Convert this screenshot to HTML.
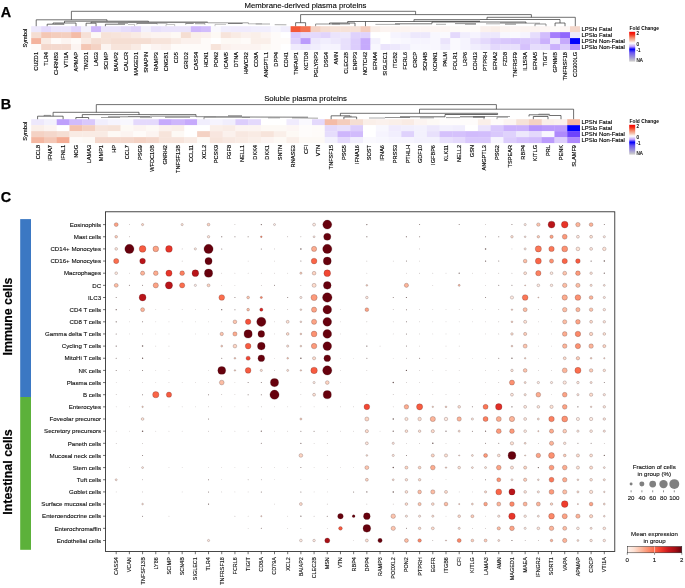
<!DOCTYPE html>
<html><head><meta charset="utf-8"><title>Figure</title>
<style>
html,body{margin:0;padding:0;background:#fff;}
svg{display:block;font-family:"Liberation Sans", sans-serif;will-change:transform;opacity:0.999;}
</style></head>
<body>
<svg width="685" height="588" viewBox="0 0 685 588">
<rect x="0" y="0" width="685" height="588" fill="#ffffff"/>
<text x="0.70" y="16.60" font-size="14.4" text-anchor="start" font-weight="bold" fill="#000" stroke="#000" stroke-width="0.25">A</text>
<text x="305.50" y="7.60" font-size="7.75" text-anchor="middle" font-weight="normal" fill="#000" stroke="#000" stroke-width="0.1">Membrane-derived plasma proteins</text>
<g>
<rect x="31.20" y="26.20" width="10.28" height="6.25" fill="#ede8fc"/>
<rect x="41.18" y="26.20" width="10.28" height="6.25" fill="#e4d9fc"/>
<rect x="51.16" y="26.20" width="10.28" height="6.25" fill="#ebe4fc"/>
<rect x="61.13" y="26.20" width="10.28" height="6.25" fill="#ebe4fc"/>
<rect x="71.11" y="26.20" width="10.28" height="6.25" fill="#e1d4fc"/>
<rect x="81.09" y="26.20" width="10.28" height="6.25" fill="#f3f1fd"/>
<rect x="91.07" y="26.20" width="10.28" height="6.25" fill="#ceb6fc"/>
<rect x="101.05" y="26.20" width="10.28" height="6.25" fill="#ebe4fc"/>
<rect x="111.03" y="26.20" width="10.28" height="6.25" fill="#ebe4fc"/>
<rect x="121.00" y="26.20" width="10.28" height="6.25" fill="#e6ddfc"/>
<rect x="130.98" y="26.20" width="10.28" height="6.25" fill="#e1d4fc"/>
<rect x="140.96" y="26.20" width="10.28" height="6.25" fill="#f3f1fd"/>
<rect x="150.94" y="26.20" width="10.28" height="6.25" fill="#e8e0fc"/>
<rect x="160.92" y="26.20" width="10.28" height="6.25" fill="#ebe4fc"/>
<rect x="170.89" y="26.20" width="10.28" height="6.25" fill="#ebe4fc"/>
<rect x="180.87" y="26.20" width="10.28" height="6.25" fill="#ebe4fc"/>
<rect x="190.85" y="26.20" width="10.28" height="6.25" fill="#ceb6fc"/>
<rect x="200.83" y="26.20" width="10.28" height="6.25" fill="#d2bdfc"/>
<rect x="210.81" y="26.20" width="10.28" height="6.25" fill="#faf9fe"/>
<rect x="220.79" y="26.20" width="10.28" height="6.25" fill="#f1eefd"/>
<rect x="230.76" y="26.20" width="10.28" height="6.25" fill="#f0ebfd"/>
<rect x="240.74" y="26.20" width="10.28" height="6.25" fill="#f0ebfd"/>
<rect x="250.72" y="26.20" width="10.28" height="6.25" fill="#f1eefd"/>
<rect x="260.70" y="26.20" width="10.28" height="6.25" fill="#f1eefd"/>
<rect x="270.68" y="26.20" width="10.28" height="6.25" fill="#f8f7fe"/>
<rect x="280.65" y="26.20" width="10.28" height="6.25" fill="#f1eefd"/>
<rect x="290.63" y="26.20" width="10.28" height="6.25" fill="#f45737"/>
<rect x="300.61" y="26.20" width="10.28" height="6.25" fill="#f47251"/>
<rect x="310.59" y="26.20" width="10.28" height="6.25" fill="#f4d2c4"/>
<rect x="320.57" y="26.20" width="10.28" height="6.25" fill="#f5ded3"/>
<rect x="330.55" y="26.20" width="10.28" height="6.25" fill="#f6e2d8"/>
<rect x="340.52" y="26.20" width="10.28" height="6.25" fill="#f6e2d8"/>
<rect x="350.50" y="26.20" width="10.28" height="6.25" fill="#f6e2d8"/>
<rect x="360.48" y="26.20" width="10.28" height="6.25" fill="#f4cdbd"/>
<rect x="370.46" y="26.20" width="10.28" height="6.25" fill="#faefe9"/>
<rect x="380.44" y="26.20" width="10.28" height="6.25" fill="#fcf4f1"/>
<rect x="390.41" y="26.20" width="10.28" height="6.25" fill="#fcf4f1"/>
<rect x="400.39" y="26.20" width="10.28" height="6.25" fill="#fcf4f1"/>
<rect x="410.37" y="26.20" width="10.28" height="6.25" fill="#fdf6f4"/>
<rect x="420.35" y="26.20" width="10.28" height="6.25" fill="#fdf6f4"/>
<rect x="430.33" y="26.20" width="10.28" height="6.25" fill="#fdf6f4"/>
<rect x="440.31" y="26.20" width="10.28" height="6.25" fill="#fdf6f4"/>
<rect x="450.28" y="26.20" width="10.28" height="6.25" fill="#fdfaf8"/>
<rect x="460.26" y="26.20" width="10.28" height="6.25" fill="#fefbf9"/>
<rect x="470.24" y="26.20" width="10.28" height="6.25" fill="#fefbf9"/>
<rect x="480.22" y="26.20" width="10.28" height="6.25" fill="#fbf1ed"/>
<rect x="490.20" y="26.20" width="10.28" height="6.25" fill="#faefe9"/>
<rect x="500.17" y="26.20" width="10.28" height="6.25" fill="#fcf4f1"/>
<rect x="510.15" y="26.20" width="10.28" height="6.25" fill="#fdf6f4"/>
<rect x="520.13" y="26.20" width="10.28" height="6.25" fill="#fcf4f1"/>
<rect x="530.11" y="26.20" width="10.28" height="6.25" fill="#fcf4f1"/>
<rect x="540.09" y="26.20" width="10.28" height="6.25" fill="#fdf6f4"/>
<rect x="550.07" y="26.20" width="10.28" height="6.25" fill="#fdfaf8"/>
<rect x="560.04" y="26.20" width="10.28" height="6.25" fill="#fdf6f4"/>
<rect x="570.02" y="26.20" width="9.98" height="6.25" fill="#f4d7cb"/>
<rect x="31.20" y="32.15" width="10.28" height="6.25" fill="#f5ded3"/>
<rect x="41.18" y="32.15" width="10.28" height="6.25" fill="#f4c7b5"/>
<rect x="51.16" y="32.15" width="10.28" height="6.25" fill="#f4cdbd"/>
<rect x="61.13" y="32.15" width="10.28" height="6.25" fill="#f4cfc0"/>
<rect x="71.11" y="32.15" width="10.28" height="6.25" fill="#f4bca8"/>
<rect x="81.09" y="32.15" width="10.28" height="6.25" fill="#f6e0d7"/>
<rect x="91.07" y="32.15" width="10.28" height="6.25" fill="#fdf9f5"/>
<rect x="101.05" y="32.15" width="10.28" height="6.25" fill="#f6e2d8"/>
<rect x="111.03" y="32.15" width="10.28" height="6.25" fill="#f7e4db"/>
<rect x="121.00" y="32.15" width="10.28" height="6.25" fill="#f8e6df"/>
<rect x="130.98" y="32.15" width="10.28" height="6.25" fill="#f9ebe4"/>
<rect x="140.96" y="32.15" width="10.28" height="6.25" fill="#fbf1ed"/>
<rect x="150.94" y="32.15" width="10.28" height="6.25" fill="#fcf4f1"/>
<rect x="160.92" y="32.15" width="10.28" height="6.25" fill="#fcf4f1"/>
<rect x="170.89" y="32.15" width="10.28" height="6.25" fill="#fdf9f5"/>
<rect x="180.87" y="32.15" width="10.28" height="6.25" fill="#f5ded3"/>
<rect x="190.85" y="32.15" width="10.28" height="6.25" fill="#faefe9"/>
<rect x="200.83" y="32.15" width="10.28" height="6.25" fill="#fbf1ed"/>
<rect x="210.81" y="32.15" width="10.28" height="6.25" fill="#fdf9f5"/>
<rect x="220.79" y="32.15" width="10.28" height="6.25" fill="#f7e4db"/>
<rect x="230.76" y="32.15" width="10.28" height="6.25" fill="#f9ebe4"/>
<rect x="240.74" y="32.15" width="10.28" height="6.25" fill="#fbf1ed"/>
<rect x="250.72" y="32.15" width="10.28" height="6.25" fill="#faefe9"/>
<rect x="260.70" y="32.15" width="10.28" height="6.25" fill="#fcf4f1"/>
<rect x="270.68" y="32.15" width="10.28" height="6.25" fill="#fefbf9"/>
<rect x="280.65" y="32.15" width="10.28" height="6.25" fill="#ffffff"/>
<rect x="290.63" y="32.15" width="10.28" height="6.25" fill="#d9c8fc"/>
<rect x="300.61" y="32.15" width="10.28" height="6.25" fill="#e4d9fc"/>
<rect x="310.59" y="32.15" width="10.28" height="6.25" fill="#e4d9fc"/>
<rect x="320.57" y="32.15" width="10.28" height="6.25" fill="#e1d4fc"/>
<rect x="330.55" y="32.15" width="10.28" height="6.25" fill="#ebe4fc"/>
<rect x="340.52" y="32.15" width="10.28" height="6.25" fill="#ede8fc"/>
<rect x="350.50" y="32.15" width="10.28" height="6.25" fill="#dfd2fc"/>
<rect x="360.48" y="32.15" width="10.28" height="6.25" fill="#dfd2fc"/>
<rect x="370.46" y="32.15" width="10.28" height="6.25" fill="#ffffff"/>
<rect x="380.44" y="32.15" width="10.28" height="6.25" fill="#ffffff"/>
<rect x="390.41" y="32.15" width="10.28" height="6.25" fill="#f6f4fe"/>
<rect x="400.39" y="32.15" width="10.28" height="6.25" fill="#f3f1fd"/>
<rect x="410.37" y="32.15" width="10.28" height="6.25" fill="#ede8fc"/>
<rect x="420.35" y="32.15" width="10.28" height="6.25" fill="#ede8fc"/>
<rect x="430.33" y="32.15" width="10.28" height="6.25" fill="#f8f7fe"/>
<rect x="440.31" y="32.15" width="10.28" height="6.25" fill="#faf9fe"/>
<rect x="450.28" y="32.15" width="10.28" height="6.25" fill="#e4d9fc"/>
<rect x="460.26" y="32.15" width="10.28" height="6.25" fill="#f1eefd"/>
<rect x="470.24" y="32.15" width="10.28" height="6.25" fill="#f6f4fe"/>
<rect x="480.22" y="32.15" width="10.28" height="6.25" fill="#ede8fc"/>
<rect x="490.20" y="32.15" width="10.28" height="6.25" fill="#ede8fc"/>
<rect x="500.17" y="32.15" width="10.28" height="6.25" fill="#f8f7fe"/>
<rect x="510.15" y="32.15" width="10.28" height="6.25" fill="#faf9fe"/>
<rect x="520.13" y="32.15" width="10.28" height="6.25" fill="#f6f4fe"/>
<rect x="530.11" y="32.15" width="10.28" height="6.25" fill="#e6ddfc"/>
<rect x="540.09" y="32.15" width="10.28" height="6.25" fill="#d2bdfc"/>
<rect x="550.07" y="32.15" width="10.28" height="6.25" fill="#a57efc"/>
<rect x="560.04" y="32.15" width="10.28" height="6.25" fill="#9167fc"/>
<rect x="570.02" y="32.15" width="9.98" height="6.25" fill="#ede8fc"/>
<rect x="31.20" y="38.10" width="10.28" height="6.25" fill="#f4b49e"/>
<rect x="41.18" y="38.10" width="10.28" height="6.25" fill="#f9ebe4"/>
<rect x="51.16" y="38.10" width="10.28" height="6.25" fill="#fefbf9"/>
<rect x="61.13" y="38.10" width="10.28" height="6.25" fill="#fcf4f1"/>
<rect x="71.11" y="38.10" width="10.28" height="6.25" fill="#fefbf9"/>
<rect x="81.09" y="38.10" width="10.28" height="6.25" fill="#f9ebe4"/>
<rect x="91.07" y="38.10" width="10.28" height="6.25" fill="#f5ded3"/>
<rect x="101.05" y="38.10" width="10.28" height="6.25" fill="#f6e2d8"/>
<rect x="111.03" y="38.10" width="10.28" height="6.25" fill="#f5ded3"/>
<rect x="121.00" y="38.10" width="10.28" height="6.25" fill="#f5ded3"/>
<rect x="130.98" y="38.10" width="10.28" height="6.25" fill="#f5ded3"/>
<rect x="140.96" y="38.10" width="10.28" height="6.25" fill="#f5ded3"/>
<rect x="150.94" y="38.10" width="10.28" height="6.25" fill="#f7e4db"/>
<rect x="160.92" y="38.10" width="10.28" height="6.25" fill="#f7e4db"/>
<rect x="170.89" y="38.10" width="10.28" height="6.25" fill="#f9ebe4"/>
<rect x="180.87" y="38.10" width="10.28" height="6.25" fill="#fbf1ed"/>
<rect x="190.85" y="38.10" width="10.28" height="6.25" fill="#fbf1ed"/>
<rect x="200.83" y="38.10" width="10.28" height="6.25" fill="#fefbf9"/>
<rect x="210.81" y="38.10" width="10.28" height="6.25" fill="#ffffff"/>
<rect x="220.79" y="38.10" width="10.28" height="6.25" fill="#fdf9f5"/>
<rect x="230.76" y="38.10" width="10.28" height="6.25" fill="#fdf9f5"/>
<rect x="240.74" y="38.10" width="10.28" height="6.25" fill="#fefbf9"/>
<rect x="250.72" y="38.10" width="10.28" height="6.25" fill="#faefe9"/>
<rect x="260.70" y="38.10" width="10.28" height="6.25" fill="#faefe9"/>
<rect x="270.68" y="38.10" width="10.28" height="6.25" fill="#fefbf9"/>
<rect x="280.65" y="38.10" width="10.28" height="6.25" fill="#fefbf9"/>
<rect x="290.63" y="38.10" width="10.28" height="6.25" fill="#dfd2fc"/>
<rect x="300.61" y="38.10" width="10.28" height="6.25" fill="#bb9bfc"/>
<rect x="310.59" y="38.10" width="10.28" height="6.25" fill="#ede8fc"/>
<rect x="320.57" y="38.10" width="10.28" height="6.25" fill="#f1eefd"/>
<rect x="330.55" y="38.10" width="10.28" height="6.25" fill="#ede8fc"/>
<rect x="340.52" y="38.10" width="10.28" height="6.25" fill="#e8e0fc"/>
<rect x="350.50" y="38.10" width="10.28" height="6.25" fill="#dccdfc"/>
<rect x="360.48" y="38.10" width="10.28" height="6.25" fill="#c6aafc"/>
<rect x="370.46" y="38.10" width="10.28" height="6.25" fill="#f3f1fd"/>
<rect x="380.44" y="38.10" width="10.28" height="6.25" fill="#ffffff"/>
<rect x="390.41" y="38.10" width="10.28" height="6.25" fill="#faf9fe"/>
<rect x="400.39" y="38.10" width="10.28" height="6.25" fill="#f8f7fe"/>
<rect x="410.37" y="38.10" width="10.28" height="6.25" fill="#f6f4fe"/>
<rect x="420.35" y="38.10" width="10.28" height="6.25" fill="#f6f4fe"/>
<rect x="430.33" y="38.10" width="10.28" height="6.25" fill="#f8f7fe"/>
<rect x="440.31" y="38.10" width="10.28" height="6.25" fill="#ebe4fc"/>
<rect x="450.28" y="38.10" width="10.28" height="6.25" fill="#faf9fe"/>
<rect x="460.26" y="38.10" width="10.28" height="6.25" fill="#f6f4fe"/>
<rect x="470.24" y="38.10" width="10.28" height="6.25" fill="#ebe4fc"/>
<rect x="480.22" y="38.10" width="10.28" height="6.25" fill="#e4d9fc"/>
<rect x="490.20" y="38.10" width="10.28" height="6.25" fill="#dccdfc"/>
<rect x="500.17" y="38.10" width="10.28" height="6.25" fill="#d9c8fc"/>
<rect x="510.15" y="38.10" width="10.28" height="6.25" fill="#d6c4fc"/>
<rect x="520.13" y="38.10" width="10.28" height="6.25" fill="#d9c8fc"/>
<rect x="530.11" y="38.10" width="10.28" height="6.25" fill="#dccdfc"/>
<rect x="540.09" y="38.10" width="10.28" height="6.25" fill="#cbb1fc"/>
<rect x="550.07" y="38.10" width="10.28" height="6.25" fill="#ebe4fc"/>
<rect x="560.04" y="38.10" width="10.28" height="6.25" fill="#c6aafc"/>
<rect x="570.02" y="38.10" width="9.98" height="6.25" fill="#0000fc"/>
<rect x="31.20" y="44.05" width="10.28" height="5.95" fill="#fefbf9"/>
<rect x="41.18" y="44.05" width="10.28" height="5.95" fill="#f4d7cb"/>
<rect x="51.16" y="44.05" width="10.28" height="5.95" fill="#f4d9ce"/>
<rect x="61.13" y="44.05" width="10.28" height="5.95" fill="#f4d9ce"/>
<rect x="71.11" y="44.05" width="10.28" height="5.95" fill="#fcf4f1"/>
<rect x="81.09" y="44.05" width="10.28" height="5.95" fill="#f4c7b5"/>
<rect x="91.07" y="44.05" width="10.28" height="5.95" fill="#f4d2c4"/>
<rect x="101.05" y="44.05" width="10.28" height="5.95" fill="#fcf4f1"/>
<rect x="111.03" y="44.05" width="10.28" height="5.95" fill="#f7e4db"/>
<rect x="121.00" y="44.05" width="10.28" height="5.95" fill="#f7e4db"/>
<rect x="130.98" y="44.05" width="10.28" height="5.95" fill="#f9ebe4"/>
<rect x="140.96" y="44.05" width="10.28" height="5.95" fill="#fefbf9"/>
<rect x="150.94" y="44.05" width="10.28" height="5.95" fill="#fcf4f1"/>
<rect x="160.92" y="44.05" width="10.28" height="5.95" fill="#fbf1ed"/>
<rect x="170.89" y="44.05" width="10.28" height="5.95" fill="#fefbf9"/>
<rect x="180.87" y="44.05" width="10.28" height="5.95" fill="#fefbf9"/>
<rect x="190.85" y="44.05" width="10.28" height="5.95" fill="#fefbf9"/>
<rect x="200.83" y="44.05" width="10.28" height="5.95" fill="#fefbf9"/>
<rect x="210.81" y="44.05" width="10.28" height="5.95" fill="#f7e4db"/>
<rect x="220.79" y="44.05" width="10.28" height="5.95" fill="#fbf1ed"/>
<rect x="230.76" y="44.05" width="10.28" height="5.95" fill="#fcf4f1"/>
<rect x="240.74" y="44.05" width="10.28" height="5.95" fill="#fcf4f1"/>
<rect x="250.72" y="44.05" width="10.28" height="5.95" fill="#fcf4f1"/>
<rect x="260.70" y="44.05" width="10.28" height="5.95" fill="#fdf9f5"/>
<rect x="270.68" y="44.05" width="10.28" height="5.95" fill="#fefbf9"/>
<rect x="280.65" y="44.05" width="10.28" height="5.95" fill="#ffffff"/>
<rect x="290.63" y="44.05" width="10.28" height="5.95" fill="#f0ebfd"/>
<rect x="300.61" y="44.05" width="10.28" height="5.95" fill="#ede8fc"/>
<rect x="310.59" y="44.05" width="10.28" height="5.95" fill="#f1eefd"/>
<rect x="320.57" y="44.05" width="10.28" height="5.95" fill="#f6f4fe"/>
<rect x="330.55" y="44.05" width="10.28" height="5.95" fill="#f6f4fe"/>
<rect x="340.52" y="44.05" width="10.28" height="5.95" fill="#e8e0fc"/>
<rect x="350.50" y="44.05" width="10.28" height="5.95" fill="#dccdfc"/>
<rect x="360.48" y="44.05" width="10.28" height="5.95" fill="#c6aafc"/>
<rect x="370.46" y="44.05" width="10.28" height="5.95" fill="#f8f7fe"/>
<rect x="380.44" y="44.05" width="10.28" height="5.95" fill="#ebe4fc"/>
<rect x="390.41" y="44.05" width="10.28" height="5.95" fill="#ede8fc"/>
<rect x="400.39" y="44.05" width="10.28" height="5.95" fill="#f1eefd"/>
<rect x="410.37" y="44.05" width="10.28" height="5.95" fill="#f8f7fe"/>
<rect x="420.35" y="44.05" width="10.28" height="5.95" fill="#f8f7fe"/>
<rect x="430.33" y="44.05" width="10.28" height="5.95" fill="#f8f7fe"/>
<rect x="440.31" y="44.05" width="10.28" height="5.95" fill="#f1eefd"/>
<rect x="450.28" y="44.05" width="10.28" height="5.95" fill="#faf9fe"/>
<rect x="460.26" y="44.05" width="10.28" height="5.95" fill="#f6f4fe"/>
<rect x="470.24" y="44.05" width="10.28" height="5.95" fill="#f1eefd"/>
<rect x="480.22" y="44.05" width="10.28" height="5.95" fill="#ede8fc"/>
<rect x="490.20" y="44.05" width="10.28" height="5.95" fill="#e4d9fc"/>
<rect x="500.17" y="44.05" width="10.28" height="5.95" fill="#e8e0fc"/>
<rect x="510.15" y="44.05" width="10.28" height="5.95" fill="#e8e0fc"/>
<rect x="520.13" y="44.05" width="10.28" height="5.95" fill="#d5c1fc"/>
<rect x="530.11" y="44.05" width="10.28" height="5.95" fill="#e6ddfc"/>
<rect x="540.09" y="44.05" width="10.28" height="5.95" fill="#e6ddfc"/>
<rect x="550.07" y="44.05" width="10.28" height="5.95" fill="#cbb1fc"/>
<rect x="560.04" y="44.05" width="10.28" height="5.95" fill="#dccdfc"/>
<rect x="570.02" y="44.05" width="9.98" height="5.95" fill="#b695fc"/>
</g>
<text x="27.20" y="38.10" font-size="5.7" text-anchor="middle" font-weight="normal" fill="#000" transform="rotate(-90 27.20 38.10)" stroke="#000" stroke-width="0.14">Symbol</text>
<text x="38.19" y="52.00" font-size="5.6" text-anchor="end" font-weight="normal" fill="#000" transform="rotate(-90 38.19 52.00)" stroke="#000" stroke-width="0.14">CUZD1</text>
<text x="48.17" y="52.00" font-size="5.6" text-anchor="end" font-weight="normal" fill="#000" transform="rotate(-90 48.17 52.00)" stroke="#000" stroke-width="0.14">TLR4</text>
<text x="58.15" y="52.00" font-size="5.6" text-anchor="end" font-weight="normal" fill="#000" transform="rotate(-90 58.15 52.00)" stroke="#000" stroke-width="0.14">CHRNB3</text>
<text x="68.12" y="52.00" font-size="5.6" text-anchor="end" font-weight="normal" fill="#000" transform="rotate(-90 68.12 52.00)" stroke="#000" stroke-width="0.14">VTI1A</text>
<text x="78.10" y="52.00" font-size="5.6" text-anchor="end" font-weight="normal" fill="#000" transform="rotate(-90 78.10 52.00)" stroke="#000" stroke-width="0.14">APMAP</text>
<text x="88.08" y="52.00" font-size="5.6" text-anchor="end" font-weight="normal" fill="#000" transform="rotate(-90 88.08 52.00)" stroke="#000" stroke-width="0.14">TM2D1</text>
<text x="98.06" y="52.00" font-size="5.6" text-anchor="end" font-weight="normal" fill="#000" transform="rotate(-90 98.06 52.00)" stroke="#000" stroke-width="0.14">LAG3</text>
<text x="108.04" y="52.00" font-size="5.6" text-anchor="end" font-weight="normal" fill="#000" transform="rotate(-90 108.04 52.00)" stroke="#000" stroke-width="0.14">SCIMP</text>
<text x="118.01" y="52.00" font-size="5.6" text-anchor="end" font-weight="normal" fill="#000" transform="rotate(-90 118.01 52.00)" stroke="#000" stroke-width="0.14">BAIAP2</text>
<text x="127.99" y="52.00" font-size="5.6" text-anchor="end" font-weight="normal" fill="#000" transform="rotate(-90 127.99 52.00)" stroke="#000" stroke-width="0.14">CALCR</text>
<text x="137.97" y="52.00" font-size="5.6" text-anchor="end" font-weight="normal" fill="#000" transform="rotate(-90 137.97 52.00)" stroke="#000" stroke-width="0.14">MAGED1</text>
<text x="147.95" y="52.00" font-size="5.6" text-anchor="end" font-weight="normal" fill="#000" transform="rotate(-90 147.95 52.00)" stroke="#000" stroke-width="0.14">SNAPIN</text>
<text x="157.93" y="52.00" font-size="5.6" text-anchor="end" font-weight="normal" fill="#000" transform="rotate(-90 157.93 52.00)" stroke="#000" stroke-width="0.14">RAMP3</text>
<text x="167.91" y="52.00" font-size="5.6" text-anchor="end" font-weight="normal" fill="#000" transform="rotate(-90 167.91 52.00)" stroke="#000" stroke-width="0.14">CNGB1</text>
<text x="177.88" y="52.00" font-size="5.6" text-anchor="end" font-weight="normal" fill="#000" transform="rotate(-90 177.88 52.00)" stroke="#000" stroke-width="0.14">CD5</text>
<text x="187.86" y="52.00" font-size="5.6" text-anchor="end" font-weight="normal" fill="#000" transform="rotate(-90 187.86 52.00)" stroke="#000" stroke-width="0.14">GRID2</text>
<text x="197.84" y="52.00" font-size="5.6" text-anchor="end" font-weight="normal" fill="#000" transform="rotate(-90 197.84 52.00)" stroke="#000" stroke-width="0.14">CASS4</text>
<text x="207.82" y="52.00" font-size="5.6" text-anchor="end" font-weight="normal" fill="#000" transform="rotate(-90 207.82 52.00)" stroke="#000" stroke-width="0.14">HCN1</text>
<text x="217.80" y="52.00" font-size="5.6" text-anchor="end" font-weight="normal" fill="#000" transform="rotate(-90 217.80 52.00)" stroke="#000" stroke-width="0.14">PON2</text>
<text x="227.77" y="52.00" font-size="5.6" text-anchor="end" font-weight="normal" fill="#000" transform="rotate(-90 227.77 52.00)" stroke="#000" stroke-width="0.14">ICAM5</text>
<text x="237.75" y="52.00" font-size="5.6" text-anchor="end" font-weight="normal" fill="#000" transform="rotate(-90 237.75 52.00)" stroke="#000" stroke-width="0.14">DTNA</text>
<text x="247.73" y="52.00" font-size="5.6" text-anchor="end" font-weight="normal" fill="#000" transform="rotate(-90 247.73 52.00)" stroke="#000" stroke-width="0.14">HAVCR2</text>
<text x="257.71" y="52.00" font-size="5.6" text-anchor="end" font-weight="normal" fill="#000" transform="rotate(-90 257.71 52.00)" stroke="#000" stroke-width="0.14">CD8A</text>
<text x="267.69" y="52.00" font-size="5.6" text-anchor="end" font-weight="normal" fill="#000" transform="rotate(-90 267.69 52.00)" stroke="#000" stroke-width="0.14">ANGPTL1</text>
<text x="277.67" y="52.00" font-size="5.6" text-anchor="end" font-weight="normal" fill="#000" transform="rotate(-90 277.67 52.00)" stroke="#000" stroke-width="0.14">DPP4</text>
<text x="287.64" y="52.00" font-size="5.6" text-anchor="end" font-weight="normal" fill="#000" transform="rotate(-90 287.64 52.00)" stroke="#000" stroke-width="0.14">CDH1</text>
<text x="297.62" y="52.00" font-size="5.6" text-anchor="end" font-weight="normal" fill="#000" transform="rotate(-90 297.62 52.00)" stroke="#000" stroke-width="0.14">TNFAIP1</text>
<text x="307.60" y="52.00" font-size="5.6" text-anchor="end" font-weight="normal" fill="#000" transform="rotate(-90 307.60 52.00)" stroke="#000" stroke-width="0.14">KCTD8</text>
<text x="317.58" y="52.00" font-size="5.6" text-anchor="end" font-weight="normal" fill="#000" transform="rotate(-90 317.58 52.00)" stroke="#000" stroke-width="0.14">PGLYRP3</text>
<text x="327.56" y="52.00" font-size="5.6" text-anchor="end" font-weight="normal" fill="#000" transform="rotate(-90 327.56 52.00)" stroke="#000" stroke-width="0.14">DSG4</text>
<text x="337.53" y="52.00" font-size="5.6" text-anchor="end" font-weight="normal" fill="#000" transform="rotate(-90 337.53 52.00)" stroke="#000" stroke-width="0.14">AMN</text>
<text x="347.51" y="52.00" font-size="5.6" text-anchor="end" font-weight="normal" fill="#000" transform="rotate(-90 347.51 52.00)" stroke="#000" stroke-width="0.14">CLEC2B</text>
<text x="357.49" y="52.00" font-size="5.6" text-anchor="end" font-weight="normal" fill="#000" transform="rotate(-90 357.49 52.00)" stroke="#000" stroke-width="0.14">ENPP3</text>
<text x="367.47" y="52.00" font-size="5.6" text-anchor="end" font-weight="normal" fill="#000" transform="rotate(-90 367.47 52.00)" stroke="#000" stroke-width="0.14">NOTCH2</text>
<text x="377.45" y="52.00" font-size="5.6" text-anchor="end" font-weight="normal" fill="#000" transform="rotate(-90 377.45 52.00)" stroke="#000" stroke-width="0.14">EFNA4</text>
<text x="387.43" y="52.00" font-size="5.6" text-anchor="end" font-weight="normal" fill="#000" transform="rotate(-90 387.43 52.00)" stroke="#000" stroke-width="0.14">SIGLEC1</text>
<text x="397.40" y="52.00" font-size="5.6" text-anchor="end" font-weight="normal" fill="#000" transform="rotate(-90 397.40 52.00)" stroke="#000" stroke-width="0.14">ITGB2</text>
<text x="407.38" y="52.00" font-size="5.6" text-anchor="end" font-weight="normal" fill="#000" transform="rotate(-90 407.38 52.00)" stroke="#000" stroke-width="0.14">FCRL6</text>
<text x="417.36" y="52.00" font-size="5.6" text-anchor="end" font-weight="normal" fill="#000" transform="rotate(-90 417.36 52.00)" stroke="#000" stroke-width="0.14">CRCP</text>
<text x="427.34" y="52.00" font-size="5.6" text-anchor="end" font-weight="normal" fill="#000" transform="rotate(-90 427.34 52.00)" stroke="#000" stroke-width="0.14">SCN4B</text>
<text x="437.32" y="52.00" font-size="5.6" text-anchor="end" font-weight="normal" fill="#000" transform="rotate(-90 437.32 52.00)" stroke="#000" stroke-width="0.14">KCNN1</text>
<text x="447.29" y="52.00" font-size="5.6" text-anchor="end" font-weight="normal" fill="#000" transform="rotate(-90 447.29 52.00)" stroke="#000" stroke-width="0.14">PALM</text>
<text x="457.27" y="52.00" font-size="5.6" text-anchor="end" font-weight="normal" fill="#000" transform="rotate(-90 457.27 52.00)" stroke="#000" stroke-width="0.14">FOLR1</text>
<text x="467.25" y="52.00" font-size="5.6" text-anchor="end" font-weight="normal" fill="#000" transform="rotate(-90 467.25 52.00)" stroke="#000" stroke-width="0.14">LRP6</text>
<text x="477.23" y="52.00" font-size="5.6" text-anchor="end" font-weight="normal" fill="#000" transform="rotate(-90 477.23 52.00)" stroke="#000" stroke-width="0.14">CDH13</text>
<text x="487.21" y="52.00" font-size="5.6" text-anchor="end" font-weight="normal" fill="#000" transform="rotate(-90 487.21 52.00)" stroke="#000" stroke-width="0.14">PTPRH</text>
<text x="497.19" y="52.00" font-size="5.6" text-anchor="end" font-weight="normal" fill="#000" transform="rotate(-90 497.19 52.00)" stroke="#000" stroke-width="0.14">EFNA2</text>
<text x="507.16" y="52.00" font-size="5.6" text-anchor="end" font-weight="normal" fill="#000" transform="rotate(-90 507.16 52.00)" stroke="#000" stroke-width="0.14">FZD8</text>
<text x="517.14" y="52.00" font-size="5.6" text-anchor="end" font-weight="normal" fill="#000" transform="rotate(-90 517.14 52.00)" stroke="#000" stroke-width="0.14">TNFRSF9</text>
<text x="527.12" y="52.00" font-size="5.6" text-anchor="end" font-weight="normal" fill="#000" transform="rotate(-90 527.12 52.00)" stroke="#000" stroke-width="0.14">IL15RA</text>
<text x="537.10" y="52.00" font-size="5.6" text-anchor="end" font-weight="normal" fill="#000" transform="rotate(-90 537.10 52.00)" stroke="#000" stroke-width="0.14">EFNA5</text>
<text x="547.08" y="52.00" font-size="5.6" text-anchor="end" font-weight="normal" fill="#000" transform="rotate(-90 547.08 52.00)" stroke="#000" stroke-width="0.14">TIGIT</text>
<text x="557.05" y="52.00" font-size="5.6" text-anchor="end" font-weight="normal" fill="#000" transform="rotate(-90 557.05 52.00)" stroke="#000" stroke-width="0.14">GPNMB</text>
<text x="567.03" y="52.00" font-size="5.6" text-anchor="end" font-weight="normal" fill="#000" transform="rotate(-90 567.03 52.00)" stroke="#000" stroke-width="0.14">TNFRSF18</text>
<text x="577.01" y="52.00" font-size="5.6" text-anchor="end" font-weight="normal" fill="#000" transform="rotate(-90 577.01 52.00)" stroke="#000" stroke-width="0.14">CD300LG</text>
<text x="581.60" y="31.28" font-size="5.9" text-anchor="start" font-weight="normal" fill="#000" stroke="#000" stroke-width="0.14">LPShi Fatal</text>
<text x="581.60" y="37.23" font-size="5.9" text-anchor="start" font-weight="normal" fill="#000" stroke="#000" stroke-width="0.14">LPSlo Fatal</text>
<text x="581.60" y="43.18" font-size="5.9" text-anchor="start" font-weight="normal" fill="#000" stroke="#000" stroke-width="0.14">LPShi Non-Fatal</text>
<text x="581.60" y="49.12" font-size="5.9" text-anchor="start" font-weight="normal" fill="#000" stroke="#000" stroke-width="0.14">LPSlo Non-Fatal</text>
<text x="629.60" y="30.20" font-size="4.85" text-anchor="start" font-weight="bold" fill="#000">Fold Change</text>
<defs><linearGradient id="gA" x1="0" y1="0" x2="0" y2="1"><stop offset="0" stop-color="#f40000"/><stop offset="0.1" stop-color="#f4341b"/><stop offset="0.2" stop-color="#f48a6b"/><stop offset="0.3" stop-color="#f4c7b5"/><stop offset="0.38" stop-color="#ffffff"/><stop offset="0.44" stop-color="#dccdfc"/><stop offset="0.5" stop-color="#b695fc"/><stop offset="0.585" stop-color="#0000fc"/><stop offset="0.7" stop-color="#6a55f0"/><stop offset="0.85" stop-color="#9c92d8"/><stop offset="0.96" stop-color="#c4c2cc"/><stop offset="1" stop-color="#cccccc"/></linearGradient></defs>
<rect x="629.2" y="31.80" width="6.0" height="29.8" fill="url(#gA)"/>
<text x="636.60" y="35.40" font-size="4.5" text-anchor="start" font-weight="normal" fill="#000" stroke="#000" stroke-width="0.14">2</text>
<text x="636.60" y="45.80" font-size="4.5" text-anchor="start" font-weight="normal" fill="#000" stroke="#000" stroke-width="0.14">0</text>
<text x="636.60" y="51.50" font-size="4.5" text-anchor="start" font-weight="normal" fill="#000" stroke="#000" stroke-width="0.14">-1</text>
<text x="636.60" y="62.20" font-size="4.5" text-anchor="start" font-weight="normal" fill="#000" stroke="#000" stroke-width="0.14">NA</text>
<text x="0.70" y="109.40" font-size="14.4" text-anchor="start" font-weight="bold" fill="#000" stroke="#000" stroke-width="0.25">B</text>
<text x="305.50" y="100.60" font-size="7.75" text-anchor="middle" font-weight="normal" fill="#000" stroke="#000" stroke-width="0.1">Soluble plasma proteins</text>
<g>
<rect x="31.20" y="119.20" width="13.06" height="6.27" fill="#ede8fc"/>
<rect x="43.96" y="119.20" width="13.06" height="6.27" fill="#f3f1fd"/>
<rect x="56.73" y="119.20" width="13.06" height="6.27" fill="#bea0fc"/>
<rect x="69.49" y="119.20" width="13.06" height="6.27" fill="#d1bbfc"/>
<rect x="82.25" y="119.20" width="13.06" height="6.27" fill="#d9c8fc"/>
<rect x="95.01" y="119.20" width="13.06" height="6.27" fill="#f1eefd"/>
<rect x="107.78" y="119.20" width="13.06" height="6.27" fill="#f6f4fe"/>
<rect x="120.54" y="119.20" width="13.06" height="6.27" fill="#f8f7fe"/>
<rect x="133.30" y="119.20" width="13.06" height="6.27" fill="#e4d9fc"/>
<rect x="146.07" y="119.20" width="13.06" height="6.27" fill="#e4d9fc"/>
<rect x="158.83" y="119.20" width="13.06" height="6.27" fill="#c6aafc"/>
<rect x="171.59" y="119.20" width="13.06" height="6.27" fill="#ceb6fc"/>
<rect x="184.35" y="119.20" width="13.06" height="6.27" fill="#c6aafc"/>
<rect x="197.12" y="119.20" width="13.06" height="6.27" fill="#f1eefd"/>
<rect x="209.88" y="119.20" width="13.06" height="6.27" fill="#f6f4fe"/>
<rect x="222.64" y="119.20" width="13.06" height="6.27" fill="#f1eefd"/>
<rect x="235.40" y="119.20" width="13.06" height="6.27" fill="#dccdfc"/>
<rect x="248.17" y="119.20" width="13.06" height="6.27" fill="#e4d9fc"/>
<rect x="260.93" y="119.20" width="13.06" height="6.27" fill="#ffffff"/>
<rect x="273.69" y="119.20" width="13.06" height="6.27" fill="#ffffff"/>
<rect x="286.46" y="119.20" width="13.06" height="6.27" fill="#f0ebfd"/>
<rect x="299.22" y="119.20" width="13.06" height="6.27" fill="#faf9fe"/>
<rect x="311.98" y="119.20" width="13.06" height="6.27" fill="#e4d9fc"/>
<rect x="324.74" y="119.20" width="13.06" height="6.27" fill="#f4bca8"/>
<rect x="337.51" y="119.20" width="13.06" height="6.27" fill="#f4cdbd"/>
<rect x="350.27" y="119.20" width="13.06" height="6.27" fill="#f5ded3"/>
<rect x="363.03" y="119.20" width="13.06" height="6.27" fill="#faefe9"/>
<rect x="375.80" y="119.20" width="13.06" height="6.27" fill="#fbf1ed"/>
<rect x="388.56" y="119.20" width="13.06" height="6.27" fill="#faefe9"/>
<rect x="401.32" y="119.20" width="13.06" height="6.27" fill="#f9ebe4"/>
<rect x="414.08" y="119.20" width="13.06" height="6.27" fill="#fcf4f1"/>
<rect x="426.85" y="119.20" width="13.06" height="6.27" fill="#fdf9f5"/>
<rect x="439.61" y="119.20" width="13.06" height="6.27" fill="#fefcfb"/>
<rect x="452.37" y="119.20" width="13.06" height="6.27" fill="#fefcfb"/>
<rect x="465.13" y="119.20" width="13.06" height="6.27" fill="#fefcfb"/>
<rect x="477.90" y="119.20" width="13.06" height="6.27" fill="#faefe9"/>
<rect x="490.66" y="119.20" width="13.06" height="6.27" fill="#fefbf9"/>
<rect x="503.42" y="119.20" width="13.06" height="6.27" fill="#fcf4f1"/>
<rect x="516.19" y="119.20" width="13.06" height="6.27" fill="#f6e2d8"/>
<rect x="528.95" y="119.20" width="13.06" height="6.27" fill="#f4d2c4"/>
<rect x="541.71" y="119.20" width="13.06" height="6.27" fill="#faefe9"/>
<rect x="554.47" y="119.20" width="13.06" height="6.27" fill="#fbf1ed"/>
<rect x="567.24" y="119.20" width="12.76" height="6.27" fill="#f4b7a1"/>
<rect x="31.20" y="125.17" width="13.06" height="6.27" fill="#faefe9"/>
<rect x="43.96" y="125.17" width="13.06" height="6.27" fill="#fcf4f1"/>
<rect x="56.73" y="125.17" width="13.06" height="6.27" fill="#ffffff"/>
<rect x="69.49" y="125.17" width="13.06" height="6.27" fill="#f4c2af"/>
<rect x="82.25" y="125.17" width="13.06" height="6.27" fill="#f4cfc0"/>
<rect x="95.01" y="125.17" width="13.06" height="6.27" fill="#f7e4db"/>
<rect x="107.78" y="125.17" width="13.06" height="6.27" fill="#f6e2d8"/>
<rect x="120.54" y="125.17" width="13.06" height="6.27" fill="#fdf9f5"/>
<rect x="133.30" y="125.17" width="13.06" height="6.27" fill="#fcf4f1"/>
<rect x="146.07" y="125.17" width="13.06" height="6.27" fill="#fdf9f5"/>
<rect x="158.83" y="125.17" width="13.06" height="6.27" fill="#fbf1ed"/>
<rect x="171.59" y="125.17" width="13.06" height="6.27" fill="#faefe9"/>
<rect x="184.35" y="125.17" width="13.06" height="6.27" fill="#ffffff"/>
<rect x="197.12" y="125.17" width="13.06" height="6.27" fill="#ffffff"/>
<rect x="209.88" y="125.17" width="13.06" height="6.27" fill="#faefe9"/>
<rect x="222.64" y="125.17" width="13.06" height="6.27" fill="#f9ece6"/>
<rect x="235.40" y="125.17" width="13.06" height="6.27" fill="#fcf4f1"/>
<rect x="248.17" y="125.17" width="13.06" height="6.27" fill="#fcf4f1"/>
<rect x="260.93" y="125.17" width="13.06" height="6.27" fill="#fdf9f5"/>
<rect x="273.69" y="125.17" width="13.06" height="6.27" fill="#fdf9f5"/>
<rect x="286.46" y="125.17" width="13.06" height="6.27" fill="#fdf6f4"/>
<rect x="299.22" y="125.17" width="13.06" height="6.27" fill="#fefcfb"/>
<rect x="311.98" y="125.17" width="13.06" height="6.27" fill="#fefbf9"/>
<rect x="324.74" y="125.17" width="13.06" height="6.27" fill="#e4d9fc"/>
<rect x="337.51" y="125.17" width="13.06" height="6.27" fill="#e8e0fc"/>
<rect x="350.27" y="125.17" width="13.06" height="6.27" fill="#dccdfc"/>
<rect x="363.03" y="125.17" width="13.06" height="6.27" fill="#ffffff"/>
<rect x="375.80" y="125.17" width="13.06" height="6.27" fill="#f8f7fe"/>
<rect x="388.56" y="125.17" width="13.06" height="6.27" fill="#f0ebfd"/>
<rect x="401.32" y="125.17" width="13.06" height="6.27" fill="#f1eefd"/>
<rect x="414.08" y="125.17" width="13.06" height="6.27" fill="#f3f1fd"/>
<rect x="426.85" y="125.17" width="13.06" height="6.27" fill="#ede8fc"/>
<rect x="439.61" y="125.17" width="13.06" height="6.27" fill="#f3f1fd"/>
<rect x="452.37" y="125.17" width="13.06" height="6.27" fill="#f1eefd"/>
<rect x="465.13" y="125.17" width="13.06" height="6.27" fill="#ffffff"/>
<rect x="477.90" y="125.17" width="13.06" height="6.27" fill="#ebe4fc"/>
<rect x="490.66" y="125.17" width="13.06" height="6.27" fill="#d9c8fc"/>
<rect x="503.42" y="125.17" width="13.06" height="6.27" fill="#cbb1fc"/>
<rect x="516.19" y="125.17" width="13.06" height="6.27" fill="#cbb1fc"/>
<rect x="528.95" y="125.17" width="13.06" height="6.27" fill="#b695fc"/>
<rect x="541.71" y="125.17" width="13.06" height="6.27" fill="#bb9bfc"/>
<rect x="554.47" y="125.17" width="13.06" height="6.27" fill="#bb9bfc"/>
<rect x="567.24" y="125.17" width="12.76" height="6.27" fill="#0000fc"/>
<rect x="31.20" y="131.15" width="13.06" height="6.27" fill="#f4d2c4"/>
<rect x="43.96" y="131.15" width="13.06" height="6.27" fill="#f4d7cb"/>
<rect x="56.73" y="131.15" width="13.06" height="6.27" fill="#f5ded3"/>
<rect x="69.49" y="131.15" width="13.06" height="6.27" fill="#f9ebe4"/>
<rect x="82.25" y="131.15" width="13.06" height="6.27" fill="#f9ebe4"/>
<rect x="95.01" y="131.15" width="13.06" height="6.27" fill="#f9ebe4"/>
<rect x="107.78" y="131.15" width="13.06" height="6.27" fill="#fdf9f5"/>
<rect x="120.54" y="131.15" width="13.06" height="6.27" fill="#fcf4f1"/>
<rect x="133.30" y="131.15" width="13.06" height="6.27" fill="#fefbf9"/>
<rect x="146.07" y="131.15" width="13.06" height="6.27" fill="#fcf4f1"/>
<rect x="158.83" y="131.15" width="13.06" height="6.27" fill="#f7e4db"/>
<rect x="171.59" y="131.15" width="13.06" height="6.27" fill="#fdf9f5"/>
<rect x="184.35" y="131.15" width="13.06" height="6.27" fill="#ffffff"/>
<rect x="197.12" y="131.15" width="13.06" height="6.27" fill="#f4d2c4"/>
<rect x="209.88" y="131.15" width="13.06" height="6.27" fill="#f8e6df"/>
<rect x="222.64" y="131.15" width="13.06" height="6.27" fill="#fbf1ed"/>
<rect x="235.40" y="131.15" width="13.06" height="6.27" fill="#f8e8e1"/>
<rect x="248.17" y="131.15" width="13.06" height="6.27" fill="#f9ebe4"/>
<rect x="260.93" y="131.15" width="13.06" height="6.27" fill="#f7e4db"/>
<rect x="273.69" y="131.15" width="13.06" height="6.27" fill="#faefe9"/>
<rect x="286.46" y="131.15" width="13.06" height="6.27" fill="#fdf9f5"/>
<rect x="299.22" y="131.15" width="13.06" height="6.27" fill="#fefcfb"/>
<rect x="311.98" y="131.15" width="13.06" height="6.27" fill="#fefbf9"/>
<rect x="324.74" y="131.15" width="13.06" height="6.27" fill="#e6ddfc"/>
<rect x="337.51" y="131.15" width="13.06" height="6.27" fill="#ceb6fc"/>
<rect x="350.27" y="131.15" width="13.06" height="6.27" fill="#d1bbfc"/>
<rect x="363.03" y="131.15" width="13.06" height="6.27" fill="#ffffff"/>
<rect x="375.80" y="131.15" width="13.06" height="6.27" fill="#f6f4fe"/>
<rect x="388.56" y="131.15" width="13.06" height="6.27" fill="#f1eefd"/>
<rect x="401.32" y="131.15" width="13.06" height="6.27" fill="#dfd2fc"/>
<rect x="414.08" y="131.15" width="13.06" height="6.27" fill="#f3f1fd"/>
<rect x="426.85" y="131.15" width="13.06" height="6.27" fill="#e8e0fc"/>
<rect x="439.61" y="131.15" width="13.06" height="6.27" fill="#d5c1fc"/>
<rect x="452.37" y="131.15" width="13.06" height="6.27" fill="#d5c1fc"/>
<rect x="465.13" y="131.15" width="13.06" height="6.27" fill="#d1bbfc"/>
<rect x="477.90" y="131.15" width="13.06" height="6.27" fill="#d2bdfc"/>
<rect x="490.66" y="131.15" width="13.06" height="6.27" fill="#d9c8fc"/>
<rect x="503.42" y="131.15" width="13.06" height="6.27" fill="#dfd2fc"/>
<rect x="516.19" y="131.15" width="13.06" height="6.27" fill="#ede8fc"/>
<rect x="528.95" y="131.15" width="13.06" height="6.27" fill="#e4d9fc"/>
<rect x="541.71" y="131.15" width="13.06" height="6.27" fill="#f8f7fe"/>
<rect x="554.47" y="131.15" width="13.06" height="6.27" fill="#ae89fc"/>
<rect x="567.24" y="131.15" width="12.76" height="6.27" fill="#6e44fc"/>
<rect x="31.20" y="137.12" width="13.06" height="5.97" fill="#f4b7a1"/>
<rect x="43.96" y="137.12" width="13.06" height="5.97" fill="#f4c7b5"/>
<rect x="56.73" y="137.12" width="13.06" height="5.97" fill="#f4ac94"/>
<rect x="69.49" y="137.12" width="13.06" height="5.97" fill="#fefbf9"/>
<rect x="82.25" y="137.12" width="13.06" height="5.97" fill="#fdf9f5"/>
<rect x="95.01" y="137.12" width="13.06" height="5.97" fill="#f4d7cb"/>
<rect x="107.78" y="137.12" width="13.06" height="5.97" fill="#f4d7cb"/>
<rect x="120.54" y="137.12" width="13.06" height="5.97" fill="#f4d7cb"/>
<rect x="133.30" y="137.12" width="13.06" height="5.97" fill="#f4d2c4"/>
<rect x="146.07" y="137.12" width="13.06" height="5.97" fill="#f4d7cb"/>
<rect x="158.83" y="137.12" width="13.06" height="5.97" fill="#f7e4db"/>
<rect x="171.59" y="137.12" width="13.06" height="5.97" fill="#f7e4db"/>
<rect x="184.35" y="137.12" width="13.06" height="5.97" fill="#f9ebe4"/>
<rect x="197.12" y="137.12" width="13.06" height="5.97" fill="#fdf9f5"/>
<rect x="209.88" y="137.12" width="13.06" height="5.97" fill="#f7e4db"/>
<rect x="222.64" y="137.12" width="13.06" height="5.97" fill="#f8e8e1"/>
<rect x="235.40" y="137.12" width="13.06" height="5.97" fill="#f9ebe4"/>
<rect x="248.17" y="137.12" width="13.06" height="5.97" fill="#faefe9"/>
<rect x="260.93" y="137.12" width="13.06" height="5.97" fill="#fcf4f1"/>
<rect x="273.69" y="137.12" width="13.06" height="5.97" fill="#fdf9f5"/>
<rect x="286.46" y="137.12" width="13.06" height="5.97" fill="#faefe9"/>
<rect x="299.22" y="137.12" width="13.06" height="5.97" fill="#fdf9f5"/>
<rect x="311.98" y="137.12" width="13.06" height="5.97" fill="#fdf9f5"/>
<rect x="324.74" y="137.12" width="13.06" height="5.97" fill="#f3f1fd"/>
<rect x="337.51" y="137.12" width="13.06" height="5.97" fill="#e4d9fc"/>
<rect x="350.27" y="137.12" width="13.06" height="5.97" fill="#f1eefd"/>
<rect x="363.03" y="137.12" width="13.06" height="5.97" fill="#faf9fe"/>
<rect x="375.80" y="137.12" width="13.06" height="5.97" fill="#f8f7fe"/>
<rect x="388.56" y="137.12" width="13.06" height="5.97" fill="#f6f4fe"/>
<rect x="401.32" y="137.12" width="13.06" height="5.97" fill="#f6f4fe"/>
<rect x="414.08" y="137.12" width="13.06" height="5.97" fill="#f3f1fd"/>
<rect x="426.85" y="137.12" width="13.06" height="5.97" fill="#f3f1fd"/>
<rect x="439.61" y="137.12" width="13.06" height="5.97" fill="#e8e0fc"/>
<rect x="452.37" y="137.12" width="13.06" height="5.97" fill="#e4d9fc"/>
<rect x="465.13" y="137.12" width="13.06" height="5.97" fill="#d9c8fc"/>
<rect x="477.90" y="137.12" width="13.06" height="5.97" fill="#d9c8fc"/>
<rect x="490.66" y="137.12" width="13.06" height="5.97" fill="#f6f4fe"/>
<rect x="503.42" y="137.12" width="13.06" height="5.97" fill="#dccdfc"/>
<rect x="516.19" y="137.12" width="13.06" height="5.97" fill="#d5c1fc"/>
<rect x="528.95" y="137.12" width="13.06" height="5.97" fill="#d2bdfc"/>
<rect x="541.71" y="137.12" width="13.06" height="5.97" fill="#bb9bfc"/>
<rect x="554.47" y="137.12" width="13.06" height="5.97" fill="#dccdfc"/>
<rect x="567.24" y="137.12" width="12.76" height="5.97" fill="#ae89fc"/>
</g>
<text x="27.20" y="131.15" font-size="5.7" text-anchor="middle" font-weight="normal" fill="#000" transform="rotate(-90 27.20 131.15)" stroke="#000" stroke-width="0.14">Symbol</text>
<text x="39.58" y="145.00" font-size="5.6" text-anchor="end" font-weight="normal" fill="#000" transform="rotate(-90 39.58 145.00)" stroke="#000" stroke-width="0.14">CCL8</text>
<text x="52.34" y="145.00" font-size="5.6" text-anchor="end" font-weight="normal" fill="#000" transform="rotate(-90 52.34 145.00)" stroke="#000" stroke-width="0.14">IFNA7</text>
<text x="65.11" y="145.00" font-size="5.6" text-anchor="end" font-weight="normal" fill="#000" transform="rotate(-90 65.11 145.00)" stroke="#000" stroke-width="0.14">IFNL1</text>
<text x="77.87" y="145.00" font-size="5.6" text-anchor="end" font-weight="normal" fill="#000" transform="rotate(-90 77.87 145.00)" stroke="#000" stroke-width="0.14">NOG</text>
<text x="90.63" y="145.00" font-size="5.6" text-anchor="end" font-weight="normal" fill="#000" transform="rotate(-90 90.63 145.00)" stroke="#000" stroke-width="0.14">LAMA3</text>
<text x="103.40" y="145.00" font-size="5.6" text-anchor="end" font-weight="normal" fill="#000" transform="rotate(-90 103.40 145.00)" stroke="#000" stroke-width="0.14">MMP1</text>
<text x="116.16" y="145.00" font-size="5.6" text-anchor="end" font-weight="normal" fill="#000" transform="rotate(-90 116.16 145.00)" stroke="#000" stroke-width="0.14">HP</text>
<text x="128.92" y="145.00" font-size="5.6" text-anchor="end" font-weight="normal" fill="#000" transform="rotate(-90 128.92 145.00)" stroke="#000" stroke-width="0.14">CCL7</text>
<text x="141.68" y="145.00" font-size="5.6" text-anchor="end" font-weight="normal" fill="#000" transform="rotate(-90 141.68 145.00)" stroke="#000" stroke-width="0.14">PSG9</text>
<text x="154.45" y="145.00" font-size="5.6" text-anchor="end" font-weight="normal" fill="#000" transform="rotate(-90 154.45 145.00)" stroke="#000" stroke-width="0.14">WFDC10B</text>
<text x="167.21" y="145.00" font-size="5.6" text-anchor="end" font-weight="normal" fill="#000" transform="rotate(-90 167.21 145.00)" stroke="#000" stroke-width="0.14">GNRH2</text>
<text x="179.97" y="145.00" font-size="5.6" text-anchor="end" font-weight="normal" fill="#000" transform="rotate(-90 179.97 145.00)" stroke="#000" stroke-width="0.14">TNFSF13B</text>
<text x="192.73" y="145.00" font-size="5.6" text-anchor="end" font-weight="normal" fill="#000" transform="rotate(-90 192.73 145.00)" stroke="#000" stroke-width="0.14">CCL11</text>
<text x="205.50" y="145.00" font-size="5.6" text-anchor="end" font-weight="normal" fill="#000" transform="rotate(-90 205.50 145.00)" stroke="#000" stroke-width="0.14">XCL2</text>
<text x="218.26" y="145.00" font-size="5.6" text-anchor="end" font-weight="normal" fill="#000" transform="rotate(-90 218.26 145.00)" stroke="#000" stroke-width="0.14">PCSK9</text>
<text x="231.02" y="145.00" font-size="5.6" text-anchor="end" font-weight="normal" fill="#000" transform="rotate(-90 231.02 145.00)" stroke="#000" stroke-width="0.14">FGF8</text>
<text x="243.79" y="145.00" font-size="5.6" text-anchor="end" font-weight="normal" fill="#000" transform="rotate(-90 243.79 145.00)" stroke="#000" stroke-width="0.14">NELL1</text>
<text x="256.55" y="145.00" font-size="5.6" text-anchor="end" font-weight="normal" fill="#000" transform="rotate(-90 256.55 145.00)" stroke="#000" stroke-width="0.14">DKK4</text>
<text x="269.31" y="145.00" font-size="5.6" text-anchor="end" font-weight="normal" fill="#000" transform="rotate(-90 269.31 145.00)" stroke="#000" stroke-width="0.14">DKK1</text>
<text x="282.07" y="145.00" font-size="5.6" text-anchor="end" font-weight="normal" fill="#000" transform="rotate(-90 282.07 145.00)" stroke="#000" stroke-width="0.14">SNTN</text>
<text x="294.84" y="145.00" font-size="5.6" text-anchor="end" font-weight="normal" fill="#000" transform="rotate(-90 294.84 145.00)" stroke="#000" stroke-width="0.14">RNASE3</text>
<text x="307.60" y="145.00" font-size="5.6" text-anchor="end" font-weight="normal" fill="#000" transform="rotate(-90 307.60 145.00)" stroke="#000" stroke-width="0.14">CFI</text>
<text x="320.36" y="145.00" font-size="5.6" text-anchor="end" font-weight="normal" fill="#000" transform="rotate(-90 320.36 145.00)" stroke="#000" stroke-width="0.14">VTN</text>
<text x="333.13" y="145.00" font-size="5.6" text-anchor="end" font-weight="normal" fill="#000" transform="rotate(-90 333.13 145.00)" stroke="#000" stroke-width="0.14">TNFSF15</text>
<text x="345.89" y="145.00" font-size="5.6" text-anchor="end" font-weight="normal" fill="#000" transform="rotate(-90 345.89 145.00)" stroke="#000" stroke-width="0.14">PSG5</text>
<text x="358.65" y="145.00" font-size="5.6" text-anchor="end" font-weight="normal" fill="#000" transform="rotate(-90 358.65 145.00)" stroke="#000" stroke-width="0.14">IFNA16</text>
<text x="371.41" y="145.00" font-size="5.6" text-anchor="end" font-weight="normal" fill="#000" transform="rotate(-90 371.41 145.00)" stroke="#000" stroke-width="0.14">SOST</text>
<text x="384.18" y="145.00" font-size="5.6" text-anchor="end" font-weight="normal" fill="#000" transform="rotate(-90 384.18 145.00)" stroke="#000" stroke-width="0.14">IFNA6</text>
<text x="396.94" y="145.00" font-size="5.6" text-anchor="end" font-weight="normal" fill="#000" transform="rotate(-90 396.94 145.00)" stroke="#000" stroke-width="0.14">PRSS3</text>
<text x="409.70" y="145.00" font-size="5.6" text-anchor="end" font-weight="normal" fill="#000" transform="rotate(-90 409.70 145.00)" stroke="#000" stroke-width="0.14">PTHLH</text>
<text x="422.47" y="145.00" font-size="5.6" text-anchor="end" font-weight="normal" fill="#000" transform="rotate(-90 422.47 145.00)" stroke="#000" stroke-width="0.14">GDF10</text>
<text x="435.23" y="145.00" font-size="5.6" text-anchor="end" font-weight="normal" fill="#000" transform="rotate(-90 435.23 145.00)" stroke="#000" stroke-width="0.14">IGFBP6</text>
<text x="447.99" y="145.00" font-size="5.6" text-anchor="end" font-weight="normal" fill="#000" transform="rotate(-90 447.99 145.00)" stroke="#000" stroke-width="0.14">KLK11</text>
<text x="460.75" y="145.00" font-size="5.6" text-anchor="end" font-weight="normal" fill="#000" transform="rotate(-90 460.75 145.00)" stroke="#000" stroke-width="0.14">NELL2</text>
<text x="473.52" y="145.00" font-size="5.6" text-anchor="end" font-weight="normal" fill="#000" transform="rotate(-90 473.52 145.00)" stroke="#000" stroke-width="0.14">GSN</text>
<text x="486.28" y="145.00" font-size="5.6" text-anchor="end" font-weight="normal" fill="#000" transform="rotate(-90 486.28 145.00)" stroke="#000" stroke-width="0.14">ANGPTL3</text>
<text x="499.04" y="145.00" font-size="5.6" text-anchor="end" font-weight="normal" fill="#000" transform="rotate(-90 499.04 145.00)" stroke="#000" stroke-width="0.14">PSG2</text>
<text x="511.80" y="145.00" font-size="5.6" text-anchor="end" font-weight="normal" fill="#000" transform="rotate(-90 511.80 145.00)" stroke="#000" stroke-width="0.14">TSPEAR</text>
<text x="524.57" y="145.00" font-size="5.6" text-anchor="end" font-weight="normal" fill="#000" transform="rotate(-90 524.57 145.00)" stroke="#000" stroke-width="0.14">RBP4</text>
<text x="537.33" y="145.00" font-size="5.6" text-anchor="end" font-weight="normal" fill="#000" transform="rotate(-90 537.33 145.00)" stroke="#000" stroke-width="0.14">KITLG</text>
<text x="550.09" y="145.00" font-size="5.6" text-anchor="end" font-weight="normal" fill="#000" transform="rotate(-90 550.09 145.00)" stroke="#000" stroke-width="0.14">PRL</text>
<text x="562.86" y="145.00" font-size="5.6" text-anchor="end" font-weight="normal" fill="#000" transform="rotate(-90 562.86 145.00)" stroke="#000" stroke-width="0.14">PENK</text>
<text x="575.62" y="145.00" font-size="5.6" text-anchor="end" font-weight="normal" fill="#000" transform="rotate(-90 575.62 145.00)" stroke="#000" stroke-width="0.14">SLAMF9</text>
<text x="581.60" y="124.29" font-size="5.9" text-anchor="start" font-weight="normal" fill="#000" stroke="#000" stroke-width="0.14">LPShi Fatal</text>
<text x="581.60" y="130.26" font-size="5.9" text-anchor="start" font-weight="normal" fill="#000" stroke="#000" stroke-width="0.14">LPSlo Fatal</text>
<text x="581.60" y="136.24" font-size="5.9" text-anchor="start" font-weight="normal" fill="#000" stroke="#000" stroke-width="0.14">LPShi Non-Fatal</text>
<text x="581.60" y="142.21" font-size="5.9" text-anchor="start" font-weight="normal" fill="#000" stroke="#000" stroke-width="0.14">LPSlo Non-Fatal</text>
<text x="629.60" y="123.20" font-size="4.85" text-anchor="start" font-weight="bold" fill="#000">Fold Change</text>
<defs><linearGradient id="gB" x1="0" y1="0" x2="0" y2="1"><stop offset="0" stop-color="#f40000"/><stop offset="0.1" stop-color="#f4341b"/><stop offset="0.2" stop-color="#f48a6b"/><stop offset="0.3" stop-color="#f4c7b5"/><stop offset="0.38" stop-color="#ffffff"/><stop offset="0.44" stop-color="#dccdfc"/><stop offset="0.5" stop-color="#b695fc"/><stop offset="0.585" stop-color="#0000fc"/><stop offset="0.7" stop-color="#6a55f0"/><stop offset="0.85" stop-color="#9c92d8"/><stop offset="0.96" stop-color="#c4c2cc"/><stop offset="1" stop-color="#cccccc"/></linearGradient></defs>
<rect x="629.2" y="124.80" width="6.0" height="29.8" fill="url(#gB)"/>
<text x="636.60" y="128.40" font-size="4.5" text-anchor="start" font-weight="normal" fill="#000" stroke="#000" stroke-width="0.14">2</text>
<text x="636.60" y="138.80" font-size="4.5" text-anchor="start" font-weight="normal" fill="#000" stroke="#000" stroke-width="0.14">0</text>
<text x="636.60" y="144.50" font-size="4.5" text-anchor="start" font-weight="normal" fill="#000" stroke="#000" stroke-width="0.14">-1</text>
<text x="636.60" y="155.20" font-size="4.5" text-anchor="start" font-weight="normal" fill="#000" stroke="#000" stroke-width="0.14">NA</text>
<polyline points="71.40,19.80 71.40,11.30 415.60,11.30 415.60,14.60" fill="none" stroke="#333" stroke-width="0.7"/>
<polyline points="300.60,22.70 300.60,14.60 531.40,14.60 531.40,17.30" fill="none" stroke="#333" stroke-width="0.7"/>
<polyline points="487.00,19.50 487.00,17.30 575.30,17.30 575.30,26.20" fill="none" stroke="#333" stroke-width="0.7"/>
<polyline points="414.00,21.50 414.00,19.50 560.00,19.50 560.00,23.00" fill="none" stroke="#333" stroke-width="0.7"/>
<polyline points="555.05,26.20 555.05,23.00 565.03,23.00 565.03,26.20" fill="none" stroke="#333" stroke-width="0.7"/>
<polyline points="295.62,26.20 295.62,22.70 305.60,22.70 305.60,26.20" fill="none" stroke="#333" stroke-width="0.7"/>
<polyline points="36.19,26.20 36.19,19.80 107.00,19.80 107.00,21.20" fill="none" stroke="#333" stroke-width="0.7"/>
<polyline points="64.50,23.00 64.50,21.20 148.40,21.20 148.40,22.20" fill="none" stroke="#333" stroke-width="0.7"/>
<polyline points="53.00,24.00 53.00,23.00 76.00,23.00 76.00,26.20" fill="none" stroke="#333" stroke-width="0.7"/>
<polyline points="47.17,26.20 47.17,24.20 63.80,24.20 63.80,24.60" fill="none" stroke="#333" stroke-width="0.7"/>
<polyline points="55.00,24.20 55.00,23.60 64.00,23.60 64.00,24.20" fill="none" stroke="#777" stroke-width="0.7"/>
<polyline points="86.08,26.20 86.08,23.20 96.06,23.20 96.06,26.20" fill="none" stroke="#333" stroke-width="0.7"/>
<polyline points="91.00,23.20 91.00,22.20" fill="none" stroke="#333" stroke-width="0.7"/>
<line x1="91.00" y1="22.20" x2="207.60" y2="22.20" stroke="#333" stroke-width="0.7"/>
<polyline points="105.40,26.20 105.40,24.20 125.00,24.20" fill="none" stroke="#333" stroke-width="0.7"/>
<line x1="118.00" y1="23.20" x2="128.00" y2="23.20" stroke="#444" stroke-width="0.6"/>
<line x1="128.00" y1="22.20" x2="207.60" y2="22.20" stroke="#666" stroke-width="0.6"/>
<line x1="128.00" y1="22.60" x2="200.00" y2="22.60" stroke="#888" stroke-width="0.5"/>
<polyline points="136.80,24.40 136.80,23.50 157.20,23.50 157.20,24.40" fill="none" stroke="#333" stroke-width="0.55"/>
<line x1="157.20" y1="23.50" x2="167.40" y2="23.50" stroke="#888" stroke-width="0.5"/>
<polyline points="128.00,24.50 134.60,24.50 134.60,26.20" fill="none" stroke="#888" stroke-width="0.5"/>
<polyline points="166.00,26.20 166.00,24.50 174.70,24.50 174.70,26.20" fill="none" stroke="#888" stroke-width="0.5"/>
<polyline points="185.70,24.60 185.70,23.50 193.70,23.50" fill="none" stroke="#333" stroke-width="0.55"/>
<polyline points="195.00,23.70 205.00,23.70 205.00,24.60" fill="none" stroke="#444" stroke-width="0.55"/>
<polyline points="207.60,22.20 207.60,22.80 248.40,22.80 248.40,23.80" fill="none" stroke="#555" stroke-width="0.55"/>
<line x1="228.00" y1="23.50" x2="242.60" y2="23.50" stroke="#333" stroke-width="0.6"/>
<polyline points="215.00,26.20 215.00,24.40 226.00,24.40" fill="none" stroke="#888" stroke-width="0.5"/>
<line x1="255.70" y1="24.00" x2="270.00" y2="24.00" stroke="#666" stroke-width="0.55"/>
<line x1="274.70" y1="24.70" x2="286.40" y2="24.80" stroke="#666" stroke-width="0.55"/>
<line x1="248.40" y1="23.80" x2="262.00" y2="23.80" stroke="#777" stroke-width="0.5"/>
<polyline points="315.58,26.20 315.58,24.00 340.00,24.00" fill="none" stroke="#666" stroke-width="0.7"/>
<polyline points="347.70,23.00 347.70,21.50 480.00,21.50" fill="none" stroke="#333" stroke-width="0.7"/>
<line x1="365.47" y1="21.50" x2="365.47" y2="26.20" stroke="#333" stroke-width="0.7"/>
<polyline points="329.50,24.20 329.50,23.00 355.00,23.00 355.00,26.20" fill="none" stroke="#333" stroke-width="0.7"/>
<line x1="332.00" y1="23.90" x2="350.00" y2="23.90" stroke="#555" stroke-width="0.8"/>
<line x1="375.40" y1="24.40" x2="400.00" y2="24.40" stroke="#777" stroke-width="0.6"/>
<line x1="395.00" y1="23.80" x2="432.00" y2="23.80" stroke="#555" stroke-width="0.8"/>
<line x1="414.00" y1="20.00" x2="480.00" y2="20.00" stroke="#999" stroke-width="0.9"/>
<polyline points="432.00,23.50 432.00,22.00 526.00,22.00 526.00,23.20" fill="none" stroke="#333" stroke-width="0.7"/>
<line x1="436.00" y1="24.30" x2="446.00" y2="24.30" stroke="#777" stroke-width="0.6"/>
<line x1="455.00" y1="23.60" x2="476.00" y2="23.60" stroke="#666" stroke-width="0.7"/>
<line x1="465.00" y1="24.40" x2="476.00" y2="24.40" stroke="#777" stroke-width="0.6"/>
<line x1="486.00" y1="23.80" x2="500.00" y2="23.80" stroke="#777" stroke-width="0.6"/>
<line x1="500.00" y1="23.00" x2="526.00" y2="23.00" stroke="#555" stroke-width="0.8"/>
<line x1="505.00" y1="24.20" x2="516.00" y2="24.20" stroke="#666" stroke-width="0.7"/>
<polyline points="535.00,26.20 535.00,24.00 546.00,24.00 546.00,26.20" fill="none" stroke="#666" stroke-width="0.7"/>
<line x1="526.00" y1="23.20" x2="540.00" y2="23.20" stroke="#666" stroke-width="0.6"/>
<polyline points="96.30,112.30 96.30,104.60 496.40,104.60 496.40,109.20" fill="none" stroke="#333" stroke-width="0.7"/>
<polyline points="419.50,113.30 419.50,109.20 573.60,109.20 573.60,119.20" fill="none" stroke="#333" stroke-width="0.7"/>
<polyline points="53.10,116.20 53.10,112.30 139.00,112.30 139.00,114.80" fill="none" stroke="#333" stroke-width="0.7"/>
<polyline points="37.58,119.20 37.58,116.20 63.11,116.20 63.11,119.20" fill="none" stroke="#333" stroke-width="0.7"/>
<polyline points="44.00,116.20 44.00,115.40 50.60,115.40 50.60,116.20" fill="none" stroke="#666" stroke-width="0.7"/>
<polyline points="82.30,117.50 82.30,114.60 196.00,114.60 196.00,116.70" fill="none" stroke="#333" stroke-width="0.7"/>
<polyline points="75.87,119.20 75.87,117.50 88.63,117.50 88.63,119.20" fill="none" stroke="#333" stroke-width="0.7"/>
<line x1="101.00" y1="117.50" x2="120.00" y2="117.50" stroke="#666" stroke-width="0.6"/>
<line x1="108.00" y1="116.80" x2="128.00" y2="116.80" stroke="#555" stroke-width="0.7"/>
<line x1="128.00" y1="116.70" x2="150.00" y2="116.70" stroke="#444" stroke-width="0.8"/>
<line x1="140.00" y1="117.60" x2="152.00" y2="117.60" stroke="#888" stroke-width="0.7"/>
<line x1="150.00" y1="116.20" x2="196.00" y2="116.20" stroke="#666" stroke-width="0.7"/>
<line x1="165.00" y1="117.20" x2="190.00" y2="117.20" stroke="#555" stroke-width="0.7"/>
<polyline points="204.00,119.20 204.00,117.20 216.00,117.20" fill="none" stroke="#666" stroke-width="0.7"/>
<line x1="196.00" y1="116.70" x2="242.00" y2="116.70" stroke="#555" stroke-width="0.7"/>
<line x1="216.00" y1="117.40" x2="250.00" y2="117.40" stroke="#777" stroke-width="0.6"/>
<line x1="228.00" y1="115.80" x2="242.00" y2="115.80" stroke="#666" stroke-width="0.8"/>
<line x1="242.00" y1="117.00" x2="308.00" y2="117.20" stroke="#444" stroke-width="0.7"/>
<line x1="268.00" y1="117.90" x2="280.00" y2="117.90" stroke="#777" stroke-width="0.6"/>
<line x1="292.00" y1="117.90" x2="318.00" y2="118.20" stroke="#666" stroke-width="0.6"/>
<polyline points="340.40,115.80 340.40,113.30 497.60,113.30 497.60,114.60" fill="none" stroke="#333" stroke-width="0.7"/>
<polyline points="331.13,119.20 331.13,115.80 350.00,115.80 350.00,117.00" fill="none" stroke="#333" stroke-width="0.7"/>
<polyline points="343.89,119.20 343.89,117.00 356.65,117.00 356.65,119.20" fill="none" stroke="#333" stroke-width="0.7"/>
<line x1="345.00" y1="116.30" x2="352.00" y2="116.30" stroke="#888" stroke-width="0.8"/>
<line x1="369.00" y1="118.00" x2="385.00" y2="118.00" stroke="#777" stroke-width="0.6"/>
<line x1="385.00" y1="117.50" x2="410.00" y2="117.50" stroke="#666" stroke-width="0.7"/>
<line x1="400.00" y1="116.80" x2="445.00" y2="116.80" stroke="#444" stroke-width="0.8"/>
<line x1="420.00" y1="117.80" x2="434.00" y2="117.80" stroke="#777" stroke-width="0.7"/>
<line x1="445.00" y1="114.50" x2="497.60" y2="114.50" stroke="#555" stroke-width="0.9"/>
<line x1="445.00" y1="114.50" x2="445.00" y2="116.80" stroke="#333" stroke-width="0.7"/>
<line x1="446.00" y1="117.60" x2="460.00" y2="117.60" stroke="#777" stroke-width="0.7"/>
<line x1="460.00" y1="116.80" x2="485.00" y2="116.80" stroke="#444" stroke-width="0.8"/>
<line x1="473.00" y1="117.00" x2="485.00" y2="117.00" stroke="#333" stroke-width="0.8"/>
<line x1="485.00" y1="116.50" x2="510.00" y2="116.50" stroke="#666" stroke-width="0.6"/>
<polyline points="484.00,119.20 484.00,117.00" fill="none" stroke="#666" stroke-width="0.7"/>
<polyline points="497.00,119.20 497.00,117.20 508.00,117.20" fill="none" stroke="#777" stroke-width="0.7"/>
<polyline points="533.33,119.20 533.33,116.50 548.00,116.50 548.00,119.20" fill="none" stroke="#333" stroke-width="0.7"/>
<polyline points="529.00,116.50 529.00,114.80 549.60,114.80 549.60,115.50 561.00,115.50 561.00,119.20" fill="none" stroke="#333" stroke-width="0.7"/>
<polyline points="538.70,114.80 538.70,114.20 549.60,114.20" fill="none" stroke="#666" stroke-width="0.7"/>
<text x="0.70" y="202.30" font-size="14.4" text-anchor="start" font-weight="bold" fill="#000" stroke="#000" stroke-width="0.25">C</text>
<rect x="20.2" y="219.1" width="10.8" height="178" fill="#3b78c3"/>
<rect x="20.2" y="397.0" width="10.8" height="152.8" fill="#5cb13a"/>
<text x="12.10" y="316.50" font-size="12.3" text-anchor="middle" font-weight="bold" fill="#000" transform="rotate(-90 12.10 316.50)" stroke="#000" stroke-width="0.2">Immune cells</text>
<text x="12.10" y="472.00" font-size="12.4" text-anchor="middle" font-weight="bold" fill="#000" transform="rotate(-90 12.10 472.00)" stroke="#000" stroke-width="0.2">Intestinal cells</text>
<rect x="105.5" y="211.8" width="509.30" height="339.80" fill="none" stroke="#1a1a1a" stroke-width="0.8"/>
<line x1="103.00" y1="224.60" x2="105.50" y2="224.60" stroke="#111" stroke-width="0.6"/>
<text x="101.10" y="226.80" font-size="6.15" text-anchor="end" font-weight="normal" fill="#111" stroke="#111" stroke-width="0.12">Eosinophils</text>
<line x1="103.00" y1="236.75" x2="105.50" y2="236.75" stroke="#111" stroke-width="0.6"/>
<text x="101.10" y="238.95" font-size="6.15" text-anchor="end" font-weight="normal" fill="#111" stroke="#111" stroke-width="0.12">Mast cells</text>
<line x1="103.00" y1="248.90" x2="105.50" y2="248.90" stroke="#111" stroke-width="0.6"/>
<text x="101.10" y="251.10" font-size="6.15" text-anchor="end" font-weight="normal" fill="#111" stroke="#111" stroke-width="0.12">CD14+ Monocytes</text>
<line x1="103.00" y1="261.05" x2="105.50" y2="261.05" stroke="#111" stroke-width="0.6"/>
<text x="101.10" y="263.25" font-size="6.15" text-anchor="end" font-weight="normal" fill="#111" stroke="#111" stroke-width="0.12">CD16+ Monocytes</text>
<line x1="103.00" y1="273.20" x2="105.50" y2="273.20" stroke="#111" stroke-width="0.6"/>
<text x="101.10" y="275.40" font-size="6.15" text-anchor="end" font-weight="normal" fill="#111" stroke="#111" stroke-width="0.12">Macrophages</text>
<line x1="103.00" y1="285.35" x2="105.50" y2="285.35" stroke="#111" stroke-width="0.6"/>
<text x="101.10" y="287.55" font-size="6.15" text-anchor="end" font-weight="normal" fill="#111" stroke="#111" stroke-width="0.12">DC</text>
<line x1="103.00" y1="297.50" x2="105.50" y2="297.50" stroke="#111" stroke-width="0.6"/>
<text x="101.10" y="299.70" font-size="6.15" text-anchor="end" font-weight="normal" fill="#111" stroke="#111" stroke-width="0.12">ILC3</text>
<line x1="103.00" y1="309.65" x2="105.50" y2="309.65" stroke="#111" stroke-width="0.6"/>
<text x="101.10" y="311.85" font-size="6.15" text-anchor="end" font-weight="normal" fill="#111" stroke="#111" stroke-width="0.12">CD4 T cells</text>
<line x1="103.00" y1="321.80" x2="105.50" y2="321.80" stroke="#111" stroke-width="0.6"/>
<text x="101.10" y="324.00" font-size="6.15" text-anchor="end" font-weight="normal" fill="#111" stroke="#111" stroke-width="0.12">CD8 T cells</text>
<line x1="103.00" y1="333.95" x2="105.50" y2="333.95" stroke="#111" stroke-width="0.6"/>
<text x="101.10" y="336.15" font-size="6.15" text-anchor="end" font-weight="normal" fill="#111" stroke="#111" stroke-width="0.12">Gamma delta T cells</text>
<line x1="103.00" y1="346.10" x2="105.50" y2="346.10" stroke="#111" stroke-width="0.6"/>
<text x="101.10" y="348.30" font-size="6.15" text-anchor="end" font-weight="normal" fill="#111" stroke="#111" stroke-width="0.12">Cycling T cells</text>
<line x1="103.00" y1="358.25" x2="105.50" y2="358.25" stroke="#111" stroke-width="0.6"/>
<text x="101.10" y="360.45" font-size="6.15" text-anchor="end" font-weight="normal" fill="#111" stroke="#111" stroke-width="0.12">MitoHi T cells</text>
<line x1="103.00" y1="370.40" x2="105.50" y2="370.40" stroke="#111" stroke-width="0.6"/>
<text x="101.10" y="372.60" font-size="6.15" text-anchor="end" font-weight="normal" fill="#111" stroke="#111" stroke-width="0.12">NK cells</text>
<line x1="103.00" y1="382.55" x2="105.50" y2="382.55" stroke="#111" stroke-width="0.6"/>
<text x="101.10" y="384.75" font-size="6.15" text-anchor="end" font-weight="normal" fill="#111" stroke="#111" stroke-width="0.12">Plasma cells</text>
<line x1="103.00" y1="394.70" x2="105.50" y2="394.70" stroke="#111" stroke-width="0.6"/>
<text x="101.10" y="396.90" font-size="6.15" text-anchor="end" font-weight="normal" fill="#111" stroke="#111" stroke-width="0.12">B cells</text>
<line x1="103.00" y1="406.85" x2="105.50" y2="406.85" stroke="#111" stroke-width="0.6"/>
<text x="101.10" y="409.05" font-size="6.15" text-anchor="end" font-weight="normal" fill="#111" stroke="#111" stroke-width="0.12">Enterocytes</text>
<line x1="103.00" y1="419.00" x2="105.50" y2="419.00" stroke="#111" stroke-width="0.6"/>
<text x="101.10" y="421.20" font-size="6.15" text-anchor="end" font-weight="normal" fill="#111" stroke="#111" stroke-width="0.12">Foveolar precursor</text>
<line x1="103.00" y1="431.15" x2="105.50" y2="431.15" stroke="#111" stroke-width="0.6"/>
<text x="101.10" y="433.35" font-size="6.15" text-anchor="end" font-weight="normal" fill="#111" stroke="#111" stroke-width="0.12">Secretory precursors</text>
<line x1="103.00" y1="443.30" x2="105.50" y2="443.30" stroke="#111" stroke-width="0.6"/>
<text x="101.10" y="445.50" font-size="6.15" text-anchor="end" font-weight="normal" fill="#111" stroke="#111" stroke-width="0.12">Paneth cells</text>
<line x1="103.00" y1="455.45" x2="105.50" y2="455.45" stroke="#111" stroke-width="0.6"/>
<text x="101.10" y="457.65" font-size="6.15" text-anchor="end" font-weight="normal" fill="#111" stroke="#111" stroke-width="0.12">Mucosal neck cells</text>
<line x1="103.00" y1="467.60" x2="105.50" y2="467.60" stroke="#111" stroke-width="0.6"/>
<text x="101.10" y="469.80" font-size="6.15" text-anchor="end" font-weight="normal" fill="#111" stroke="#111" stroke-width="0.12">Stem cells</text>
<line x1="103.00" y1="479.75" x2="105.50" y2="479.75" stroke="#111" stroke-width="0.6"/>
<text x="101.10" y="481.95" font-size="6.15" text-anchor="end" font-weight="normal" fill="#111" stroke="#111" stroke-width="0.12">Tuft cells</text>
<line x1="103.00" y1="491.90" x2="105.50" y2="491.90" stroke="#111" stroke-width="0.6"/>
<text x="101.10" y="494.10" font-size="6.15" text-anchor="end" font-weight="normal" fill="#111" stroke="#111" stroke-width="0.12">Goblet cells</text>
<line x1="103.00" y1="504.05" x2="105.50" y2="504.05" stroke="#111" stroke-width="0.6"/>
<text x="101.10" y="506.25" font-size="6.15" text-anchor="end" font-weight="normal" fill="#111" stroke="#111" stroke-width="0.12">Surface mucosal cells</text>
<line x1="103.00" y1="516.20" x2="105.50" y2="516.20" stroke="#111" stroke-width="0.6"/>
<text x="101.10" y="518.40" font-size="6.15" text-anchor="end" font-weight="normal" fill="#111" stroke="#111" stroke-width="0.12">Enteroendocrine cells</text>
<line x1="103.00" y1="528.35" x2="105.50" y2="528.35" stroke="#111" stroke-width="0.6"/>
<text x="101.10" y="530.55" font-size="6.15" text-anchor="end" font-weight="normal" fill="#111" stroke="#111" stroke-width="0.12">Enterochromaffin</text>
<line x1="103.00" y1="540.50" x2="105.50" y2="540.50" stroke="#111" stroke-width="0.6"/>
<text x="101.10" y="542.70" font-size="6.15" text-anchor="end" font-weight="normal" fill="#111" stroke="#111" stroke-width="0.12">Endothelial cells</text>
<line x1="116.20" y1="551.60" x2="116.20" y2="554.20" stroke="#111" stroke-width="0.6"/>
<text x="118.15" y="557.20" font-size="5.45" text-anchor="end" font-weight="normal" fill="#111" transform="rotate(-90 118.15 557.20)" stroke="#111" stroke-width="0.12">CASS4</text>
<line x1="129.39" y1="551.60" x2="129.39" y2="554.20" stroke="#111" stroke-width="0.6"/>
<text x="131.34" y="557.20" font-size="5.45" text-anchor="end" font-weight="normal" fill="#111" transform="rotate(-90 131.34 557.20)" stroke="#111" stroke-width="0.12">VCAN</text>
<line x1="142.58" y1="551.60" x2="142.58" y2="554.20" stroke="#111" stroke-width="0.6"/>
<text x="144.53" y="557.20" font-size="5.45" text-anchor="end" font-weight="normal" fill="#111" transform="rotate(-90 144.53 557.20)" stroke="#111" stroke-width="0.12">TNFSF13B</text>
<line x1="155.78" y1="551.60" x2="155.78" y2="554.20" stroke="#111" stroke-width="0.6"/>
<text x="157.73" y="557.20" font-size="5.45" text-anchor="end" font-weight="normal" fill="#111" transform="rotate(-90 157.73 557.20)" stroke="#111" stroke-width="0.12">LY86</text>
<line x1="168.97" y1="551.60" x2="168.97" y2="554.20" stroke="#111" stroke-width="0.6"/>
<text x="170.92" y="557.20" font-size="5.45" text-anchor="end" font-weight="normal" fill="#111" transform="rotate(-90 170.92 557.20)" stroke="#111" stroke-width="0.12">SCIMP</text>
<line x1="182.16" y1="551.60" x2="182.16" y2="554.20" stroke="#111" stroke-width="0.6"/>
<text x="184.11" y="557.20" font-size="5.45" text-anchor="end" font-weight="normal" fill="#111" transform="rotate(-90 184.11 557.20)" stroke="#111" stroke-width="0.12">SCN4B</text>
<line x1="195.35" y1="551.60" x2="195.35" y2="554.20" stroke="#111" stroke-width="0.6"/>
<text x="197.30" y="557.20" font-size="5.45" text-anchor="end" font-weight="normal" fill="#111" transform="rotate(-90 197.30 557.20)" stroke="#111" stroke-width="0.12">SIGLEC1</text>
<line x1="208.54" y1="551.60" x2="208.54" y2="554.20" stroke="#111" stroke-width="0.6"/>
<text x="210.49" y="557.20" font-size="5.45" text-anchor="end" font-weight="normal" fill="#111" transform="rotate(-90 210.49 557.20)" stroke="#111" stroke-width="0.12">TLR4</text>
<line x1="221.74" y1="551.60" x2="221.74" y2="554.20" stroke="#111" stroke-width="0.6"/>
<text x="223.69" y="557.20" font-size="5.45" text-anchor="end" font-weight="normal" fill="#111" transform="rotate(-90 223.69 557.20)" stroke="#111" stroke-width="0.12">TNFRSF18</text>
<line x1="234.93" y1="551.60" x2="234.93" y2="554.20" stroke="#111" stroke-width="0.6"/>
<text x="236.88" y="557.20" font-size="5.45" text-anchor="end" font-weight="normal" fill="#111" transform="rotate(-90 236.88 557.20)" stroke="#111" stroke-width="0.12">FCRL6</text>
<line x1="248.12" y1="551.60" x2="248.12" y2="554.20" stroke="#111" stroke-width="0.6"/>
<text x="250.07" y="557.20" font-size="5.45" text-anchor="end" font-weight="normal" fill="#111" transform="rotate(-90 250.07 557.20)" stroke="#111" stroke-width="0.12">TIGIT</text>
<line x1="261.31" y1="551.60" x2="261.31" y2="554.20" stroke="#111" stroke-width="0.6"/>
<text x="263.26" y="557.20" font-size="5.45" text-anchor="end" font-weight="normal" fill="#111" transform="rotate(-90 263.26 557.20)" stroke="#111" stroke-width="0.12">CD8A</text>
<line x1="274.50" y1="551.60" x2="274.50" y2="554.20" stroke="#111" stroke-width="0.6"/>
<text x="276.45" y="557.20" font-size="5.45" text-anchor="end" font-weight="normal" fill="#111" transform="rotate(-90 276.45 557.20)" stroke="#111" stroke-width="0.12">CD79A</text>
<line x1="287.69" y1="551.60" x2="287.69" y2="554.20" stroke="#111" stroke-width="0.6"/>
<text x="289.64" y="557.20" font-size="5.45" text-anchor="end" font-weight="normal" fill="#111" transform="rotate(-90 289.64 557.20)" stroke="#111" stroke-width="0.12">XCL2</text>
<line x1="300.89" y1="551.60" x2="300.89" y2="554.20" stroke="#111" stroke-width="0.6"/>
<text x="302.84" y="557.20" font-size="5.45" text-anchor="end" font-weight="normal" fill="#111" transform="rotate(-90 302.84 557.20)" stroke="#111" stroke-width="0.12">BAIAP2</text>
<line x1="314.08" y1="551.60" x2="314.08" y2="554.20" stroke="#111" stroke-width="0.6"/>
<text x="316.03" y="557.20" font-size="5.45" text-anchor="end" font-weight="normal" fill="#111" transform="rotate(-90 316.03 557.20)" stroke="#111" stroke-width="0.12">CLEC2B</text>
<line x1="327.27" y1="551.60" x2="327.27" y2="554.20" stroke="#111" stroke-width="0.6"/>
<text x="329.22" y="557.20" font-size="5.45" text-anchor="end" font-weight="normal" fill="#111" transform="rotate(-90 329.22 557.20)" stroke="#111" stroke-width="0.12">MSN</text>
<line x1="340.46" y1="551.60" x2="340.46" y2="554.20" stroke="#111" stroke-width="0.6"/>
<text x="342.41" y="557.20" font-size="5.45" text-anchor="end" font-weight="normal" fill="#111" transform="rotate(-90 342.41 557.20)" stroke="#111" stroke-width="0.12">VTN</text>
<line x1="353.65" y1="551.60" x2="353.65" y2="554.20" stroke="#111" stroke-width="0.6"/>
<text x="355.60" y="557.20" font-size="5.45" text-anchor="end" font-weight="normal" fill="#111" transform="rotate(-90 355.60 557.20)" stroke="#111" stroke-width="0.12">RBP4</text>
<line x1="366.85" y1="551.60" x2="366.85" y2="554.20" stroke="#111" stroke-width="0.6"/>
<text x="368.80" y="557.20" font-size="5.45" text-anchor="end" font-weight="normal" fill="#111" transform="rotate(-90 368.80 557.20)" stroke="#111" stroke-width="0.12">DPP4</text>
<line x1="380.04" y1="551.60" x2="380.04" y2="554.20" stroke="#111" stroke-width="0.6"/>
<text x="381.99" y="557.20" font-size="5.45" text-anchor="end" font-weight="normal" fill="#111" transform="rotate(-90 381.99 557.20)" stroke="#111" stroke-width="0.12">RAMP3</text>
<line x1="393.23" y1="551.60" x2="393.23" y2="554.20" stroke="#111" stroke-width="0.6"/>
<text x="395.18" y="557.20" font-size="5.45" text-anchor="end" font-weight="normal" fill="#111" transform="rotate(-90 395.18 557.20)" stroke="#111" stroke-width="0.12">PODXL2</text>
<line x1="406.42" y1="551.60" x2="406.42" y2="554.20" stroke="#111" stroke-width="0.6"/>
<text x="408.37" y="557.20" font-size="5.45" text-anchor="end" font-weight="normal" fill="#111" transform="rotate(-90 408.37 557.20)" stroke="#111" stroke-width="0.12">PON2</text>
<line x1="419.61" y1="551.60" x2="419.61" y2="554.20" stroke="#111" stroke-width="0.6"/>
<text x="421.56" y="557.20" font-size="5.45" text-anchor="end" font-weight="normal" fill="#111" transform="rotate(-90 421.56 557.20)" stroke="#111" stroke-width="0.12">PTPRH</text>
<line x1="432.81" y1="551.60" x2="432.81" y2="554.20" stroke="#111" stroke-width="0.6"/>
<text x="434.76" y="557.20" font-size="5.45" text-anchor="end" font-weight="normal" fill="#111" transform="rotate(-90 434.76 557.20)" stroke="#111" stroke-width="0.12">EGFR</text>
<line x1="446.00" y1="551.60" x2="446.00" y2="554.20" stroke="#111" stroke-width="0.6"/>
<text x="447.95" y="557.20" font-size="5.45" text-anchor="end" font-weight="normal" fill="#111" transform="rotate(-90 447.95 557.20)" stroke="#111" stroke-width="0.12">ITGB6</text>
<line x1="459.19" y1="551.60" x2="459.19" y2="554.20" stroke="#111" stroke-width="0.6"/>
<text x="461.14" y="557.20" font-size="5.45" text-anchor="end" font-weight="normal" fill="#111" transform="rotate(-90 461.14 557.20)" stroke="#111" stroke-width="0.12">CFI</text>
<line x1="472.38" y1="551.60" x2="472.38" y2="554.20" stroke="#111" stroke-width="0.6"/>
<text x="474.33" y="557.20" font-size="5.45" text-anchor="end" font-weight="normal" fill="#111" transform="rotate(-90 474.33 557.20)" stroke="#111" stroke-width="0.12">KITLG</text>
<line x1="485.57" y1="551.60" x2="485.57" y2="554.20" stroke="#111" stroke-width="0.6"/>
<text x="487.52" y="557.20" font-size="5.45" text-anchor="end" font-weight="normal" fill="#111" transform="rotate(-90 487.52 557.20)" stroke="#111" stroke-width="0.12">LAMA3</text>
<line x1="498.76" y1="551.60" x2="498.76" y2="554.20" stroke="#111" stroke-width="0.6"/>
<text x="500.71" y="557.20" font-size="5.45" text-anchor="end" font-weight="normal" fill="#111" transform="rotate(-90 500.71 557.20)" stroke="#111" stroke-width="0.12">AMN</text>
<line x1="511.96" y1="551.60" x2="511.96" y2="554.20" stroke="#111" stroke-width="0.6"/>
<text x="513.91" y="557.20" font-size="5.45" text-anchor="end" font-weight="normal" fill="#111" transform="rotate(-90 513.91 557.20)" stroke="#111" stroke-width="0.12">MAGED1</text>
<line x1="525.15" y1="551.60" x2="525.15" y2="554.20" stroke="#111" stroke-width="0.6"/>
<text x="527.10" y="557.20" font-size="5.45" text-anchor="end" font-weight="normal" fill="#111" transform="rotate(-90 527.10 557.20)" stroke="#111" stroke-width="0.12">MAEA</text>
<line x1="538.34" y1="551.60" x2="538.34" y2="554.20" stroke="#111" stroke-width="0.6"/>
<text x="540.29" y="557.20" font-size="5.45" text-anchor="end" font-weight="normal" fill="#111" transform="rotate(-90 540.29 557.20)" stroke="#111" stroke-width="0.12">IFNGR2</text>
<line x1="551.53" y1="551.60" x2="551.53" y2="554.20" stroke="#111" stroke-width="0.6"/>
<text x="553.48" y="557.20" font-size="5.45" text-anchor="end" font-weight="normal" fill="#111" transform="rotate(-90 553.48 557.20)" stroke="#111" stroke-width="0.12">SORT1</text>
<line x1="564.72" y1="551.60" x2="564.72" y2="554.20" stroke="#111" stroke-width="0.6"/>
<text x="566.67" y="557.20" font-size="5.45" text-anchor="end" font-weight="normal" fill="#111" transform="rotate(-90 566.67 557.20)" stroke="#111" stroke-width="0.12">VAPA</text>
<line x1="577.92" y1="551.60" x2="577.92" y2="554.20" stroke="#111" stroke-width="0.6"/>
<text x="579.87" y="557.20" font-size="5.45" text-anchor="end" font-weight="normal" fill="#111" transform="rotate(-90 579.87 557.20)" stroke="#111" stroke-width="0.12">APMAP</text>
<line x1="591.11" y1="551.60" x2="591.11" y2="554.20" stroke="#111" stroke-width="0.6"/>
<text x="593.06" y="557.20" font-size="5.45" text-anchor="end" font-weight="normal" fill="#111" transform="rotate(-90 593.06 557.20)" stroke="#111" stroke-width="0.12">CRCP</text>
<line x1="604.30" y1="551.60" x2="604.30" y2="554.20" stroke="#111" stroke-width="0.6"/>
<text x="606.25" y="557.20" font-size="5.45" text-anchor="end" font-weight="normal" fill="#111" transform="rotate(-90 606.25 557.20)" stroke="#111" stroke-width="0.12">VTI1A</text>
<circle cx="116.20" cy="224.60" r="1.95" fill="#fca385" stroke="#3a1a1a" stroke-opacity="0.75" stroke-width="0.3"/>
<circle cx="129.39" cy="224.60" r="0.40" fill="#6e5a58" fill-opacity="0.80"/>
<circle cx="142.58" cy="224.60" r="1.10" fill="#fdd5c3" stroke="#3a1a1a" stroke-opacity="0.75" stroke-width="0.3"/>
<circle cx="182.16" cy="224.60" r="1.10" fill="#fee3d6" stroke="#3a1a1a" stroke-opacity="0.75" stroke-width="0.3"/>
<circle cx="208.54" cy="224.60" r="1.35" fill="#fdd5c3" stroke="#3a1a1a" stroke-opacity="0.75" stroke-width="0.3"/>
<circle cx="234.93" cy="224.60" r="0.40" fill="#6e5a58" fill-opacity="0.80"/>
<circle cx="261.31" cy="224.60" r="0.60" fill="#6e5a58" fill-opacity="1.00"/>
<circle cx="274.50" cy="224.60" r="1.00" fill="#fff0ea" stroke="#3a1a1a" stroke-opacity="0.75" stroke-width="0.3"/>
<circle cx="314.08" cy="224.60" r="1.45" fill="#ffece3" stroke="#3a1a1a" stroke-opacity="0.75" stroke-width="0.3"/>
<circle cx="327.27" cy="224.60" r="4.50" fill="#67000d" stroke="#3a1a1a" stroke-opacity="0.75" stroke-width="0.3"/>
<circle cx="366.85" cy="224.60" r="0.60" fill="#6e5a58" fill-opacity="1.00"/>
<circle cx="419.61" cy="224.60" r="0.50" fill="#6e5a58" fill-opacity="0.90"/>
<circle cx="459.19" cy="224.60" r="0.50" fill="#6e5a58" fill-opacity="0.90"/>
<circle cx="485.57" cy="224.60" r="0.40" fill="#6e5a58" fill-opacity="0.80"/>
<circle cx="511.96" cy="224.60" r="0.50" fill="#6e5a58" fill-opacity="0.90"/>
<circle cx="525.15" cy="224.60" r="1.10" fill="#ffece3" stroke="#3a1a1a" stroke-opacity="0.75" stroke-width="0.3"/>
<circle cx="538.34" cy="224.60" r="1.70" fill="#fdc5ae" stroke="#3a1a1a" stroke-opacity="0.75" stroke-width="0.3"/>
<circle cx="551.53" cy="224.60" r="3.45" fill="#b91419" stroke="#3a1a1a" stroke-opacity="0.75" stroke-width="0.3"/>
<circle cx="564.72" cy="224.60" r="3.35" fill="#e83529" stroke="#3a1a1a" stroke-opacity="0.75" stroke-width="0.3"/>
<circle cx="577.92" cy="224.60" r="2.20" fill="#fcb499" stroke="#3a1a1a" stroke-opacity="0.75" stroke-width="0.3"/>
<circle cx="591.11" cy="224.60" r="1.85" fill="#fcb499" stroke="#3a1a1a" stroke-opacity="0.75" stroke-width="0.3"/>
<circle cx="604.30" cy="224.60" r="0.50" fill="#6e5a58" fill-opacity="0.90"/>
<circle cx="116.20" cy="236.75" r="1.35" fill="#fdcdb9" stroke="#3a1a1a" stroke-opacity="0.75" stroke-width="0.3"/>
<circle cx="129.39" cy="236.75" r="0.40" fill="#6e5a58" fill-opacity="0.80"/>
<circle cx="208.54" cy="236.75" r="1.20" fill="#fee7dd" stroke="#3a1a1a" stroke-opacity="0.75" stroke-width="0.3"/>
<circle cx="221.74" cy="236.75" r="0.60" fill="#6e5a58" fill-opacity="1.00"/>
<circle cx="234.93" cy="236.75" r="0.50" fill="#6e5a58" fill-opacity="0.90"/>
<circle cx="248.12" cy="236.75" r="0.50" fill="#6e5a58" fill-opacity="0.90"/>
<circle cx="261.31" cy="236.75" r="0.85" fill="#fc8060" stroke="#3a1a1a" stroke-opacity="0.75" stroke-width="0.3"/>
<circle cx="287.69" cy="236.75" r="0.40" fill="#6e5a58" fill-opacity="0.80"/>
<circle cx="300.89" cy="236.75" r="0.40" fill="#6e5a58" fill-opacity="0.80"/>
<circle cx="314.08" cy="236.75" r="0.95" fill="#ffece3" stroke="#3a1a1a" stroke-opacity="0.75" stroke-width="0.3"/>
<circle cx="327.27" cy="236.75" r="3.60" fill="#67000d" stroke="#3a1a1a" stroke-opacity="0.75" stroke-width="0.3"/>
<circle cx="366.85" cy="236.75" r="0.60" fill="#6e5a58" fill-opacity="1.00"/>
<circle cx="406.42" cy="236.75" r="0.60" fill="#6e5a58" fill-opacity="1.00"/>
<circle cx="419.61" cy="236.75" r="0.50" fill="#6e5a58" fill-opacity="0.90"/>
<circle cx="485.57" cy="236.75" r="0.50" fill="#6e5a58" fill-opacity="0.90"/>
<circle cx="498.76" cy="236.75" r="0.50" fill="#6e5a58" fill-opacity="0.90"/>
<circle cx="511.96" cy="236.75" r="1.25" fill="#fee3d6" stroke="#3a1a1a" stroke-opacity="0.75" stroke-width="0.3"/>
<circle cx="525.15" cy="236.75" r="0.85" fill="#fee7dd" stroke="#3a1a1a" stroke-opacity="0.75" stroke-width="0.3"/>
<circle cx="538.34" cy="236.75" r="1.25" fill="#fdcdb9" stroke="#3a1a1a" stroke-opacity="0.75" stroke-width="0.3"/>
<circle cx="551.53" cy="236.75" r="1.70" fill="#fca385" stroke="#3a1a1a" stroke-opacity="0.75" stroke-width="0.3"/>
<circle cx="564.72" cy="236.75" r="2.45" fill="#fc9a7b" stroke="#3a1a1a" stroke-opacity="0.75" stroke-width="0.3"/>
<circle cx="577.92" cy="236.75" r="1.45" fill="#fee7dd" stroke="#3a1a1a" stroke-opacity="0.75" stroke-width="0.3"/>
<circle cx="591.11" cy="236.75" r="1.45" fill="#fee3d6" stroke="#3a1a1a" stroke-opacity="0.75" stroke-width="0.3"/>
<circle cx="604.30" cy="236.75" r="1.10" fill="#ffece3" stroke="#3a1a1a" stroke-opacity="0.75" stroke-width="0.3"/>
<circle cx="116.20" cy="248.90" r="1.35" fill="#fee7dd" stroke="#3a1a1a" stroke-opacity="0.75" stroke-width="0.3"/>
<circle cx="129.39" cy="248.90" r="4.60" fill="#67000d" stroke="#3a1a1a" stroke-opacity="0.75" stroke-width="0.3"/>
<circle cx="142.58" cy="248.90" r="3.35" fill="#f75b40" stroke="#3a1a1a" stroke-opacity="0.75" stroke-width="0.3"/>
<circle cx="155.78" cy="248.90" r="2.85" fill="#fca385" stroke="#3a1a1a" stroke-opacity="0.75" stroke-width="0.3"/>
<circle cx="168.97" cy="248.90" r="3.35" fill="#e83529" stroke="#3a1a1a" stroke-opacity="0.75" stroke-width="0.3"/>
<circle cx="182.16" cy="248.90" r="0.40" fill="#6e5a58" fill-opacity="0.80"/>
<circle cx="195.35" cy="248.90" r="1.10" fill="#ffece3" stroke="#3a1a1a" stroke-opacity="0.75" stroke-width="0.3"/>
<circle cx="208.54" cy="248.90" r="4.60" fill="#67000d" stroke="#3a1a1a" stroke-opacity="0.75" stroke-width="0.3"/>
<circle cx="221.74" cy="248.90" r="0.50" fill="#6e5a58" fill-opacity="0.90"/>
<circle cx="261.31" cy="248.90" r="0.50" fill="#6e5a58" fill-opacity="0.90"/>
<circle cx="274.50" cy="248.90" r="0.40" fill="#6e5a58" fill-opacity="0.80"/>
<circle cx="300.89" cy="248.90" r="0.75" fill="#6e5a58" fill-opacity="1.00"/>
<circle cx="314.08" cy="248.90" r="2.60" fill="#fcac8f" stroke="#3a1a1a" stroke-opacity="0.75" stroke-width="0.3"/>
<circle cx="327.27" cy="248.90" r="4.60" fill="#67000d" stroke="#3a1a1a" stroke-opacity="0.75" stroke-width="0.3"/>
<circle cx="419.61" cy="248.90" r="0.40" fill="#6e5a58" fill-opacity="0.80"/>
<circle cx="485.57" cy="248.90" r="0.75" fill="#6e5a58" fill-opacity="1.00"/>
<circle cx="511.96" cy="248.90" r="0.35" fill="#6e5a58" fill-opacity="0.70"/>
<circle cx="525.15" cy="248.90" r="1.05" fill="#ffece3" stroke="#3a1a1a" stroke-opacity="0.75" stroke-width="0.3"/>
<circle cx="538.34" cy="248.90" r="3.10" fill="#fb7757" stroke="#3a1a1a" stroke-opacity="0.75" stroke-width="0.3"/>
<circle cx="551.53" cy="248.90" r="2.70" fill="#fb7757" stroke="#3a1a1a" stroke-opacity="0.75" stroke-width="0.3"/>
<circle cx="564.72" cy="248.90" r="2.95" fill="#fc9171" stroke="#3a1a1a" stroke-opacity="0.75" stroke-width="0.3"/>
<circle cx="577.92" cy="248.90" r="1.85" fill="#fee3d6" stroke="#3a1a1a" stroke-opacity="0.75" stroke-width="0.3"/>
<circle cx="591.11" cy="248.90" r="1.45" fill="#fee7dd" stroke="#3a1a1a" stroke-opacity="0.75" stroke-width="0.3"/>
<circle cx="604.30" cy="248.90" r="1.75" fill="#fee3d6" stroke="#3a1a1a" stroke-opacity="0.75" stroke-width="0.3"/>
<circle cx="116.20" cy="261.05" r="2.60" fill="#fb6e4e" stroke="#3a1a1a" stroke-opacity="0.75" stroke-width="0.3"/>
<circle cx="142.58" cy="261.05" r="2.85" fill="#b91419" stroke="#3a1a1a" stroke-opacity="0.75" stroke-width="0.3"/>
<circle cx="182.16" cy="261.05" r="0.40" fill="#6e5a58" fill-opacity="0.80"/>
<circle cx="208.54" cy="261.05" r="3.60" fill="#67000d" stroke="#3a1a1a" stroke-opacity="0.75" stroke-width="0.3"/>
<circle cx="248.12" cy="261.05" r="0.35" fill="#6e5a58" fill-opacity="0.65"/>
<circle cx="274.50" cy="261.05" r="0.35" fill="#6e5a58" fill-opacity="0.70"/>
<circle cx="300.89" cy="261.05" r="0.50" fill="#6e5a58" fill-opacity="0.90"/>
<circle cx="314.08" cy="261.05" r="2.85" fill="#fa6547" stroke="#3a1a1a" stroke-opacity="0.75" stroke-width="0.3"/>
<circle cx="327.27" cy="261.05" r="4.00" fill="#67000d" stroke="#3a1a1a" stroke-opacity="0.75" stroke-width="0.3"/>
<circle cx="366.85" cy="261.05" r="0.40" fill="#6e5a58" fill-opacity="0.80"/>
<circle cx="393.23" cy="261.05" r="0.35" fill="#6e5a58" fill-opacity="0.70"/>
<circle cx="406.42" cy="261.05" r="0.50" fill="#6e5a58" fill-opacity="0.90"/>
<circle cx="419.61" cy="261.05" r="0.35" fill="#6e5a58" fill-opacity="0.70"/>
<circle cx="485.57" cy="261.05" r="0.65" fill="#6e5a58" fill-opacity="1.00"/>
<circle cx="498.76" cy="261.05" r="0.50" fill="#6e5a58" fill-opacity="0.90"/>
<circle cx="525.15" cy="261.05" r="1.85" fill="#fcbda4" stroke="#3a1a1a" stroke-opacity="0.75" stroke-width="0.3"/>
<circle cx="538.34" cy="261.05" r="3.00" fill="#fa6547" stroke="#3a1a1a" stroke-opacity="0.75" stroke-width="0.3"/>
<circle cx="551.53" cy="261.05" r="2.10" fill="#fc9171" stroke="#3a1a1a" stroke-opacity="0.75" stroke-width="0.3"/>
<circle cx="564.72" cy="261.05" r="2.65" fill="#fa6547" stroke="#3a1a1a" stroke-opacity="0.75" stroke-width="0.3"/>
<circle cx="577.92" cy="261.05" r="2.35" fill="#f75b40" stroke="#3a1a1a" stroke-opacity="0.75" stroke-width="0.3"/>
<circle cx="591.11" cy="261.05" r="0.60" fill="#6e5a58" fill-opacity="1.00"/>
<circle cx="604.30" cy="261.05" r="0.75" fill="#6e5a58" fill-opacity="1.00"/>
<circle cx="116.20" cy="273.20" r="1.35" fill="#ffece3" stroke="#3a1a1a" stroke-opacity="0.75" stroke-width="0.3"/>
<circle cx="129.39" cy="273.20" r="0.35" fill="#6e5a58" fill-opacity="0.65"/>
<circle cx="142.58" cy="273.20" r="2.10" fill="#fcb499" stroke="#3a1a1a" stroke-opacity="0.75" stroke-width="0.3"/>
<circle cx="155.78" cy="273.20" r="2.35" fill="#fcac8f" stroke="#3a1a1a" stroke-opacity="0.75" stroke-width="0.3"/>
<circle cx="168.97" cy="273.20" r="3.10" fill="#e83529" stroke="#3a1a1a" stroke-opacity="0.75" stroke-width="0.3"/>
<circle cx="182.16" cy="273.20" r="2.35" fill="#fc8060" stroke="#3a1a1a" stroke-opacity="0.75" stroke-width="0.3"/>
<circle cx="195.35" cy="273.20" r="3.35" fill="#b91419" stroke="#3a1a1a" stroke-opacity="0.75" stroke-width="0.3"/>
<circle cx="208.54" cy="273.20" r="4.10" fill="#67000d" stroke="#3a1a1a" stroke-opacity="0.75" stroke-width="0.3"/>
<circle cx="221.74" cy="273.20" r="0.35" fill="#6e5a58" fill-opacity="0.65"/>
<circle cx="234.93" cy="273.20" r="0.35" fill="#6e5a58" fill-opacity="0.65"/>
<circle cx="248.12" cy="273.20" r="0.35" fill="#6e5a58" fill-opacity="0.65"/>
<circle cx="261.31" cy="273.20" r="0.35" fill="#6e5a58" fill-opacity="0.70"/>
<circle cx="274.50" cy="273.20" r="0.35" fill="#6e5a58" fill-opacity="0.65"/>
<circle cx="287.69" cy="273.20" r="0.35" fill="#6e5a58" fill-opacity="0.60"/>
<circle cx="300.89" cy="273.20" r="1.10" fill="#fdd5c3" stroke="#3a1a1a" stroke-opacity="0.75" stroke-width="0.3"/>
<circle cx="314.08" cy="273.20" r="1.85" fill="#fdd5c3" stroke="#3a1a1a" stroke-opacity="0.75" stroke-width="0.3"/>
<circle cx="327.27" cy="273.20" r="3.35" fill="#f24733" stroke="#3a1a1a" stroke-opacity="0.75" stroke-width="0.3"/>
<circle cx="366.85" cy="273.20" r="0.35" fill="#6e5a58" fill-opacity="0.65"/>
<circle cx="406.42" cy="273.20" r="0.35" fill="#6e5a58" fill-opacity="0.70"/>
<circle cx="419.61" cy="273.20" r="0.40" fill="#6e5a58" fill-opacity="0.80"/>
<circle cx="432.81" cy="273.20" r="0.35" fill="#6e5a58" fill-opacity="0.70"/>
<circle cx="446.00" cy="273.20" r="0.35" fill="#6e5a58" fill-opacity="0.60"/>
<circle cx="459.19" cy="273.20" r="0.60" fill="#6e5a58" fill-opacity="1.00"/>
<circle cx="472.38" cy="273.20" r="0.35" fill="#6e5a58" fill-opacity="0.60"/>
<circle cx="485.57" cy="273.20" r="0.35" fill="#6e5a58" fill-opacity="0.60"/>
<circle cx="498.76" cy="273.20" r="0.40" fill="#6e5a58" fill-opacity="0.80"/>
<circle cx="511.96" cy="273.20" r="0.40" fill="#6e5a58" fill-opacity="0.80"/>
<circle cx="525.15" cy="273.20" r="1.45" fill="#fee3d6" stroke="#3a1a1a" stroke-opacity="0.75" stroke-width="0.3"/>
<circle cx="538.34" cy="273.20" r="2.65" fill="#fc8060" stroke="#3a1a1a" stroke-opacity="0.75" stroke-width="0.3"/>
<circle cx="551.53" cy="273.20" r="1.35" fill="#ffece3" stroke="#3a1a1a" stroke-opacity="0.75" stroke-width="0.3"/>
<circle cx="564.72" cy="273.20" r="1.95" fill="#fdc5ae" stroke="#3a1a1a" stroke-opacity="0.75" stroke-width="0.3"/>
<circle cx="577.92" cy="273.20" r="2.35" fill="#fc9a7b" stroke="#3a1a1a" stroke-opacity="0.75" stroke-width="0.3"/>
<circle cx="591.11" cy="273.20" r="1.25" fill="#fee7dd" stroke="#3a1a1a" stroke-opacity="0.75" stroke-width="0.3"/>
<circle cx="604.30" cy="273.20" r="0.60" fill="#6e5a58" fill-opacity="1.00"/>
<circle cx="116.20" cy="285.35" r="1.95" fill="#fcbda4" stroke="#3a1a1a" stroke-opacity="0.75" stroke-width="0.3"/>
<circle cx="129.39" cy="285.35" r="0.50" fill="#6e5a58" fill-opacity="0.90"/>
<circle cx="142.58" cy="285.35" r="0.50" fill="#6e5a58" fill-opacity="0.90"/>
<circle cx="155.78" cy="285.35" r="2.60" fill="#fca385" stroke="#3a1a1a" stroke-opacity="0.75" stroke-width="0.3"/>
<circle cx="168.97" cy="285.35" r="3.60" fill="#b91419" stroke="#3a1a1a" stroke-opacity="0.75" stroke-width="0.3"/>
<circle cx="182.16" cy="285.35" r="2.60" fill="#fb6e4e" stroke="#3a1a1a" stroke-opacity="0.75" stroke-width="0.3"/>
<circle cx="195.35" cy="285.35" r="1.10" fill="#fff0ea" stroke="#3a1a1a" stroke-opacity="0.75" stroke-width="0.3"/>
<circle cx="208.54" cy="285.35" r="1.45" fill="#fdd5c3" stroke="#3a1a1a" stroke-opacity="0.75" stroke-width="0.3"/>
<circle cx="221.74" cy="285.35" r="0.35" fill="#6e5a58" fill-opacity="0.65"/>
<circle cx="234.93" cy="285.35" r="0.35" fill="#6e5a58" fill-opacity="0.65"/>
<circle cx="261.31" cy="285.35" r="0.40" fill="#6e5a58" fill-opacity="0.80"/>
<circle cx="274.50" cy="285.35" r="0.50" fill="#6e5a58" fill-opacity="0.90"/>
<circle cx="300.89" cy="285.35" r="0.40" fill="#6e5a58" fill-opacity="0.80"/>
<circle cx="314.08" cy="285.35" r="2.00" fill="#feddce" stroke="#3a1a1a" stroke-opacity="0.75" stroke-width="0.3"/>
<circle cx="327.27" cy="285.35" r="3.85" fill="#67000d" stroke="#3a1a1a" stroke-opacity="0.75" stroke-width="0.3"/>
<circle cx="366.85" cy="285.35" r="0.85" fill="#fdd5c3" stroke="#3a1a1a" stroke-opacity="0.75" stroke-width="0.3"/>
<circle cx="406.42" cy="285.35" r="2.10" fill="#fcb499" stroke="#3a1a1a" stroke-opacity="0.75" stroke-width="0.3"/>
<circle cx="432.81" cy="285.35" r="0.35" fill="#6e5a58" fill-opacity="0.70"/>
<circle cx="459.19" cy="285.35" r="1.00" fill="#fcbda4" stroke="#3a1a1a" stroke-opacity="0.75" stroke-width="0.3"/>
<circle cx="485.57" cy="285.35" r="0.35" fill="#6e5a58" fill-opacity="0.70"/>
<circle cx="498.76" cy="285.35" r="0.50" fill="#6e5a58" fill-opacity="0.90"/>
<circle cx="511.96" cy="285.35" r="0.50" fill="#6e5a58" fill-opacity="0.90"/>
<circle cx="525.15" cy="285.35" r="0.50" fill="#fdc5ae" stroke="#3a1a1a" stroke-opacity="0.75" stroke-width="0.3"/>
<circle cx="538.34" cy="285.35" r="1.35" fill="#ffece3" stroke="#3a1a1a" stroke-opacity="0.75" stroke-width="0.3"/>
<circle cx="551.53" cy="285.35" r="1.25" fill="#ffece3" stroke="#3a1a1a" stroke-opacity="0.75" stroke-width="0.3"/>
<circle cx="564.72" cy="285.35" r="2.20" fill="#fcbda4" stroke="#3a1a1a" stroke-opacity="0.75" stroke-width="0.3"/>
<circle cx="577.92" cy="285.35" r="2.10" fill="#fcbda4" stroke="#3a1a1a" stroke-opacity="0.75" stroke-width="0.3"/>
<circle cx="591.11" cy="285.35" r="1.10" fill="#fee3d6" stroke="#3a1a1a" stroke-opacity="0.75" stroke-width="0.3"/>
<circle cx="604.30" cy="285.35" r="0.95" fill="#fee7dd" stroke="#3a1a1a" stroke-opacity="0.75" stroke-width="0.3"/>
<circle cx="116.20" cy="297.50" r="0.50" fill="#6e5a58" fill-opacity="0.90"/>
<circle cx="142.58" cy="297.50" r="3.45" fill="#b91419" stroke="#3a1a1a" stroke-opacity="0.75" stroke-width="0.3"/>
<circle cx="221.74" cy="297.50" r="2.85" fill="#fb6e4e" stroke="#3a1a1a" stroke-opacity="0.75" stroke-width="0.3"/>
<circle cx="234.93" cy="297.50" r="0.50" fill="#6e5a58" fill-opacity="0.90"/>
<circle cx="248.12" cy="297.50" r="1.35" fill="#fdc5ae" stroke="#3a1a1a" stroke-opacity="0.75" stroke-width="0.3"/>
<circle cx="261.31" cy="297.50" r="1.10" fill="#fc8060" stroke="#3a1a1a" stroke-opacity="0.75" stroke-width="0.3"/>
<circle cx="287.69" cy="297.50" r="0.50" fill="#6e5a58" fill-opacity="0.90"/>
<circle cx="300.89" cy="297.50" r="1.10" fill="#ffece3" stroke="#3a1a1a" stroke-opacity="0.75" stroke-width="0.3"/>
<circle cx="314.08" cy="297.50" r="3.10" fill="#fc9a7b" stroke="#3a1a1a" stroke-opacity="0.75" stroke-width="0.3"/>
<circle cx="327.27" cy="297.50" r="4.75" fill="#67000d" stroke="#3a1a1a" stroke-opacity="0.75" stroke-width="0.3"/>
<circle cx="366.85" cy="297.50" r="1.25" fill="#fee7dd" stroke="#3a1a1a" stroke-opacity="0.75" stroke-width="0.3"/>
<circle cx="393.23" cy="297.50" r="0.50" fill="#6e5a58" fill-opacity="0.90"/>
<circle cx="406.42" cy="297.50" r="0.60" fill="#6e5a58" fill-opacity="1.00"/>
<circle cx="485.57" cy="297.50" r="0.50" fill="#6e5a58" fill-opacity="0.90"/>
<circle cx="511.96" cy="297.50" r="1.60" fill="#ffece3" stroke="#3a1a1a" stroke-opacity="0.75" stroke-width="0.3"/>
<circle cx="525.15" cy="297.50" r="2.85" fill="#fb7757" stroke="#3a1a1a" stroke-opacity="0.75" stroke-width="0.3"/>
<circle cx="538.34" cy="297.50" r="0.50" fill="#fdd5c3" stroke="#3a1a1a" stroke-opacity="0.75" stroke-width="0.3"/>
<circle cx="551.53" cy="297.50" r="0.35" fill="#6e5a58" fill-opacity="0.70"/>
<circle cx="564.72" cy="297.50" r="2.65" fill="#fcac8f" stroke="#3a1a1a" stroke-opacity="0.75" stroke-width="0.3"/>
<circle cx="577.92" cy="297.50" r="2.85" fill="#fc9171" stroke="#3a1a1a" stroke-opacity="0.75" stroke-width="0.3"/>
<circle cx="591.11" cy="297.50" r="1.85" fill="#fcb499" stroke="#3a1a1a" stroke-opacity="0.75" stroke-width="0.3"/>
<circle cx="604.30" cy="297.50" r="1.10" fill="#fee7dd" stroke="#3a1a1a" stroke-opacity="0.75" stroke-width="0.3"/>
<circle cx="116.20" cy="309.65" r="0.60" fill="#6e5a58" fill-opacity="1.00"/>
<circle cx="129.39" cy="309.65" r="0.35" fill="#6e5a58" fill-opacity="0.65"/>
<circle cx="142.58" cy="309.65" r="2.00" fill="#fcb499" stroke="#3a1a1a" stroke-opacity="0.75" stroke-width="0.3"/>
<circle cx="155.78" cy="309.65" r="0.35" fill="#6e5a58" fill-opacity="0.60"/>
<circle cx="168.97" cy="309.65" r="0.35" fill="#6e5a58" fill-opacity="0.60"/>
<circle cx="182.16" cy="309.65" r="0.35" fill="#6e5a58" fill-opacity="0.60"/>
<circle cx="195.35" cy="309.65" r="0.35" fill="#6e5a58" fill-opacity="0.60"/>
<circle cx="208.54" cy="309.65" r="0.35" fill="#6e5a58" fill-opacity="0.70"/>
<circle cx="221.74" cy="309.65" r="0.60" fill="#6e5a58" fill-opacity="1.00"/>
<circle cx="234.93" cy="309.65" r="0.50" fill="#6e5a58" fill-opacity="0.90"/>
<circle cx="248.12" cy="309.65" r="1.35" fill="#fcbda4" stroke="#3a1a1a" stroke-opacity="0.75" stroke-width="0.3"/>
<circle cx="261.31" cy="309.65" r="1.60" fill="#d92523" stroke="#3a1a1a" stroke-opacity="0.75" stroke-width="0.3"/>
<circle cx="274.50" cy="309.65" r="0.35" fill="#6e5a58" fill-opacity="0.65"/>
<circle cx="287.69" cy="309.65" r="0.40" fill="#6e5a58" fill-opacity="0.80"/>
<circle cx="300.89" cy="309.65" r="0.85" fill="#fee3d6" stroke="#3a1a1a" stroke-opacity="0.75" stroke-width="0.3"/>
<circle cx="314.08" cy="309.65" r="2.60" fill="#fca385" stroke="#3a1a1a" stroke-opacity="0.75" stroke-width="0.3"/>
<circle cx="327.27" cy="309.65" r="4.35" fill="#67000d" stroke="#3a1a1a" stroke-opacity="0.75" stroke-width="0.3"/>
<circle cx="340.46" cy="309.65" r="0.35" fill="#6e5a58" fill-opacity="0.55"/>
<circle cx="366.85" cy="309.65" r="1.85" fill="#fca385" stroke="#3a1a1a" stroke-opacity="0.75" stroke-width="0.3"/>
<circle cx="393.23" cy="309.65" r="0.40" fill="#6e5a58" fill-opacity="0.80"/>
<circle cx="406.42" cy="309.65" r="0.50" fill="#6e5a58" fill-opacity="0.90"/>
<circle cx="419.61" cy="309.65" r="0.35" fill="#6e5a58" fill-opacity="0.70"/>
<circle cx="432.81" cy="309.65" r="0.35" fill="#6e5a58" fill-opacity="0.55"/>
<circle cx="446.00" cy="309.65" r="0.35" fill="#6e5a58" fill-opacity="0.55"/>
<circle cx="459.19" cy="309.65" r="0.35" fill="#6e5a58" fill-opacity="0.65"/>
<circle cx="472.38" cy="309.65" r="0.35" fill="#6e5a58" fill-opacity="0.55"/>
<circle cx="485.57" cy="309.65" r="0.35" fill="#6e5a58" fill-opacity="0.55"/>
<circle cx="498.76" cy="309.65" r="0.40" fill="#6e5a58" fill-opacity="0.80"/>
<circle cx="511.96" cy="309.65" r="0.75" fill="#fdd5c3" stroke="#3a1a1a" stroke-opacity="0.75" stroke-width="0.3"/>
<circle cx="525.15" cy="309.65" r="2.00" fill="#fcbda4" stroke="#3a1a1a" stroke-opacity="0.75" stroke-width="0.3"/>
<circle cx="538.34" cy="309.65" r="0.40" fill="#6e5a58" fill-opacity="0.80"/>
<circle cx="551.53" cy="309.65" r="0.35" fill="#6e5a58" fill-opacity="0.55"/>
<circle cx="564.72" cy="309.65" r="2.25" fill="#fcbda4" stroke="#3a1a1a" stroke-opacity="0.75" stroke-width="0.3"/>
<circle cx="577.92" cy="309.65" r="2.10" fill="#fcb499" stroke="#3a1a1a" stroke-opacity="0.75" stroke-width="0.3"/>
<circle cx="591.11" cy="309.65" r="1.75" fill="#fdc5ae" stroke="#3a1a1a" stroke-opacity="0.75" stroke-width="0.3"/>
<circle cx="604.30" cy="309.65" r="1.25" fill="#fee7dd" stroke="#3a1a1a" stroke-opacity="0.75" stroke-width="0.3"/>
<circle cx="116.20" cy="321.80" r="0.60" fill="#6e5a58" fill-opacity="1.00"/>
<circle cx="129.39" cy="321.80" r="0.35" fill="#6e5a58" fill-opacity="0.60"/>
<circle cx="142.58" cy="321.80" r="0.50" fill="#6e5a58" fill-opacity="0.90"/>
<circle cx="155.78" cy="321.80" r="0.35" fill="#6e5a58" fill-opacity="0.55"/>
<circle cx="168.97" cy="321.80" r="0.35" fill="#6e5a58" fill-opacity="0.55"/>
<circle cx="182.16" cy="321.80" r="0.35" fill="#6e5a58" fill-opacity="0.55"/>
<circle cx="195.35" cy="321.80" r="0.35" fill="#6e5a58" fill-opacity="0.55"/>
<circle cx="208.54" cy="321.80" r="0.35" fill="#6e5a58" fill-opacity="0.55"/>
<circle cx="221.74" cy="321.80" r="0.40" fill="#6e5a58" fill-opacity="0.80"/>
<circle cx="234.93" cy="321.80" r="1.85" fill="#fdc5ae" stroke="#3a1a1a" stroke-opacity="0.75" stroke-width="0.3"/>
<circle cx="248.12" cy="321.80" r="2.75" fill="#f5513a" stroke="#3a1a1a" stroke-opacity="0.75" stroke-width="0.3"/>
<circle cx="261.31" cy="321.80" r="4.60" fill="#67000d" stroke="#3a1a1a" stroke-opacity="0.75" stroke-width="0.3"/>
<circle cx="274.50" cy="321.80" r="0.35" fill="#6e5a58" fill-opacity="0.65"/>
<circle cx="287.69" cy="321.80" r="1.45" fill="#fee3d6" stroke="#3a1a1a" stroke-opacity="0.75" stroke-width="0.3"/>
<circle cx="300.89" cy="321.80" r="0.85" fill="#fee3d6" stroke="#3a1a1a" stroke-opacity="0.75" stroke-width="0.3"/>
<circle cx="314.08" cy="321.80" r="2.60" fill="#fca385" stroke="#3a1a1a" stroke-opacity="0.75" stroke-width="0.3"/>
<circle cx="327.27" cy="321.80" r="4.35" fill="#67000d" stroke="#3a1a1a" stroke-opacity="0.75" stroke-width="0.3"/>
<circle cx="340.46" cy="321.80" r="0.35" fill="#6e5a58" fill-opacity="0.55"/>
<circle cx="366.85" cy="321.80" r="0.40" fill="#6e5a58" fill-opacity="0.80"/>
<circle cx="393.23" cy="321.80" r="0.35" fill="#6e5a58" fill-opacity="0.70"/>
<circle cx="406.42" cy="321.80" r="0.50" fill="#6e5a58" fill-opacity="0.90"/>
<circle cx="419.61" cy="321.80" r="0.35" fill="#6e5a58" fill-opacity="0.70"/>
<circle cx="432.81" cy="321.80" r="0.35" fill="#6e5a58" fill-opacity="0.60"/>
<circle cx="446.00" cy="321.80" r="0.35" fill="#6e5a58" fill-opacity="0.55"/>
<circle cx="459.19" cy="321.80" r="0.35" fill="#6e5a58" fill-opacity="0.55"/>
<circle cx="472.38" cy="321.80" r="0.35" fill="#6e5a58" fill-opacity="0.55"/>
<circle cx="485.57" cy="321.80" r="0.35" fill="#6e5a58" fill-opacity="0.65"/>
<circle cx="498.76" cy="321.80" r="0.40" fill="#6e5a58" fill-opacity="0.80"/>
<circle cx="511.96" cy="321.80" r="0.85" fill="#fdd5c3" stroke="#3a1a1a" stroke-opacity="0.75" stroke-width="0.3"/>
<circle cx="525.15" cy="321.80" r="1.55" fill="#fee3d6" stroke="#3a1a1a" stroke-opacity="0.75" stroke-width="0.3"/>
<circle cx="538.34" cy="321.80" r="0.35" fill="#6e5a58" fill-opacity="0.65"/>
<circle cx="551.53" cy="321.80" r="0.35" fill="#6e5a58" fill-opacity="0.60"/>
<circle cx="564.72" cy="321.80" r="2.10" fill="#fcbda4" stroke="#3a1a1a" stroke-opacity="0.75" stroke-width="0.3"/>
<circle cx="577.92" cy="321.80" r="2.35" fill="#fca385" stroke="#3a1a1a" stroke-opacity="0.75" stroke-width="0.3"/>
<circle cx="591.11" cy="321.80" r="1.45" fill="#feddce" stroke="#3a1a1a" stroke-opacity="0.75" stroke-width="0.3"/>
<circle cx="604.30" cy="321.80" r="1.25" fill="#fee7dd" stroke="#3a1a1a" stroke-opacity="0.75" stroke-width="0.3"/>
<circle cx="116.20" cy="333.95" r="0.50" fill="#6e5a58" fill-opacity="0.90"/>
<circle cx="129.39" cy="333.95" r="0.35" fill="#6e5a58" fill-opacity="0.55"/>
<circle cx="142.58" cy="333.95" r="0.40" fill="#6e5a58" fill-opacity="0.80"/>
<circle cx="155.78" cy="333.95" r="0.35" fill="#6e5a58" fill-opacity="0.55"/>
<circle cx="168.97" cy="333.95" r="0.35" fill="#6e5a58" fill-opacity="0.55"/>
<circle cx="195.35" cy="333.95" r="0.35" fill="#6e5a58" fill-opacity="0.55"/>
<circle cx="208.54" cy="333.95" r="0.35" fill="#6e5a58" fill-opacity="0.55"/>
<circle cx="221.74" cy="333.95" r="1.70" fill="#fdc5ae" stroke="#3a1a1a" stroke-opacity="0.75" stroke-width="0.3"/>
<circle cx="234.93" cy="333.95" r="2.10" fill="#fcac8f" stroke="#3a1a1a" stroke-opacity="0.75" stroke-width="0.3"/>
<circle cx="248.12" cy="333.95" r="4.10" fill="#67000d" stroke="#3a1a1a" stroke-opacity="0.75" stroke-width="0.3"/>
<circle cx="261.31" cy="333.95" r="3.35" fill="#67000d" stroke="#3a1a1a" stroke-opacity="0.75" stroke-width="0.3"/>
<circle cx="274.50" cy="333.95" r="0.35" fill="#6e5a58" fill-opacity="0.60"/>
<circle cx="287.69" cy="333.95" r="1.35" fill="#feddce" stroke="#3a1a1a" stroke-opacity="0.75" stroke-width="0.3"/>
<circle cx="300.89" cy="333.95" r="0.85" fill="#fdd5c3" stroke="#3a1a1a" stroke-opacity="0.75" stroke-width="0.3"/>
<circle cx="314.08" cy="333.95" r="2.85" fill="#fc9171" stroke="#3a1a1a" stroke-opacity="0.75" stroke-width="0.3"/>
<circle cx="327.27" cy="333.95" r="4.35" fill="#67000d" stroke="#3a1a1a" stroke-opacity="0.75" stroke-width="0.3"/>
<circle cx="340.46" cy="333.95" r="0.35" fill="#6e5a58" fill-opacity="0.55"/>
<circle cx="366.85" cy="333.95" r="0.35" fill="#6e5a58" fill-opacity="0.65"/>
<circle cx="393.23" cy="333.95" r="0.35" fill="#6e5a58" fill-opacity="0.60"/>
<circle cx="406.42" cy="333.95" r="0.50" fill="#6e5a58" fill-opacity="0.90"/>
<circle cx="419.61" cy="333.95" r="0.35" fill="#6e5a58" fill-opacity="0.70"/>
<circle cx="432.81" cy="333.95" r="0.35" fill="#6e5a58" fill-opacity="0.55"/>
<circle cx="446.00" cy="333.95" r="0.35" fill="#6e5a58" fill-opacity="0.55"/>
<circle cx="459.19" cy="333.95" r="0.35" fill="#6e5a58" fill-opacity="0.55"/>
<circle cx="485.57" cy="333.95" r="0.35" fill="#6e5a58" fill-opacity="0.60"/>
<circle cx="498.76" cy="333.95" r="0.40" fill="#6e5a58" fill-opacity="0.80"/>
<circle cx="511.96" cy="333.95" r="1.25" fill="#fee3d6" stroke="#3a1a1a" stroke-opacity="0.75" stroke-width="0.3"/>
<circle cx="525.15" cy="333.95" r="1.60" fill="#fdcdb9" stroke="#3a1a1a" stroke-opacity="0.75" stroke-width="0.3"/>
<circle cx="538.34" cy="333.95" r="0.35" fill="#6e5a58" fill-opacity="0.60"/>
<circle cx="551.53" cy="333.95" r="0.35" fill="#6e5a58" fill-opacity="0.55"/>
<circle cx="564.72" cy="333.95" r="2.35" fill="#fcac8f" stroke="#3a1a1a" stroke-opacity="0.75" stroke-width="0.3"/>
<circle cx="577.92" cy="333.95" r="2.75" fill="#fc8868" stroke="#3a1a1a" stroke-opacity="0.75" stroke-width="0.3"/>
<circle cx="591.11" cy="333.95" r="1.70" fill="#fdd5c3" stroke="#3a1a1a" stroke-opacity="0.75" stroke-width="0.3"/>
<circle cx="604.30" cy="333.95" r="1.35" fill="#fee3d6" stroke="#3a1a1a" stroke-opacity="0.75" stroke-width="0.3"/>
<circle cx="116.20" cy="346.10" r="0.60" fill="#6e5a58" fill-opacity="1.00"/>
<circle cx="142.58" cy="346.10" r="0.75" fill="#6e5a58" fill-opacity="1.00"/>
<circle cx="155.78" cy="346.10" r="0.35" fill="#6e5a58" fill-opacity="0.65"/>
<circle cx="168.97" cy="346.10" r="0.35" fill="#6e5a58" fill-opacity="0.70"/>
<circle cx="221.74" cy="346.10" r="0.95" fill="#fdcdb9" stroke="#3a1a1a" stroke-opacity="0.75" stroke-width="0.3"/>
<circle cx="234.93" cy="346.10" r="1.85" fill="#fdd5c3" stroke="#3a1a1a" stroke-opacity="0.75" stroke-width="0.3"/>
<circle cx="248.12" cy="346.10" r="2.85" fill="#f75b40" stroke="#3a1a1a" stroke-opacity="0.75" stroke-width="0.3"/>
<circle cx="261.31" cy="346.10" r="3.85" fill="#67000d" stroke="#3a1a1a" stroke-opacity="0.75" stroke-width="0.3"/>
<circle cx="287.69" cy="346.10" r="1.10" fill="#fee3d6" stroke="#3a1a1a" stroke-opacity="0.75" stroke-width="0.3"/>
<circle cx="300.89" cy="346.10" r="0.85" fill="#feddce" stroke="#3a1a1a" stroke-opacity="0.75" stroke-width="0.3"/>
<circle cx="314.08" cy="346.10" r="2.75" fill="#fc9a7b" stroke="#3a1a1a" stroke-opacity="0.75" stroke-width="0.3"/>
<circle cx="327.27" cy="346.10" r="4.35" fill="#67000d" stroke="#3a1a1a" stroke-opacity="0.75" stroke-width="0.3"/>
<circle cx="366.85" cy="346.10" r="0.60" fill="#6e5a58" fill-opacity="1.00"/>
<circle cx="380.04" cy="346.10" r="0.35" fill="#6e5a58" fill-opacity="0.70"/>
<circle cx="406.42" cy="346.10" r="0.50" fill="#6e5a58" fill-opacity="0.90"/>
<circle cx="419.61" cy="346.10" r="0.35" fill="#6e5a58" fill-opacity="0.70"/>
<circle cx="446.00" cy="346.10" r="0.35" fill="#6e5a58" fill-opacity="0.65"/>
<circle cx="459.19" cy="346.10" r="0.35" fill="#6e5a58" fill-opacity="0.70"/>
<circle cx="511.96" cy="346.10" r="0.85" fill="#fdd5c3" stroke="#3a1a1a" stroke-opacity="0.75" stroke-width="0.3"/>
<circle cx="525.15" cy="346.10" r="2.00" fill="#fdc5ae" stroke="#3a1a1a" stroke-opacity="0.75" stroke-width="0.3"/>
<circle cx="538.34" cy="346.10" r="0.35" fill="#6e5a58" fill-opacity="0.60"/>
<circle cx="551.53" cy="346.10" r="0.35" fill="#6e5a58" fill-opacity="0.55"/>
<circle cx="564.72" cy="346.10" r="2.25" fill="#fcb499" stroke="#3a1a1a" stroke-opacity="0.75" stroke-width="0.3"/>
<circle cx="577.92" cy="346.10" r="2.65" fill="#fc9171" stroke="#3a1a1a" stroke-opacity="0.75" stroke-width="0.3"/>
<circle cx="591.11" cy="346.10" r="2.25" fill="#fcb499" stroke="#3a1a1a" stroke-opacity="0.75" stroke-width="0.3"/>
<circle cx="604.30" cy="346.10" r="1.55" fill="#fdd5c3" stroke="#3a1a1a" stroke-opacity="0.75" stroke-width="0.3"/>
<circle cx="116.20" cy="358.25" r="0.50" fill="#6e5a58" fill-opacity="0.90"/>
<circle cx="129.39" cy="358.25" r="0.35" fill="#6e5a58" fill-opacity="0.60"/>
<circle cx="142.58" cy="358.25" r="0.65" fill="#6e5a58" fill-opacity="1.00"/>
<circle cx="168.97" cy="358.25" r="0.35" fill="#6e5a58" fill-opacity="0.65"/>
<circle cx="221.74" cy="358.25" r="0.50" fill="#6e5a58" fill-opacity="0.90"/>
<circle cx="234.93" cy="358.25" r="0.85" fill="#fdcdb9" stroke="#3a1a1a" stroke-opacity="0.75" stroke-width="0.3"/>
<circle cx="248.12" cy="358.25" r="2.10" fill="#f24733" stroke="#3a1a1a" stroke-opacity="0.75" stroke-width="0.3"/>
<circle cx="261.31" cy="358.25" r="3.35" fill="#67000d" stroke="#3a1a1a" stroke-opacity="0.75" stroke-width="0.3"/>
<circle cx="274.50" cy="358.25" r="0.35" fill="#6e5a58" fill-opacity="0.65"/>
<circle cx="287.69" cy="358.25" r="0.85" fill="#fdcdb9" stroke="#3a1a1a" stroke-opacity="0.75" stroke-width="0.3"/>
<circle cx="300.89" cy="358.25" r="0.75" fill="#6e5a58" fill-opacity="1.00"/>
<circle cx="314.08" cy="358.25" r="1.60" fill="#feddce" stroke="#3a1a1a" stroke-opacity="0.75" stroke-width="0.3"/>
<circle cx="327.27" cy="358.25" r="3.35" fill="#67000d" stroke="#3a1a1a" stroke-opacity="0.75" stroke-width="0.3"/>
<circle cx="340.46" cy="358.25" r="0.35" fill="#6e5a58" fill-opacity="0.55"/>
<circle cx="353.65" cy="358.25" r="0.35" fill="#6e5a58" fill-opacity="0.55"/>
<circle cx="366.85" cy="358.25" r="0.50" fill="#6e5a58" fill-opacity="0.90"/>
<circle cx="393.23" cy="358.25" r="0.35" fill="#6e5a58" fill-opacity="0.60"/>
<circle cx="406.42" cy="358.25" r="0.40" fill="#6e5a58" fill-opacity="0.80"/>
<circle cx="419.61" cy="358.25" r="0.50" fill="#6e5a58" fill-opacity="0.90"/>
<circle cx="432.81" cy="358.25" r="0.35" fill="#6e5a58" fill-opacity="0.65"/>
<circle cx="446.00" cy="358.25" r="0.35" fill="#6e5a58" fill-opacity="0.65"/>
<circle cx="459.19" cy="358.25" r="0.35" fill="#6e5a58" fill-opacity="0.60"/>
<circle cx="472.38" cy="358.25" r="0.35" fill="#6e5a58" fill-opacity="0.55"/>
<circle cx="485.57" cy="358.25" r="0.35" fill="#6e5a58" fill-opacity="0.70"/>
<circle cx="498.76" cy="358.25" r="0.50" fill="#6e5a58" fill-opacity="0.90"/>
<circle cx="511.96" cy="358.25" r="0.65" fill="#6e5a58" fill-opacity="1.00"/>
<circle cx="525.15" cy="358.25" r="0.75" fill="#fdd5c3" stroke="#3a1a1a" stroke-opacity="0.75" stroke-width="0.3"/>
<circle cx="538.34" cy="358.25" r="0.35" fill="#6e5a58" fill-opacity="0.65"/>
<circle cx="551.53" cy="358.25" r="0.35" fill="#6e5a58" fill-opacity="0.60"/>
<circle cx="564.72" cy="358.25" r="1.45" fill="#feddce" stroke="#3a1a1a" stroke-opacity="0.75" stroke-width="0.3"/>
<circle cx="577.92" cy="358.25" r="1.70" fill="#fdcdb9" stroke="#3a1a1a" stroke-opacity="0.75" stroke-width="0.3"/>
<circle cx="591.11" cy="358.25" r="0.85" fill="#fdd5c3" stroke="#3a1a1a" stroke-opacity="0.75" stroke-width="0.3"/>
<circle cx="604.30" cy="358.25" r="0.65" fill="#feddce" stroke="#3a1a1a" stroke-opacity="0.75" stroke-width="0.3"/>
<circle cx="116.20" cy="370.40" r="0.50" fill="#6e5a58" fill-opacity="0.90"/>
<circle cx="129.39" cy="370.40" r="0.35" fill="#6e5a58" fill-opacity="0.55"/>
<circle cx="142.58" cy="370.40" r="0.50" fill="#6e5a58" fill-opacity="0.90"/>
<circle cx="155.78" cy="370.40" r="0.35" fill="#6e5a58" fill-opacity="0.55"/>
<circle cx="168.97" cy="370.40" r="0.35" fill="#6e5a58" fill-opacity="0.65"/>
<circle cx="208.54" cy="370.40" r="0.35" fill="#6e5a58" fill-opacity="0.55"/>
<circle cx="221.74" cy="370.40" r="3.95" fill="#67000d" stroke="#3a1a1a" stroke-opacity="0.75" stroke-width="0.3"/>
<circle cx="234.93" cy="370.40" r="0.75" fill="#fdd5c3" stroke="#3a1a1a" stroke-opacity="0.75" stroke-width="0.3"/>
<circle cx="248.12" cy="370.40" r="2.85" fill="#f75b40" stroke="#3a1a1a" stroke-opacity="0.75" stroke-width="0.3"/>
<circle cx="261.31" cy="370.40" r="1.10" fill="#fee3d6" stroke="#3a1a1a" stroke-opacity="0.75" stroke-width="0.3"/>
<circle cx="274.50" cy="370.40" r="0.40" fill="#6e5a58" fill-opacity="0.80"/>
<circle cx="287.69" cy="370.40" r="1.00" fill="#fee3d6" stroke="#3a1a1a" stroke-opacity="0.75" stroke-width="0.3"/>
<circle cx="300.89" cy="370.40" r="0.75" fill="#fdd5c3" stroke="#3a1a1a" stroke-opacity="0.75" stroke-width="0.3"/>
<circle cx="314.08" cy="370.40" r="3.25" fill="#f75b40" stroke="#3a1a1a" stroke-opacity="0.75" stroke-width="0.3"/>
<circle cx="327.27" cy="370.40" r="4.60" fill="#67000d" stroke="#3a1a1a" stroke-opacity="0.75" stroke-width="0.3"/>
<circle cx="340.46" cy="370.40" r="0.35" fill="#6e5a58" fill-opacity="0.55"/>
<circle cx="366.85" cy="370.40" r="0.35" fill="#6e5a58" fill-opacity="0.65"/>
<circle cx="406.42" cy="370.40" r="0.65" fill="#6e5a58" fill-opacity="1.00"/>
<circle cx="419.61" cy="370.40" r="0.35" fill="#6e5a58" fill-opacity="0.70"/>
<circle cx="432.81" cy="370.40" r="0.35" fill="#6e5a58" fill-opacity="0.55"/>
<circle cx="446.00" cy="370.40" r="0.35" fill="#6e5a58" fill-opacity="0.60"/>
<circle cx="459.19" cy="370.40" r="0.35" fill="#6e5a58" fill-opacity="0.55"/>
<circle cx="485.57" cy="370.40" r="0.35" fill="#6e5a58" fill-opacity="0.65"/>
<circle cx="498.76" cy="370.40" r="0.35" fill="#6e5a58" fill-opacity="0.70"/>
<circle cx="511.96" cy="370.40" r="1.25" fill="#fee7dd" stroke="#3a1a1a" stroke-opacity="0.75" stroke-width="0.3"/>
<circle cx="525.15" cy="370.40" r="1.85" fill="#fdc5ae" stroke="#3a1a1a" stroke-opacity="0.75" stroke-width="0.3"/>
<circle cx="538.34" cy="370.40" r="0.35" fill="#6e5a58" fill-opacity="0.70"/>
<circle cx="551.53" cy="370.40" r="0.35" fill="#6e5a58" fill-opacity="0.70"/>
<circle cx="564.72" cy="370.40" r="2.45" fill="#fcb499" stroke="#3a1a1a" stroke-opacity="0.75" stroke-width="0.3"/>
<circle cx="577.92" cy="370.40" r="3.05" fill="#fb6e4e" stroke="#3a1a1a" stroke-opacity="0.75" stroke-width="0.3"/>
<circle cx="591.11" cy="370.40" r="1.75" fill="#fdcdb9" stroke="#3a1a1a" stroke-opacity="0.75" stroke-width="0.3"/>
<circle cx="604.30" cy="370.40" r="1.25" fill="#fee3d6" stroke="#3a1a1a" stroke-opacity="0.75" stroke-width="0.3"/>
<circle cx="116.20" cy="382.55" r="0.35" fill="#6e5a58" fill-opacity="0.60"/>
<circle cx="142.58" cy="382.55" r="0.35" fill="#6e5a58" fill-opacity="0.70"/>
<circle cx="155.78" cy="382.55" r="0.35" fill="#6e5a58" fill-opacity="0.55"/>
<circle cx="168.97" cy="382.55" r="0.35" fill="#6e5a58" fill-opacity="0.60"/>
<circle cx="182.16" cy="382.55" r="0.35" fill="#6e5a58" fill-opacity="0.55"/>
<circle cx="195.35" cy="382.55" r="0.35" fill="#6e5a58" fill-opacity="0.55"/>
<circle cx="208.54" cy="382.55" r="0.35" fill="#6e5a58" fill-opacity="0.60"/>
<circle cx="221.74" cy="382.55" r="2.35" fill="#fcbda4" stroke="#3a1a1a" stroke-opacity="0.75" stroke-width="0.3"/>
<circle cx="234.93" cy="382.55" r="0.35" fill="#6e5a58" fill-opacity="0.60"/>
<circle cx="248.12" cy="382.55" r="0.50" fill="#6e5a58" fill-opacity="0.90"/>
<circle cx="261.31" cy="382.55" r="0.50" fill="#6e5a58" fill-opacity="0.90"/>
<circle cx="274.50" cy="382.55" r="4.10" fill="#67000d" stroke="#3a1a1a" stroke-opacity="0.75" stroke-width="0.3"/>
<circle cx="300.89" cy="382.55" r="0.35" fill="#6e5a58" fill-opacity="0.65"/>
<circle cx="314.08" cy="382.55" r="1.10" fill="#ffece3" stroke="#3a1a1a" stroke-opacity="0.75" stroke-width="0.3"/>
<circle cx="327.27" cy="382.55" r="1.85" fill="#fdd5c3" stroke="#3a1a1a" stroke-opacity="0.75" stroke-width="0.3"/>
<circle cx="340.46" cy="382.55" r="0.35" fill="#6e5a58" fill-opacity="0.55"/>
<circle cx="393.23" cy="382.55" r="0.75" fill="#6e5a58" fill-opacity="1.00"/>
<circle cx="406.42" cy="382.55" r="0.40" fill="#6e5a58" fill-opacity="0.80"/>
<circle cx="419.61" cy="382.55" r="0.35" fill="#6e5a58" fill-opacity="0.70"/>
<circle cx="432.81" cy="382.55" r="0.35" fill="#6e5a58" fill-opacity="0.60"/>
<circle cx="459.19" cy="382.55" r="0.35" fill="#6e5a58" fill-opacity="0.55"/>
<circle cx="485.57" cy="382.55" r="0.35" fill="#6e5a58" fill-opacity="0.55"/>
<circle cx="498.76" cy="382.55" r="0.40" fill="#6e5a58" fill-opacity="0.80"/>
<circle cx="511.96" cy="382.55" r="2.55" fill="#fc9171" stroke="#3a1a1a" stroke-opacity="0.75" stroke-width="0.3"/>
<circle cx="525.15" cy="382.55" r="1.00" fill="#fee3d6" stroke="#3a1a1a" stroke-opacity="0.75" stroke-width="0.3"/>
<circle cx="538.34" cy="382.55" r="1.15" fill="#ffece3" stroke="#3a1a1a" stroke-opacity="0.75" stroke-width="0.3"/>
<circle cx="551.53" cy="382.55" r="1.10" fill="#ffece3" stroke="#3a1a1a" stroke-opacity="0.75" stroke-width="0.3"/>
<circle cx="564.72" cy="382.55" r="1.65" fill="#fee7dd" stroke="#3a1a1a" stroke-opacity="0.75" stroke-width="0.3"/>
<circle cx="577.92" cy="382.55" r="1.25" fill="#fee7dd" stroke="#3a1a1a" stroke-opacity="0.75" stroke-width="0.3"/>
<circle cx="591.11" cy="382.55" r="1.05" fill="#fee3d6" stroke="#3a1a1a" stroke-opacity="0.75" stroke-width="0.3"/>
<circle cx="604.30" cy="382.55" r="0.50" fill="#6e5a58" fill-opacity="0.90"/>
<circle cx="116.20" cy="394.70" r="0.40" fill="#6e5a58" fill-opacity="0.80"/>
<circle cx="142.58" cy="394.70" r="0.50" fill="#6e5a58" fill-opacity="0.90"/>
<circle cx="155.78" cy="394.70" r="3.15" fill="#fa6547" stroke="#3a1a1a" stroke-opacity="0.75" stroke-width="0.3"/>
<circle cx="168.97" cy="394.70" r="2.65" fill="#f75b40" stroke="#3a1a1a" stroke-opacity="0.75" stroke-width="0.3"/>
<circle cx="208.54" cy="394.70" r="0.50" fill="#6e5a58" fill-opacity="0.90"/>
<circle cx="221.74" cy="394.70" r="0.40" fill="#6e5a58" fill-opacity="0.80"/>
<circle cx="234.93" cy="394.70" r="0.35" fill="#6e5a58" fill-opacity="0.65"/>
<circle cx="248.12" cy="394.70" r="0.50" fill="#6e5a58" fill-opacity="0.90"/>
<circle cx="261.31" cy="394.70" r="0.50" fill="#6e5a58" fill-opacity="0.90"/>
<circle cx="274.50" cy="394.70" r="4.60" fill="#67000d" stroke="#3a1a1a" stroke-opacity="0.75" stroke-width="0.3"/>
<circle cx="300.89" cy="394.70" r="0.35" fill="#6e5a58" fill-opacity="0.65"/>
<circle cx="314.08" cy="394.70" r="1.45" fill="#fee3d6" stroke="#3a1a1a" stroke-opacity="0.75" stroke-width="0.3"/>
<circle cx="327.27" cy="394.70" r="4.10" fill="#67000d" stroke="#3a1a1a" stroke-opacity="0.75" stroke-width="0.3"/>
<circle cx="366.85" cy="394.70" r="0.35" fill="#6e5a58" fill-opacity="0.55"/>
<circle cx="393.23" cy="394.70" r="0.40" fill="#6e5a58" fill-opacity="0.80"/>
<circle cx="406.42" cy="394.70" r="0.35" fill="#6e5a58" fill-opacity="0.60"/>
<circle cx="419.61" cy="394.70" r="0.35" fill="#6e5a58" fill-opacity="0.70"/>
<circle cx="432.81" cy="394.70" r="0.35" fill="#6e5a58" fill-opacity="0.60"/>
<circle cx="446.00" cy="394.70" r="0.35" fill="#6e5a58" fill-opacity="0.65"/>
<circle cx="459.19" cy="394.70" r="0.35" fill="#6e5a58" fill-opacity="0.60"/>
<circle cx="485.57" cy="394.70" r="0.35" fill="#6e5a58" fill-opacity="0.60"/>
<circle cx="498.76" cy="394.70" r="0.40" fill="#6e5a58" fill-opacity="0.80"/>
<circle cx="511.96" cy="394.70" r="1.45" fill="#fee7dd" stroke="#3a1a1a" stroke-opacity="0.75" stroke-width="0.3"/>
<circle cx="525.15" cy="394.70" r="1.10" fill="#fee7dd" stroke="#3a1a1a" stroke-opacity="0.75" stroke-width="0.3"/>
<circle cx="538.34" cy="394.70" r="2.35" fill="#fcac8f" stroke="#3a1a1a" stroke-opacity="0.75" stroke-width="0.3"/>
<circle cx="551.53" cy="394.70" r="0.35" fill="#6e5a58" fill-opacity="0.55"/>
<circle cx="564.72" cy="394.70" r="2.35" fill="#fca385" stroke="#3a1a1a" stroke-opacity="0.75" stroke-width="0.3"/>
<circle cx="577.92" cy="394.70" r="1.10" fill="#fee7dd" stroke="#3a1a1a" stroke-opacity="0.75" stroke-width="0.3"/>
<circle cx="591.11" cy="394.70" r="1.65" fill="#feddce" stroke="#3a1a1a" stroke-opacity="0.75" stroke-width="0.3"/>
<circle cx="604.30" cy="394.70" r="1.15" fill="#fee7dd" stroke="#3a1a1a" stroke-opacity="0.75" stroke-width="0.3"/>
<circle cx="116.20" cy="406.85" r="0.35" fill="#6e5a58" fill-opacity="0.60"/>
<circle cx="129.39" cy="406.85" r="0.35" fill="#6e5a58" fill-opacity="0.55"/>
<circle cx="142.58" cy="406.85" r="0.75" fill="#fdd5c3" stroke="#3a1a1a" stroke-opacity="0.75" stroke-width="0.3"/>
<circle cx="168.97" cy="406.85" r="0.35" fill="#6e5a58" fill-opacity="0.60"/>
<circle cx="182.16" cy="406.85" r="0.35" fill="#6e5a58" fill-opacity="0.60"/>
<circle cx="195.35" cy="406.85" r="0.35" fill="#6e5a58" fill-opacity="0.55"/>
<circle cx="208.54" cy="406.85" r="0.40" fill="#6e5a58" fill-opacity="0.80"/>
<circle cx="221.74" cy="406.85" r="0.35" fill="#6e5a58" fill-opacity="0.60"/>
<circle cx="234.93" cy="406.85" r="0.35" fill="#6e5a58" fill-opacity="0.60"/>
<circle cx="248.12" cy="406.85" r="0.35" fill="#6e5a58" fill-opacity="0.65"/>
<circle cx="261.31" cy="406.85" r="0.40" fill="#6e5a58" fill-opacity="0.80"/>
<circle cx="274.50" cy="406.85" r="0.35" fill="#6e5a58" fill-opacity="0.60"/>
<circle cx="287.69" cy="406.85" r="0.35" fill="#6e5a58" fill-opacity="0.55"/>
<circle cx="300.89" cy="406.85" r="0.35" fill="#6e5a58" fill-opacity="0.65"/>
<circle cx="314.08" cy="406.85" r="0.35" fill="#6e5a58" fill-opacity="0.65"/>
<circle cx="327.27" cy="406.85" r="0.35" fill="#6e5a58" fill-opacity="0.70"/>
<circle cx="340.46" cy="406.85" r="0.35" fill="#6e5a58" fill-opacity="0.70"/>
<circle cx="353.65" cy="406.85" r="0.35" fill="#6e5a58" fill-opacity="0.70"/>
<circle cx="366.85" cy="406.85" r="2.85" fill="#f24733" stroke="#3a1a1a" stroke-opacity="0.75" stroke-width="0.3"/>
<circle cx="393.23" cy="406.85" r="0.35" fill="#6e5a58" fill-opacity="0.65"/>
<circle cx="406.42" cy="406.85" r="2.25" fill="#fcac8f" stroke="#3a1a1a" stroke-opacity="0.75" stroke-width="0.3"/>
<circle cx="419.61" cy="406.85" r="3.10" fill="#f75b40" stroke="#3a1a1a" stroke-opacity="0.75" stroke-width="0.3"/>
<circle cx="432.81" cy="406.85" r="0.75" fill="#fdd5c3" stroke="#3a1a1a" stroke-opacity="0.75" stroke-width="0.3"/>
<circle cx="446.00" cy="406.85" r="0.85" fill="#fdd5c3" stroke="#3a1a1a" stroke-opacity="0.75" stroke-width="0.3"/>
<circle cx="459.19" cy="406.85" r="1.35" fill="#fee3d6" stroke="#3a1a1a" stroke-opacity="0.75" stroke-width="0.3"/>
<circle cx="472.38" cy="406.85" r="0.50" fill="#6e5a58" fill-opacity="0.90"/>
<circle cx="485.57" cy="406.85" r="2.50" fill="#fb7757" stroke="#3a1a1a" stroke-opacity="0.75" stroke-width="0.3"/>
<circle cx="498.76" cy="406.85" r="3.25" fill="#e12d26" stroke="#3a1a1a" stroke-opacity="0.75" stroke-width="0.3"/>
<circle cx="511.96" cy="406.85" r="0.65" fill="#6e5a58" fill-opacity="1.00"/>
<circle cx="525.15" cy="406.85" r="1.45" fill="#fee7dd" stroke="#3a1a1a" stroke-opacity="0.75" stroke-width="0.3"/>
<circle cx="538.34" cy="406.85" r="1.35" fill="#fee7dd" stroke="#3a1a1a" stroke-opacity="0.75" stroke-width="0.3"/>
<circle cx="551.53" cy="406.85" r="1.65" fill="#fee3d6" stroke="#3a1a1a" stroke-opacity="0.75" stroke-width="0.3"/>
<circle cx="564.72" cy="406.85" r="2.35" fill="#fca385" stroke="#3a1a1a" stroke-opacity="0.75" stroke-width="0.3"/>
<circle cx="577.92" cy="406.85" r="0.60" fill="#6e5a58" fill-opacity="1.00"/>
<circle cx="591.11" cy="406.85" r="0.75" fill="#feddce" stroke="#3a1a1a" stroke-opacity="0.75" stroke-width="0.3"/>
<circle cx="604.30" cy="406.85" r="1.25" fill="#fee7dd" stroke="#3a1a1a" stroke-opacity="0.75" stroke-width="0.3"/>
<circle cx="142.58" cy="419.00" r="1.35" fill="#fee3d6" stroke="#3a1a1a" stroke-opacity="0.75" stroke-width="0.3"/>
<circle cx="208.54" cy="419.00" r="0.50" fill="#6e5a58" fill-opacity="0.90"/>
<circle cx="261.31" cy="419.00" r="0.35" fill="#6e5a58" fill-opacity="0.70"/>
<circle cx="300.89" cy="419.00" r="1.00" fill="#fdd5c3" stroke="#3a1a1a" stroke-opacity="0.75" stroke-width="0.3"/>
<circle cx="366.85" cy="419.00" r="2.00" fill="#fdd5c3" stroke="#3a1a1a" stroke-opacity="0.75" stroke-width="0.3"/>
<circle cx="393.23" cy="419.00" r="0.75" fill="#6e5a58" fill-opacity="1.00"/>
<circle cx="406.42" cy="419.00" r="1.60" fill="#fee3d6" stroke="#3a1a1a" stroke-opacity="0.75" stroke-width="0.3"/>
<circle cx="419.61" cy="419.00" r="1.75" fill="#feddce" stroke="#3a1a1a" stroke-opacity="0.75" stroke-width="0.3"/>
<circle cx="432.81" cy="419.00" r="2.60" fill="#fcb499" stroke="#3a1a1a" stroke-opacity="0.75" stroke-width="0.3"/>
<circle cx="446.00" cy="419.00" r="1.75" fill="#fee7dd" stroke="#3a1a1a" stroke-opacity="0.75" stroke-width="0.3"/>
<circle cx="459.19" cy="419.00" r="2.15" fill="#fcb499" stroke="#3a1a1a" stroke-opacity="0.75" stroke-width="0.3"/>
<circle cx="472.38" cy="419.00" r="1.10" fill="#fee7dd" stroke="#3a1a1a" stroke-opacity="0.75" stroke-width="0.3"/>
<circle cx="485.57" cy="419.00" r="2.50" fill="#fc8060" stroke="#3a1a1a" stroke-opacity="0.75" stroke-width="0.3"/>
<circle cx="498.76" cy="419.00" r="2.50" fill="#fcac8f" stroke="#3a1a1a" stroke-opacity="0.75" stroke-width="0.3"/>
<circle cx="511.96" cy="419.00" r="2.65" fill="#fcb499" stroke="#3a1a1a" stroke-opacity="0.75" stroke-width="0.3"/>
<circle cx="525.15" cy="419.00" r="1.45" fill="#fee7dd" stroke="#3a1a1a" stroke-opacity="0.75" stroke-width="0.3"/>
<circle cx="538.34" cy="419.00" r="1.00" fill="#fee3d6" stroke="#3a1a1a" stroke-opacity="0.75" stroke-width="0.3"/>
<circle cx="551.53" cy="419.00" r="2.75" fill="#fc8060" stroke="#3a1a1a" stroke-opacity="0.75" stroke-width="0.3"/>
<circle cx="564.72" cy="419.00" r="2.95" fill="#fc9171" stroke="#3a1a1a" stroke-opacity="0.75" stroke-width="0.3"/>
<circle cx="577.92" cy="419.00" r="1.60" fill="#ffece3" stroke="#3a1a1a" stroke-opacity="0.75" stroke-width="0.3"/>
<circle cx="591.11" cy="419.00" r="1.65" fill="#ffece3" stroke="#3a1a1a" stroke-opacity="0.75" stroke-width="0.3"/>
<circle cx="604.30" cy="419.00" r="1.25" fill="#fee7dd" stroke="#3a1a1a" stroke-opacity="0.75" stroke-width="0.3"/>
<circle cx="116.20" cy="431.15" r="0.35" fill="#6e5a58" fill-opacity="0.60"/>
<circle cx="129.39" cy="431.15" r="0.35" fill="#6e5a58" fill-opacity="0.55"/>
<circle cx="142.58" cy="431.15" r="0.75" fill="#6e5a58" fill-opacity="1.00"/>
<circle cx="155.78" cy="431.15" r="0.35" fill="#6e5a58" fill-opacity="0.60"/>
<circle cx="168.97" cy="431.15" r="0.35" fill="#6e5a58" fill-opacity="0.60"/>
<circle cx="182.16" cy="431.15" r="0.35" fill="#6e5a58" fill-opacity="0.55"/>
<circle cx="208.54" cy="431.15" r="0.40" fill="#6e5a58" fill-opacity="0.80"/>
<circle cx="221.74" cy="431.15" r="0.35" fill="#6e5a58" fill-opacity="0.65"/>
<circle cx="234.93" cy="431.15" r="0.35" fill="#6e5a58" fill-opacity="0.65"/>
<circle cx="248.12" cy="431.15" r="0.35" fill="#6e5a58" fill-opacity="0.70"/>
<circle cx="261.31" cy="431.15" r="0.60" fill="#6e5a58" fill-opacity="1.00"/>
<circle cx="274.50" cy="431.15" r="0.35" fill="#6e5a58" fill-opacity="0.55"/>
<circle cx="287.69" cy="431.15" r="0.35" fill="#6e5a58" fill-opacity="0.65"/>
<circle cx="300.89" cy="431.15" r="0.50" fill="#6e5a58" fill-opacity="0.90"/>
<circle cx="314.08" cy="431.15" r="0.50" fill="#6e5a58" fill-opacity="0.90"/>
<circle cx="327.27" cy="431.15" r="0.40" fill="#6e5a58" fill-opacity="0.80"/>
<circle cx="340.46" cy="431.15" r="0.35" fill="#6e5a58" fill-opacity="0.65"/>
<circle cx="353.65" cy="431.15" r="0.35" fill="#6e5a58" fill-opacity="0.65"/>
<circle cx="366.85" cy="431.15" r="1.60" fill="#feddce" stroke="#3a1a1a" stroke-opacity="0.75" stroke-width="0.3"/>
<circle cx="380.04" cy="431.15" r="0.35" fill="#6e5a58" fill-opacity="0.55"/>
<circle cx="393.23" cy="431.15" r="0.65" fill="#6e5a58" fill-opacity="1.00"/>
<circle cx="406.42" cy="431.15" r="1.35" fill="#fee3d6" stroke="#3a1a1a" stroke-opacity="0.75" stroke-width="0.3"/>
<circle cx="419.61" cy="431.15" r="1.25" fill="#fee3d6" stroke="#3a1a1a" stroke-opacity="0.75" stroke-width="0.3"/>
<circle cx="432.81" cy="431.15" r="1.60" fill="#feddce" stroke="#3a1a1a" stroke-opacity="0.75" stroke-width="0.3"/>
<circle cx="446.00" cy="431.15" r="0.60" fill="#6e5a58" fill-opacity="1.00"/>
<circle cx="459.19" cy="431.15" r="1.00" fill="#fee3d6" stroke="#3a1a1a" stroke-opacity="0.75" stroke-width="0.3"/>
<circle cx="472.38" cy="431.15" r="0.50" fill="#6e5a58" fill-opacity="0.90"/>
<circle cx="485.57" cy="431.15" r="0.60" fill="#6e5a58" fill-opacity="1.00"/>
<circle cx="498.76" cy="431.15" r="2.45" fill="#fc9a7b" stroke="#3a1a1a" stroke-opacity="0.75" stroke-width="0.3"/>
<circle cx="511.96" cy="431.15" r="2.35" fill="#fc9a7b" stroke="#3a1a1a" stroke-opacity="0.75" stroke-width="0.3"/>
<circle cx="525.15" cy="431.15" r="1.35" fill="#ffece3" stroke="#3a1a1a" stroke-opacity="0.75" stroke-width="0.3"/>
<circle cx="538.34" cy="431.15" r="0.60" fill="#fdd5c3" stroke="#3a1a1a" stroke-opacity="0.75" stroke-width="0.3"/>
<circle cx="551.53" cy="431.15" r="2.10" fill="#fcac8f" stroke="#3a1a1a" stroke-opacity="0.75" stroke-width="0.3"/>
<circle cx="564.72" cy="431.15" r="1.85" fill="#fdcdb9" stroke="#3a1a1a" stroke-opacity="0.75" stroke-width="0.3"/>
<circle cx="577.92" cy="431.15" r="1.15" fill="#ffece3" stroke="#3a1a1a" stroke-opacity="0.75" stroke-width="0.3"/>
<circle cx="591.11" cy="431.15" r="1.35" fill="#ffece3" stroke="#3a1a1a" stroke-opacity="0.75" stroke-width="0.3"/>
<circle cx="604.30" cy="431.15" r="1.10" fill="#fee7dd" stroke="#3a1a1a" stroke-opacity="0.75" stroke-width="0.3"/>
<circle cx="116.20" cy="443.30" r="0.40" fill="#6e5a58" fill-opacity="0.80"/>
<circle cx="142.58" cy="443.30" r="0.40" fill="#6e5a58" fill-opacity="0.80"/>
<circle cx="261.31" cy="443.30" r="0.50" fill="#6e5a58" fill-opacity="0.90"/>
<circle cx="300.89" cy="443.30" r="0.60" fill="#6e5a58" fill-opacity="1.00"/>
<circle cx="314.08" cy="443.30" r="0.35" fill="#6e5a58" fill-opacity="0.70"/>
<circle cx="327.27" cy="443.30" r="0.40" fill="#6e5a58" fill-opacity="0.80"/>
<circle cx="366.85" cy="443.30" r="1.45" fill="#fee7dd" stroke="#3a1a1a" stroke-opacity="0.75" stroke-width="0.3"/>
<circle cx="393.23" cy="443.30" r="1.10" fill="#fee7dd" stroke="#3a1a1a" stroke-opacity="0.75" stroke-width="0.3"/>
<circle cx="406.42" cy="443.30" r="0.35" fill="#6e5a58" fill-opacity="0.70"/>
<circle cx="419.61" cy="443.30" r="0.40" fill="#6e5a58" fill-opacity="0.80"/>
<circle cx="432.81" cy="443.30" r="0.75" fill="#6e5a58" fill-opacity="1.00"/>
<circle cx="446.00" cy="443.30" r="0.35" fill="#6e5a58" fill-opacity="0.70"/>
<circle cx="459.19" cy="443.30" r="0.35" fill="#6e5a58" fill-opacity="0.70"/>
<circle cx="485.57" cy="443.30" r="0.50" fill="#6e5a58" fill-opacity="0.90"/>
<circle cx="498.76" cy="443.30" r="0.50" fill="#6e5a58" fill-opacity="0.90"/>
<circle cx="511.96" cy="443.30" r="1.65" fill="#fee3d6" stroke="#3a1a1a" stroke-opacity="0.75" stroke-width="0.3"/>
<circle cx="525.15" cy="443.30" r="0.95" fill="#fee3d6" stroke="#3a1a1a" stroke-opacity="0.75" stroke-width="0.3"/>
<circle cx="538.34" cy="443.30" r="0.40" fill="#6e5a58" fill-opacity="0.80"/>
<circle cx="551.53" cy="443.30" r="2.10" fill="#fcb499" stroke="#3a1a1a" stroke-opacity="0.75" stroke-width="0.3"/>
<circle cx="564.72" cy="443.30" r="1.25" fill="#fee7dd" stroke="#3a1a1a" stroke-opacity="0.75" stroke-width="0.3"/>
<circle cx="577.92" cy="443.30" r="0.50" fill="#6e5a58" fill-opacity="0.90"/>
<circle cx="591.11" cy="443.30" r="0.50" fill="#6e5a58" fill-opacity="0.90"/>
<circle cx="604.30" cy="443.30" r="0.40" fill="#6e5a58" fill-opacity="0.80"/>
<circle cx="142.58" cy="455.45" r="0.50" fill="#6e5a58" fill-opacity="0.90"/>
<circle cx="300.89" cy="455.45" r="1.85" fill="#fdd5c3" stroke="#3a1a1a" stroke-opacity="0.75" stroke-width="0.3"/>
<circle cx="327.27" cy="455.45" r="0.40" fill="#6e5a58" fill-opacity="0.80"/>
<circle cx="366.85" cy="455.45" r="0.85" fill="#fee3d6" stroke="#3a1a1a" stroke-opacity="0.75" stroke-width="0.3"/>
<circle cx="393.23" cy="455.45" r="1.10" fill="#fee7dd" stroke="#3a1a1a" stroke-opacity="0.75" stroke-width="0.3"/>
<circle cx="406.42" cy="455.45" r="0.50" fill="#6e5a58" fill-opacity="0.90"/>
<circle cx="432.81" cy="455.45" r="1.55" fill="#fdd5c3" stroke="#3a1a1a" stroke-opacity="0.75" stroke-width="0.3"/>
<circle cx="446.00" cy="455.45" r="1.60" fill="#fee3d6" stroke="#3a1a1a" stroke-opacity="0.75" stroke-width="0.3"/>
<circle cx="459.19" cy="455.45" r="0.60" fill="#fee3d6" stroke="#3a1a1a" stroke-opacity="0.75" stroke-width="0.3"/>
<circle cx="472.38" cy="455.45" r="0.95" fill="#fee3d6" stroke="#3a1a1a" stroke-opacity="0.75" stroke-width="0.3"/>
<circle cx="485.57" cy="455.45" r="2.00" fill="#fc9a7b" stroke="#3a1a1a" stroke-opacity="0.75" stroke-width="0.3"/>
<circle cx="498.76" cy="455.45" r="1.35" fill="#fee3d6" stroke="#3a1a1a" stroke-opacity="0.75" stroke-width="0.3"/>
<circle cx="511.96" cy="455.45" r="3.95" fill="#67000d" stroke="#3a1a1a" stroke-opacity="0.75" stroke-width="0.3"/>
<circle cx="525.15" cy="455.45" r="0.60" fill="#fee3d6" stroke="#3a1a1a" stroke-opacity="0.75" stroke-width="0.3"/>
<circle cx="538.34" cy="455.45" r="2.25" fill="#fca385" stroke="#3a1a1a" stroke-opacity="0.75" stroke-width="0.3"/>
<circle cx="551.53" cy="455.45" r="2.95" fill="#fc9171" stroke="#3a1a1a" stroke-opacity="0.75" stroke-width="0.3"/>
<circle cx="564.72" cy="455.45" r="1.35" fill="#fdcdb9" stroke="#3a1a1a" stroke-opacity="0.75" stroke-width="0.3"/>
<circle cx="577.92" cy="455.45" r="1.55" fill="#feddce" stroke="#3a1a1a" stroke-opacity="0.75" stroke-width="0.3"/>
<circle cx="591.11" cy="455.45" r="1.45" fill="#fee3d6" stroke="#3a1a1a" stroke-opacity="0.75" stroke-width="0.3"/>
<circle cx="604.30" cy="455.45" r="0.60" fill="#6e5a58" fill-opacity="1.00"/>
<circle cx="129.39" cy="467.60" r="0.35" fill="#6e5a58" fill-opacity="0.55"/>
<circle cx="142.58" cy="467.60" r="0.95" fill="#fee7dd" stroke="#3a1a1a" stroke-opacity="0.75" stroke-width="0.3"/>
<circle cx="168.97" cy="467.60" r="0.35" fill="#6e5a58" fill-opacity="0.55"/>
<circle cx="182.16" cy="467.60" r="0.35" fill="#6e5a58" fill-opacity="0.55"/>
<circle cx="208.54" cy="467.60" r="0.35" fill="#6e5a58" fill-opacity="0.55"/>
<circle cx="221.74" cy="467.60" r="0.35" fill="#6e5a58" fill-opacity="0.55"/>
<circle cx="234.93" cy="467.60" r="0.35" fill="#6e5a58" fill-opacity="0.55"/>
<circle cx="248.12" cy="467.60" r="0.35" fill="#6e5a58" fill-opacity="0.60"/>
<circle cx="261.31" cy="467.60" r="0.40" fill="#6e5a58" fill-opacity="0.80"/>
<circle cx="274.50" cy="467.60" r="0.35" fill="#6e5a58" fill-opacity="0.60"/>
<circle cx="287.69" cy="467.60" r="0.35" fill="#6e5a58" fill-opacity="0.55"/>
<circle cx="300.89" cy="467.60" r="0.50" fill="#6e5a58" fill-opacity="0.90"/>
<circle cx="314.08" cy="467.60" r="0.35" fill="#6e5a58" fill-opacity="0.60"/>
<circle cx="327.27" cy="467.60" r="0.35" fill="#6e5a58" fill-opacity="0.65"/>
<circle cx="340.46" cy="467.60" r="0.35" fill="#6e5a58" fill-opacity="0.55"/>
<circle cx="353.65" cy="467.60" r="0.35" fill="#6e5a58" fill-opacity="0.55"/>
<circle cx="366.85" cy="467.60" r="1.95" fill="#fdc5ae" stroke="#3a1a1a" stroke-opacity="0.75" stroke-width="0.3"/>
<circle cx="393.23" cy="467.60" r="0.75" fill="#6e5a58" fill-opacity="1.00"/>
<circle cx="406.42" cy="467.60" r="1.50" fill="#fdd5c3" stroke="#3a1a1a" stroke-opacity="0.75" stroke-width="0.3"/>
<circle cx="419.61" cy="467.60" r="1.35" fill="#fdd5c3" stroke="#3a1a1a" stroke-opacity="0.75" stroke-width="0.3"/>
<circle cx="432.81" cy="467.60" r="2.35" fill="#fcac8f" stroke="#3a1a1a" stroke-opacity="0.75" stroke-width="0.3"/>
<circle cx="446.00" cy="467.60" r="0.75" fill="#fdd5c3" stroke="#3a1a1a" stroke-opacity="0.75" stroke-width="0.3"/>
<circle cx="459.19" cy="467.60" r="1.35" fill="#fee3d6" stroke="#3a1a1a" stroke-opacity="0.75" stroke-width="0.3"/>
<circle cx="472.38" cy="467.60" r="0.95" fill="#fee3d6" stroke="#3a1a1a" stroke-opacity="0.75" stroke-width="0.3"/>
<circle cx="485.57" cy="467.60" r="1.00" fill="#fee3d6" stroke="#3a1a1a" stroke-opacity="0.75" stroke-width="0.3"/>
<circle cx="498.76" cy="467.60" r="2.35" fill="#fca385" stroke="#3a1a1a" stroke-opacity="0.75" stroke-width="0.3"/>
<circle cx="511.96" cy="467.60" r="1.55" fill="#fee3d6" stroke="#3a1a1a" stroke-opacity="0.75" stroke-width="0.3"/>
<circle cx="525.15" cy="467.60" r="1.55" fill="#fdd5c3" stroke="#3a1a1a" stroke-opacity="0.75" stroke-width="0.3"/>
<circle cx="538.34" cy="467.60" r="0.65" fill="#6e5a58" fill-opacity="1.00"/>
<circle cx="551.53" cy="467.60" r="2.45" fill="#fc9a7b" stroke="#3a1a1a" stroke-opacity="0.75" stroke-width="0.3"/>
<circle cx="564.72" cy="467.60" r="2.35" fill="#fcac8f" stroke="#3a1a1a" stroke-opacity="0.75" stroke-width="0.3"/>
<circle cx="577.92" cy="467.60" r="1.55" fill="#fee3d6" stroke="#3a1a1a" stroke-opacity="0.75" stroke-width="0.3"/>
<circle cx="591.11" cy="467.60" r="1.55" fill="#feddce" stroke="#3a1a1a" stroke-opacity="0.75" stroke-width="0.3"/>
<circle cx="604.30" cy="467.60" r="0.95" fill="#fee7dd" stroke="#3a1a1a" stroke-opacity="0.75" stroke-width="0.3"/>
<circle cx="116.20" cy="479.75" r="1.00" fill="#fee3d6" stroke="#3a1a1a" stroke-opacity="0.75" stroke-width="0.3"/>
<circle cx="142.58" cy="479.75" r="0.40" fill="#6e5a58" fill-opacity="0.80"/>
<circle cx="208.54" cy="479.75" r="0.50" fill="#6e5a58" fill-opacity="0.90"/>
<circle cx="221.74" cy="479.75" r="0.35" fill="#6e5a58" fill-opacity="0.60"/>
<circle cx="248.12" cy="479.75" r="0.40" fill="#6e5a58" fill-opacity="0.80"/>
<circle cx="261.31" cy="479.75" r="0.40" fill="#6e5a58" fill-opacity="0.80"/>
<circle cx="274.50" cy="479.75" r="0.35" fill="#6e5a58" fill-opacity="0.55"/>
<circle cx="300.89" cy="479.75" r="0.35" fill="#6e5a58" fill-opacity="0.70"/>
<circle cx="327.27" cy="479.75" r="0.35" fill="#6e5a58" fill-opacity="0.70"/>
<circle cx="366.85" cy="479.75" r="1.45" fill="#fdd5c3" stroke="#3a1a1a" stroke-opacity="0.75" stroke-width="0.3"/>
<circle cx="393.23" cy="479.75" r="0.95" fill="#fee3d6" stroke="#3a1a1a" stroke-opacity="0.75" stroke-width="0.3"/>
<circle cx="406.42" cy="479.75" r="1.25" fill="#fee3d6" stroke="#3a1a1a" stroke-opacity="0.75" stroke-width="0.3"/>
<circle cx="419.61" cy="479.75" r="1.25" fill="#feddce" stroke="#3a1a1a" stroke-opacity="0.75" stroke-width="0.3"/>
<circle cx="432.81" cy="479.75" r="0.35" fill="#6e5a58" fill-opacity="0.65"/>
<circle cx="446.00" cy="479.75" r="0.35" fill="#6e5a58" fill-opacity="0.70"/>
<circle cx="472.38" cy="479.75" r="0.35" fill="#6e5a58" fill-opacity="0.60"/>
<circle cx="485.57" cy="479.75" r="0.50" fill="#6e5a58" fill-opacity="0.90"/>
<circle cx="498.76" cy="479.75" r="2.00" fill="#fc9171" stroke="#3a1a1a" stroke-opacity="0.75" stroke-width="0.3"/>
<circle cx="511.96" cy="479.75" r="1.00" fill="#fee7dd" stroke="#3a1a1a" stroke-opacity="0.75" stroke-width="0.3"/>
<circle cx="525.15" cy="479.75" r="1.65" fill="#fdcdb9" stroke="#3a1a1a" stroke-opacity="0.75" stroke-width="0.3"/>
<circle cx="538.34" cy="479.75" r="0.85" fill="#fee3d6" stroke="#3a1a1a" stroke-opacity="0.75" stroke-width="0.3"/>
<circle cx="551.53" cy="479.75" r="2.45" fill="#fb7757" stroke="#3a1a1a" stroke-opacity="0.75" stroke-width="0.3"/>
<circle cx="564.72" cy="479.75" r="2.25" fill="#fcac8f" stroke="#3a1a1a" stroke-opacity="0.75" stroke-width="0.3"/>
<circle cx="577.92" cy="479.75" r="0.85" fill="#feddce" stroke="#3a1a1a" stroke-opacity="0.75" stroke-width="0.3"/>
<circle cx="591.11" cy="479.75" r="1.35" fill="#fee3d6" stroke="#3a1a1a" stroke-opacity="0.75" stroke-width="0.3"/>
<circle cx="604.30" cy="479.75" r="1.05" fill="#fee3d6" stroke="#3a1a1a" stroke-opacity="0.75" stroke-width="0.3"/>
<circle cx="116.20" cy="491.90" r="0.35" fill="#6e5a58" fill-opacity="0.60"/>
<circle cx="142.58" cy="491.90" r="0.40" fill="#6e5a58" fill-opacity="0.80"/>
<circle cx="182.16" cy="491.90" r="0.35" fill="#6e5a58" fill-opacity="0.60"/>
<circle cx="208.54" cy="491.90" r="0.50" fill="#6e5a58" fill-opacity="0.90"/>
<circle cx="221.74" cy="491.90" r="0.35" fill="#6e5a58" fill-opacity="0.70"/>
<circle cx="234.93" cy="491.90" r="0.35" fill="#6e5a58" fill-opacity="0.60"/>
<circle cx="248.12" cy="491.90" r="0.35" fill="#6e5a58" fill-opacity="0.60"/>
<circle cx="261.31" cy="491.90" r="0.50" fill="#6e5a58" fill-opacity="0.90"/>
<circle cx="300.89" cy="491.90" r="0.50" fill="#6e5a58" fill-opacity="0.90"/>
<circle cx="314.08" cy="491.90" r="0.35" fill="#6e5a58" fill-opacity="0.60"/>
<circle cx="327.27" cy="491.90" r="0.35" fill="#6e5a58" fill-opacity="0.55"/>
<circle cx="353.65" cy="491.90" r="0.50" fill="#6e5a58" fill-opacity="0.90"/>
<circle cx="366.85" cy="491.90" r="0.60" fill="#6e5a58" fill-opacity="1.00"/>
<circle cx="393.23" cy="491.90" r="0.75" fill="#6e5a58" fill-opacity="1.00"/>
<circle cx="406.42" cy="491.90" r="1.35" fill="#fee3d6" stroke="#3a1a1a" stroke-opacity="0.75" stroke-width="0.3"/>
<circle cx="419.61" cy="491.90" r="1.85" fill="#fcbda4" stroke="#3a1a1a" stroke-opacity="0.75" stroke-width="0.3"/>
<circle cx="432.81" cy="491.90" r="2.10" fill="#fcbda4" stroke="#3a1a1a" stroke-opacity="0.75" stroke-width="0.3"/>
<circle cx="446.00" cy="491.90" r="1.50" fill="#feddce" stroke="#3a1a1a" stroke-opacity="0.75" stroke-width="0.3"/>
<circle cx="459.19" cy="491.90" r="0.35" fill="#6e5a58" fill-opacity="0.65"/>
<circle cx="472.38" cy="491.90" r="0.35" fill="#6e5a58" fill-opacity="0.60"/>
<circle cx="485.57" cy="491.90" r="1.10" fill="#feddce" stroke="#3a1a1a" stroke-opacity="0.75" stroke-width="0.3"/>
<circle cx="498.76" cy="491.90" r="2.95" fill="#fa6547" stroke="#3a1a1a" stroke-opacity="0.75" stroke-width="0.3"/>
<circle cx="511.96" cy="491.90" r="3.10" fill="#b91419" stroke="#3a1a1a" stroke-opacity="0.75" stroke-width="0.3"/>
<circle cx="525.15" cy="491.90" r="1.35" fill="#fee7dd" stroke="#3a1a1a" stroke-opacity="0.75" stroke-width="0.3"/>
<circle cx="538.34" cy="491.90" r="1.10" fill="#fee7dd" stroke="#3a1a1a" stroke-opacity="0.75" stroke-width="0.3"/>
<circle cx="551.53" cy="491.90" r="2.45" fill="#fc9a7b" stroke="#3a1a1a" stroke-opacity="0.75" stroke-width="0.3"/>
<circle cx="564.72" cy="491.90" r="2.15" fill="#fcbda4" stroke="#3a1a1a" stroke-opacity="0.75" stroke-width="0.3"/>
<circle cx="577.92" cy="491.90" r="1.05" fill="#fee3d6" stroke="#3a1a1a" stroke-opacity="0.75" stroke-width="0.3"/>
<circle cx="591.11" cy="491.90" r="1.65" fill="#fee3d6" stroke="#3a1a1a" stroke-opacity="0.75" stroke-width="0.3"/>
<circle cx="604.30" cy="491.90" r="0.75" fill="#fee3d6" stroke="#3a1a1a" stroke-opacity="0.75" stroke-width="0.3"/>
<circle cx="142.58" cy="504.05" r="0.85" fill="#fee3d6" stroke="#3a1a1a" stroke-opacity="0.75" stroke-width="0.3"/>
<circle cx="208.54" cy="504.05" r="0.60" fill="#6e5a58" fill-opacity="1.00"/>
<circle cx="274.50" cy="504.05" r="0.35" fill="#6e5a58" fill-opacity="0.70"/>
<circle cx="300.89" cy="504.05" r="1.45" fill="#feddce" stroke="#3a1a1a" stroke-opacity="0.75" stroke-width="0.3"/>
<circle cx="327.27" cy="504.05" r="0.40" fill="#6e5a58" fill-opacity="0.80"/>
<circle cx="366.85" cy="504.05" r="0.40" fill="#6e5a58" fill-opacity="0.80"/>
<circle cx="393.23" cy="504.05" r="0.40" fill="#6e5a58" fill-opacity="0.80"/>
<circle cx="406.42" cy="504.05" r="1.35" fill="#feddce" stroke="#3a1a1a" stroke-opacity="0.75" stroke-width="0.3"/>
<circle cx="419.61" cy="504.05" r="1.60" fill="#fdc5ae" stroke="#3a1a1a" stroke-opacity="0.75" stroke-width="0.3"/>
<circle cx="432.81" cy="504.05" r="1.35" fill="#feddce" stroke="#3a1a1a" stroke-opacity="0.75" stroke-width="0.3"/>
<circle cx="446.00" cy="504.05" r="1.85" fill="#fcbda4" stroke="#3a1a1a" stroke-opacity="0.75" stroke-width="0.3"/>
<circle cx="459.19" cy="504.05" r="0.60" fill="#fdc5ae" stroke="#3a1a1a" stroke-opacity="0.75" stroke-width="0.3"/>
<circle cx="472.38" cy="504.05" r="0.95" fill="#feddce" stroke="#3a1a1a" stroke-opacity="0.75" stroke-width="0.3"/>
<circle cx="485.57" cy="504.05" r="1.85" fill="#fca385" stroke="#3a1a1a" stroke-opacity="0.75" stroke-width="0.3"/>
<circle cx="498.76" cy="504.05" r="2.00" fill="#fcb499" stroke="#3a1a1a" stroke-opacity="0.75" stroke-width="0.3"/>
<circle cx="511.96" cy="504.05" r="2.35" fill="#fc8868" stroke="#3a1a1a" stroke-opacity="0.75" stroke-width="0.3"/>
<circle cx="525.15" cy="504.05" r="2.00" fill="#fcb499" stroke="#3a1a1a" stroke-opacity="0.75" stroke-width="0.3"/>
<circle cx="538.34" cy="504.05" r="2.00" fill="#fcb499" stroke="#3a1a1a" stroke-opacity="0.75" stroke-width="0.3"/>
<circle cx="551.53" cy="504.05" r="1.25" fill="#fdd5c3" stroke="#3a1a1a" stroke-opacity="0.75" stroke-width="0.3"/>
<circle cx="564.72" cy="504.05" r="3.35" fill="#ef3d2d" stroke="#3a1a1a" stroke-opacity="0.75" stroke-width="0.3"/>
<circle cx="577.92" cy="504.05" r="0.60" fill="#fdd5c3" stroke="#3a1a1a" stroke-opacity="0.75" stroke-width="0.3"/>
<circle cx="591.11" cy="504.05" r="1.85" fill="#fca385" stroke="#3a1a1a" stroke-opacity="0.75" stroke-width="0.3"/>
<circle cx="604.30" cy="504.05" r="0.95" fill="#fee3d6" stroke="#3a1a1a" stroke-opacity="0.75" stroke-width="0.3"/>
<circle cx="142.58" cy="516.20" r="0.50" fill="#6e5a58" fill-opacity="0.90"/>
<circle cx="168.97" cy="516.20" r="0.35" fill="#6e5a58" fill-opacity="0.65"/>
<circle cx="234.93" cy="516.20" r="0.40" fill="#6e5a58" fill-opacity="0.80"/>
<circle cx="248.12" cy="516.20" r="0.35" fill="#6e5a58" fill-opacity="0.65"/>
<circle cx="261.31" cy="516.20" r="0.60" fill="#fdd5c3" stroke="#3a1a1a" stroke-opacity="0.75" stroke-width="0.3"/>
<circle cx="287.69" cy="516.20" r="0.35" fill="#6e5a58" fill-opacity="0.60"/>
<circle cx="300.89" cy="516.20" r="0.60" fill="#6e5a58" fill-opacity="1.00"/>
<circle cx="314.08" cy="516.20" r="0.40" fill="#6e5a58" fill-opacity="0.80"/>
<circle cx="327.27" cy="516.20" r="0.50" fill="#6e5a58" fill-opacity="0.90"/>
<circle cx="340.46" cy="516.20" r="2.75" fill="#67000d" stroke="#3a1a1a" stroke-opacity="0.75" stroke-width="0.3"/>
<circle cx="353.65" cy="516.20" r="1.35" fill="#67000d" stroke="#3a1a1a" stroke-opacity="0.75" stroke-width="0.3"/>
<circle cx="366.85" cy="516.20" r="3.35" fill="#67000d" stroke="#3a1a1a" stroke-opacity="0.75" stroke-width="0.3"/>
<circle cx="393.23" cy="516.20" r="2.25" fill="#fdc5ae" stroke="#3a1a1a" stroke-opacity="0.75" stroke-width="0.3"/>
<circle cx="406.42" cy="516.20" r="1.10" fill="#fee7dd" stroke="#3a1a1a" stroke-opacity="0.75" stroke-width="0.3"/>
<circle cx="419.61" cy="516.20" r="1.10" fill="#fee7dd" stroke="#3a1a1a" stroke-opacity="0.75" stroke-width="0.3"/>
<circle cx="432.81" cy="516.20" r="1.10" fill="#fee3d6" stroke="#3a1a1a" stroke-opacity="0.75" stroke-width="0.3"/>
<circle cx="446.00" cy="516.20" r="0.35" fill="#6e5a58" fill-opacity="0.55"/>
<circle cx="459.19" cy="516.20" r="1.35" fill="#feddce" stroke="#3a1a1a" stroke-opacity="0.75" stroke-width="0.3"/>
<circle cx="472.38" cy="516.20" r="1.50" fill="#fdcdb9" stroke="#3a1a1a" stroke-opacity="0.75" stroke-width="0.3"/>
<circle cx="485.57" cy="516.20" r="0.35" fill="#6e5a58" fill-opacity="0.65"/>
<circle cx="498.76" cy="516.20" r="1.15" fill="#fee7dd" stroke="#3a1a1a" stroke-opacity="0.75" stroke-width="0.3"/>
<circle cx="511.96" cy="516.20" r="3.25" fill="#e83529" stroke="#3a1a1a" stroke-opacity="0.75" stroke-width="0.3"/>
<circle cx="525.15" cy="516.20" r="1.25" fill="#ffece3" stroke="#3a1a1a" stroke-opacity="0.75" stroke-width="0.3"/>
<circle cx="538.34" cy="516.20" r="1.00" fill="#fee7dd" stroke="#3a1a1a" stroke-opacity="0.75" stroke-width="0.3"/>
<circle cx="551.53" cy="516.20" r="2.85" fill="#fc8868" stroke="#3a1a1a" stroke-opacity="0.75" stroke-width="0.3"/>
<circle cx="564.72" cy="516.20" r="2.55" fill="#fca385" stroke="#3a1a1a" stroke-opacity="0.75" stroke-width="0.3"/>
<circle cx="577.92" cy="516.20" r="2.10" fill="#fcb499" stroke="#3a1a1a" stroke-opacity="0.75" stroke-width="0.3"/>
<circle cx="591.11" cy="516.20" r="1.65" fill="#fdd5c3" stroke="#3a1a1a" stroke-opacity="0.75" stroke-width="0.3"/>
<circle cx="604.30" cy="516.20" r="0.85" fill="#fee7dd" stroke="#3a1a1a" stroke-opacity="0.75" stroke-width="0.3"/>
<circle cx="248.12" cy="528.35" r="0.35" fill="#6e5a58" fill-opacity="0.65"/>
<circle cx="261.31" cy="528.35" r="0.50" fill="#6e5a58" fill-opacity="0.90"/>
<circle cx="287.69" cy="528.35" r="0.35" fill="#6e5a58" fill-opacity="0.65"/>
<circle cx="300.89" cy="528.35" r="0.35" fill="#6e5a58" fill-opacity="0.70"/>
<circle cx="327.27" cy="528.35" r="0.35" fill="#6e5a58" fill-opacity="0.70"/>
<circle cx="340.46" cy="528.35" r="1.85" fill="#f75b40" stroke="#3a1a1a" stroke-opacity="0.75" stroke-width="0.3"/>
<circle cx="366.85" cy="528.35" r="3.85" fill="#67000d" stroke="#3a1a1a" stroke-opacity="0.75" stroke-width="0.3"/>
<circle cx="393.23" cy="528.35" r="2.15" fill="#fdc5ae" stroke="#3a1a1a" stroke-opacity="0.75" stroke-width="0.3"/>
<circle cx="406.42" cy="528.35" r="0.50" fill="#6e5a58" fill-opacity="0.90"/>
<circle cx="419.61" cy="528.35" r="1.25" fill="#feddce" stroke="#3a1a1a" stroke-opacity="0.75" stroke-width="0.3"/>
<circle cx="432.81" cy="528.35" r="1.45" fill="#feddce" stroke="#3a1a1a" stroke-opacity="0.75" stroke-width="0.3"/>
<circle cx="459.19" cy="528.35" r="1.10" fill="#fee3d6" stroke="#3a1a1a" stroke-opacity="0.75" stroke-width="0.3"/>
<circle cx="472.38" cy="528.35" r="0.40" fill="#6e5a58" fill-opacity="0.80"/>
<circle cx="485.57" cy="528.35" r="0.40" fill="#6e5a58" fill-opacity="0.80"/>
<circle cx="498.76" cy="528.35" r="1.65" fill="#fcbda4" stroke="#3a1a1a" stroke-opacity="0.75" stroke-width="0.3"/>
<circle cx="511.96" cy="528.35" r="2.35" fill="#fca385" stroke="#3a1a1a" stroke-opacity="0.75" stroke-width="0.3"/>
<circle cx="525.15" cy="528.35" r="1.10" fill="#ffece3" stroke="#3a1a1a" stroke-opacity="0.75" stroke-width="0.3"/>
<circle cx="538.34" cy="528.35" r="1.35" fill="#fee7dd" stroke="#3a1a1a" stroke-opacity="0.75" stroke-width="0.3"/>
<circle cx="551.53" cy="528.35" r="2.25" fill="#fcb499" stroke="#3a1a1a" stroke-opacity="0.75" stroke-width="0.3"/>
<circle cx="564.72" cy="528.35" r="2.00" fill="#fcbda4" stroke="#3a1a1a" stroke-opacity="0.75" stroke-width="0.3"/>
<circle cx="577.92" cy="528.35" r="1.35" fill="#ffece3" stroke="#3a1a1a" stroke-opacity="0.75" stroke-width="0.3"/>
<circle cx="591.11" cy="528.35" r="1.05" fill="#fee7dd" stroke="#3a1a1a" stroke-opacity="0.75" stroke-width="0.3"/>
<circle cx="604.30" cy="528.35" r="1.35" fill="#fee7dd" stroke="#3a1a1a" stroke-opacity="0.75" stroke-width="0.3"/>
<circle cx="208.54" cy="540.50" r="1.10" fill="#fee7dd" stroke="#3a1a1a" stroke-opacity="0.75" stroke-width="0.3"/>
<circle cx="300.89" cy="540.50" r="1.35" fill="#ffece3" stroke="#3a1a1a" stroke-opacity="0.75" stroke-width="0.3"/>
<circle cx="314.08" cy="540.50" r="1.25" fill="#ffece3" stroke="#3a1a1a" stroke-opacity="0.75" stroke-width="0.3"/>
<circle cx="327.27" cy="540.50" r="2.50" fill="#a81016" stroke="#3a1a1a" stroke-opacity="0.75" stroke-width="0.3"/>
<circle cx="353.65" cy="540.50" r="0.35" fill="#6e5a58" fill-opacity="0.70"/>
<circle cx="366.85" cy="540.50" r="1.45" fill="#fee3d6" stroke="#3a1a1a" stroke-opacity="0.75" stroke-width="0.3"/>
<circle cx="380.04" cy="540.50" r="2.15" fill="#67000d" stroke="#3a1a1a" stroke-opacity="0.75" stroke-width="0.3"/>
<circle cx="406.42" cy="540.50" r="1.95" fill="#fcbda4" stroke="#3a1a1a" stroke-opacity="0.75" stroke-width="0.3"/>
<circle cx="419.61" cy="540.50" r="1.75" fill="#fc8868" stroke="#3a1a1a" stroke-opacity="0.75" stroke-width="0.3"/>
<circle cx="432.81" cy="540.50" r="0.40" fill="#6e5a58" fill-opacity="0.80"/>
<circle cx="446.00" cy="540.50" r="0.60" fill="#fdd5c3" stroke="#3a1a1a" stroke-opacity="0.75" stroke-width="0.3"/>
<circle cx="459.19" cy="540.50" r="1.95" fill="#fc8868" stroke="#3a1a1a" stroke-opacity="0.75" stroke-width="0.3"/>
<circle cx="472.38" cy="540.50" r="1.35" fill="#fdcdb9" stroke="#3a1a1a" stroke-opacity="0.75" stroke-width="0.3"/>
<circle cx="485.57" cy="540.50" r="1.45" fill="#fdcdb9" stroke="#3a1a1a" stroke-opacity="0.75" stroke-width="0.3"/>
<circle cx="498.76" cy="540.50" r="1.00" fill="#fee3d6" stroke="#3a1a1a" stroke-opacity="0.75" stroke-width="0.3"/>
<circle cx="511.96" cy="540.50" r="0.60" fill="#6e5a58" fill-opacity="1.00"/>
<circle cx="525.15" cy="540.50" r="0.40" fill="#6e5a58" fill-opacity="0.80"/>
<circle cx="538.34" cy="540.50" r="0.40" fill="#6e5a58" fill-opacity="0.80"/>
<circle cx="551.53" cy="540.50" r="1.25" fill="#fcb499" stroke="#3a1a1a" stroke-opacity="0.75" stroke-width="0.3"/>
<circle cx="564.72" cy="540.50" r="2.15" fill="#fcb499" stroke="#3a1a1a" stroke-opacity="0.75" stroke-width="0.3"/>
<circle cx="577.92" cy="540.50" r="0.95" fill="#fee3d6" stroke="#3a1a1a" stroke-opacity="0.75" stroke-width="0.3"/>
<circle cx="591.11" cy="540.50" r="1.25" fill="#fee7dd" stroke="#3a1a1a" stroke-opacity="0.75" stroke-width="0.3"/>
<circle cx="604.30" cy="540.50" r="1.25" fill="#fee7dd" stroke="#3a1a1a" stroke-opacity="0.75" stroke-width="0.3"/>
<text x="654.30" y="469.20" font-size="6.15" text-anchor="middle" font-weight="normal" fill="#111" stroke="#111" stroke-width="0.12">Fraction of cells</text>
<text x="654.30" y="475.80" font-size="6.15" text-anchor="middle" font-weight="normal" fill="#111" stroke="#111" stroke-width="0.12">in group (%)</text>
<circle cx="631.10" cy="484.1" r="1.48" fill="#808080"/>
<line x1="631.10" y1="490.30" x2="631.10" y2="492.30" stroke="#222" stroke-width="0.5"/>
<text x="631.10" y="499.80" font-size="6.1" text-anchor="middle" font-weight="normal" fill="#111" stroke="#111" stroke-width="0.12">20</text>
<circle cx="641.90" cy="484.1" r="2.49" fill="#808080"/>
<line x1="641.90" y1="490.30" x2="641.90" y2="492.30" stroke="#222" stroke-width="0.5"/>
<text x="641.90" y="499.80" font-size="6.1" text-anchor="middle" font-weight="normal" fill="#111" stroke="#111" stroke-width="0.12">40</text>
<circle cx="652.70" cy="484.1" r="3.37" fill="#808080"/>
<line x1="652.70" y1="490.30" x2="652.70" y2="492.30" stroke="#222" stroke-width="0.5"/>
<text x="652.70" y="499.80" font-size="6.1" text-anchor="middle" font-weight="normal" fill="#111" stroke="#111" stroke-width="0.12">60</text>
<circle cx="663.50" cy="484.1" r="4.19" fill="#808080"/>
<line x1="663.50" y1="490.30" x2="663.50" y2="492.30" stroke="#222" stroke-width="0.5"/>
<text x="663.50" y="499.80" font-size="6.1" text-anchor="middle" font-weight="normal" fill="#111" stroke="#111" stroke-width="0.12">80</text>
<circle cx="674.30" cy="484.1" r="4.95" fill="#808080"/>
<line x1="674.30" y1="490.30" x2="674.30" y2="492.30" stroke="#222" stroke-width="0.5"/>
<text x="674.30" y="499.80" font-size="6.1" text-anchor="middle" font-weight="normal" fill="#111" stroke="#111" stroke-width="0.12">100</text>
<text x="654.50" y="536.40" font-size="6.15" text-anchor="middle" font-weight="normal" fill="#111" stroke="#111" stroke-width="0.12">Mean expression</text>
<text x="654.50" y="543.00" font-size="6.15" text-anchor="middle" font-weight="normal" fill="#111" stroke="#111" stroke-width="0.12">in group</text>
<defs><linearGradient id="reds" x1="0" y1="0" x2="1" y2="0"><stop offset="0.000" stop-color="#fff5f0"/><stop offset="0.125" stop-color="#fee0d2"/><stop offset="0.250" stop-color="#fcbba1"/><stop offset="0.375" stop-color="#fc9272"/><stop offset="0.500" stop-color="#fb6a4a"/><stop offset="0.625" stop-color="#ef3b2c"/><stop offset="0.750" stop-color="#cb181d"/><stop offset="0.875" stop-color="#a50f15"/><stop offset="1.000" stop-color="#67000d"/></linearGradient></defs>
<rect x="627.3" y="546.5" width="54.5" height="6.3" fill="url(#reds)" stroke="#222" stroke-width="0.5"/>
<line x1="627.30" y1="552.80" x2="627.30" y2="554.80" stroke="#222" stroke-width="0.5"/>
<text x="627.30" y="562.20" font-size="6.1" text-anchor="middle" font-weight="normal" fill="#111" stroke="#111" stroke-width="0.12">0</text>
<line x1="654.55" y1="552.80" x2="654.55" y2="554.80" stroke="#222" stroke-width="0.5"/>
<text x="654.55" y="562.20" font-size="6.1" text-anchor="middle" font-weight="normal" fill="#111" stroke="#111" stroke-width="0.12">1</text>
<line x1="681.80" y1="552.80" x2="681.80" y2="554.80" stroke="#222" stroke-width="0.5"/>
<text x="681.80" y="562.20" font-size="6.1" text-anchor="middle" font-weight="normal" fill="#111" stroke="#111" stroke-width="0.12">2</text>
<line x1="654.55" y1="546.50" x2="654.55" y2="552.80" stroke="#fff" stroke-width="0.5"/>
</svg>
</body></html>
